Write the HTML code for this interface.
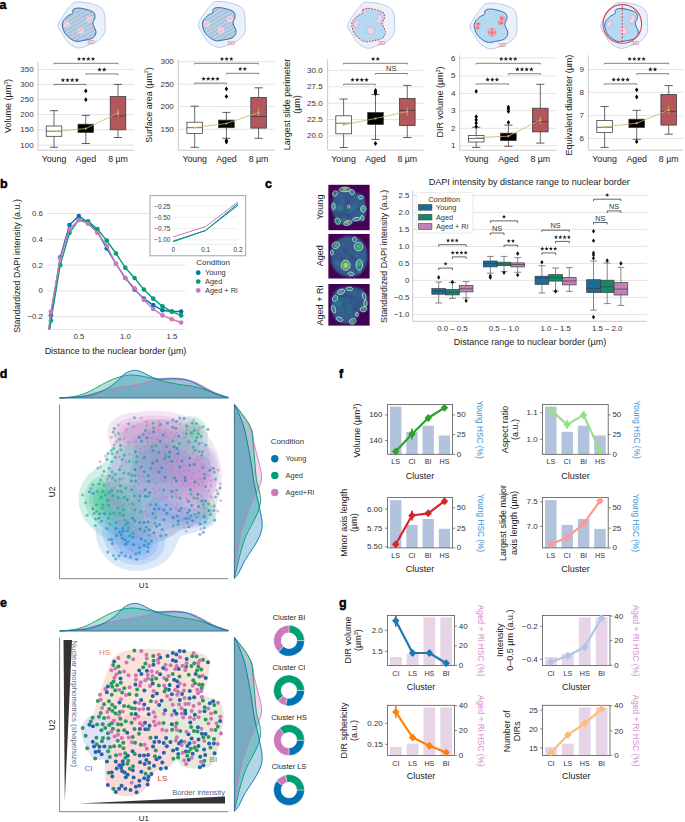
<!DOCTYPE html>
<html><head><meta charset="utf-8"><title>Figure</title>
<style>
html,body{margin:0;padding:0;background:#fff;}
body{width:685px;height:822px;overflow:hidden;}
svg{display:block;font-family:"Liberation Sans", sans-serif;}
</style></head>
<body>
<svg width="685" height="822" viewBox="0 0 685 822">
<rect width="685" height="822" fill="#fff"/>
<text x="-0.6" y="8.8" font-size="12.5" font-weight="bold" fill="#000" stroke="#000" stroke-width="0.45">a</text>
<line x1="38" y1="69.4" x2="134" y2="69.4" stroke="#dcdcdc" stroke-width="0.8" />
<text x="33.7" y="69.4" font-size="8" text-anchor="end" fill="#333" font-weight="normal" dominant-baseline="central" >350</text>
<line x1="38" y1="84.4" x2="134" y2="84.4" stroke="#dcdcdc" stroke-width="0.8" />
<text x="33.7" y="84.4" font-size="8" text-anchor="end" fill="#333" font-weight="normal" dominant-baseline="central" >300</text>
<line x1="38" y1="99.3" x2="134" y2="99.3" stroke="#dcdcdc" stroke-width="0.8" />
<text x="33.7" y="99.3" font-size="8" text-anchor="end" fill="#333" font-weight="normal" dominant-baseline="central" >250</text>
<line x1="38" y1="114.6" x2="134" y2="114.6" stroke="#dcdcdc" stroke-width="0.8" />
<text x="33.7" y="114.6" font-size="8" text-anchor="end" fill="#333" font-weight="normal" dominant-baseline="central" >200</text>
<line x1="38" y1="129.8" x2="134" y2="129.8" stroke="#dcdcdc" stroke-width="0.8" />
<text x="33.7" y="129.8" font-size="8" text-anchor="end" fill="#333" font-weight="normal" dominant-baseline="central" >150</text>
<line x1="38" y1="145.1" x2="134" y2="145.1" stroke="#dcdcdc" stroke-width="0.8" />
<text x="33.7" y="145.1" font-size="8" text-anchor="end" fill="#333" font-weight="normal" dominant-baseline="central" >100</text>
<line x1="38" y1="62" x2="38" y2="150.2" stroke="#bbb" stroke-width="0.8" />
<line x1="38" y1="150.2" x2="134" y2="150.2" stroke="#bbb" stroke-width="0.8" />
<line x1="54" y1="110.7" x2="54" y2="126" stroke="#383838" stroke-width="0.75" />
<line x1="54" y1="136.3" x2="54" y2="147.3" stroke="#383838" stroke-width="0.75" />
<line x1="49.9" y1="110.7" x2="58.1" y2="110.7" stroke="#383838" stroke-width="0.8" />
<line x1="49.9" y1="147.3" x2="58.1" y2="147.3" stroke="#383838" stroke-width="0.8" />
<rect x="46.2" y="126" width="15.6" height="10.3" fill="#fff" stroke="#383838" stroke-width="0.75" />
<line x1="46.2" y1="131.2" x2="61.8" y2="131.2" stroke="#383838" stroke-width="0.75" />
<line x1="85.8" y1="115.4" x2="85.8" y2="124.2" stroke="#383838" stroke-width="0.75" />
<line x1="85.8" y1="132.4" x2="85.8" y2="143.5" stroke="#383838" stroke-width="0.75" />
<line x1="81.7" y1="115.4" x2="89.9" y2="115.4" stroke="#383838" stroke-width="0.8" />
<line x1="81.7" y1="143.5" x2="89.9" y2="143.5" stroke="#383838" stroke-width="0.8" />
<rect x="78" y="124.2" width="15.6" height="8.2" fill="#000" stroke="#383838" stroke-width="0.75" />
<line x1="78" y1="128.7" x2="93.6" y2="128.7" stroke="#000" stroke-width="0.75" />
<path d="M85.8,88.5 L87.5,90.9 L85.8,93.3 L84.1,90.9 Z" fill="#000" stroke="none" stroke-width="0" />
<path d="M85.8,97.3 L87.5,99.7 L85.8,102.1 L84.1,99.7 Z" fill="#000" stroke="none" stroke-width="0" />
<line x1="118" y1="84.4" x2="118" y2="96.6" stroke="#383838" stroke-width="0.75" />
<line x1="118" y1="129.8" x2="118" y2="137.5" stroke="#383838" stroke-width="0.75" />
<line x1="113.9" y1="84.4" x2="122.1" y2="84.4" stroke="#383838" stroke-width="0.8" />
<line x1="113.9" y1="137.5" x2="122.1" y2="137.5" stroke="#383838" stroke-width="0.8" />
<rect x="110.2" y="96.6" width="15.6" height="33.2" fill="#b4575c" stroke="#383838" stroke-width="0.75" />
<line x1="110.2" y1="116" x2="125.8" y2="116" stroke="#383838" stroke-width="0.75" />
<path d="M54,131.5 L85.8,128.6 L118,113" fill="none" stroke="#cdb467" stroke-width="0.8" />
<circle cx="54" cy="131.5" r="1.1" fill="#cdb467" stroke="none" stroke-width="0" />
<circle cx="85.8" cy="128.6" r="1.1" fill="#cdb467" stroke="none" stroke-width="0" />
<circle cx="118" cy="113" r="1.1" fill="#cdb467" stroke="none" stroke-width="0" />
<line x1="118" y1="109" x2="118" y2="117" stroke="#cdb467" stroke-width="0.8" />
<line x1="54" y1="63.3" x2="118" y2="63.3" stroke="#555" stroke-width="0.75" />
<line x1="54" y1="63.3" x2="54" y2="64.5" stroke="#555" stroke-width="0.75" />
<line x1="118" y1="63.3" x2="118" y2="64.5" stroke="#555" stroke-width="0.75" />
<path d="M79.03,56.7 L79.63,58.16 L81.21,58.29 L80.01,59.32 L80.38,60.86 L79.03,60.03 L77.67,60.86 L78.04,59.32 L76.84,58.29 L78.42,58.16 Z" fill="#222" stroke="none" stroke-width="0" />
<path d="M83.68,56.7 L84.28,58.16 L85.86,58.29 L84.66,59.32 L85.03,60.86 L83.68,60.03 L82.32,60.86 L82.69,59.32 L81.49,58.29 L83.07,58.16 Z" fill="#222" stroke="none" stroke-width="0" />
<path d="M88.33,56.7 L88.93,58.16 L90.51,58.29 L89.31,59.32 L89.68,60.86 L88.33,60.03 L86.97,60.86 L87.34,59.32 L86.14,58.29 L87.72,58.16 Z" fill="#222" stroke="none" stroke-width="0" />
<path d="M92.98,56.7 L93.58,58.16 L95.16,58.29 L93.96,59.32 L94.33,60.86 L92.98,60.03 L91.62,60.86 L91.99,59.32 L90.79,58.29 L92.37,58.16 Z" fill="#222" stroke="none" stroke-width="0" />
<line x1="85.8" y1="73.9" x2="118" y2="73.9" stroke="#555" stroke-width="0.75" />
<line x1="85.8" y1="73.9" x2="85.8" y2="75.1" stroke="#555" stroke-width="0.75" />
<line x1="118" y1="73.9" x2="118" y2="75.1" stroke="#555" stroke-width="0.75" />
<path d="M99.58,67.3 L100.18,68.76 L101.76,68.89 L100.56,69.92 L100.93,71.46 L99.58,70.64 L98.22,71.46 L98.59,69.92 L97.39,68.89 L98.97,68.76 Z" fill="#222" stroke="none" stroke-width="0" />
<path d="M104.23,67.3 L104.83,68.76 L106.41,68.89 L105.21,69.92 L105.58,71.46 L104.23,70.64 L102.87,71.46 L103.24,69.92 L102.04,68.89 L103.62,68.76 Z" fill="#222" stroke="none" stroke-width="0" />
<line x1="54" y1="84.4" x2="85.8" y2="84.4" stroke="#555" stroke-width="0.75" />
<line x1="54" y1="84.4" x2="54" y2="85.6" stroke="#555" stroke-width="0.75" />
<line x1="85.8" y1="84.4" x2="85.8" y2="85.6" stroke="#555" stroke-width="0.75" />
<path d="M62.93,77.8 L63.53,79.26 L65.11,79.39 L63.91,80.42 L64.28,81.96 L62.93,81.14 L61.57,81.96 L61.94,80.42 L60.74,79.39 L62.32,79.26 Z" fill="#222" stroke="none" stroke-width="0" />
<path d="M67.58,77.8 L68.18,79.26 L69.76,79.39 L68.56,80.42 L68.93,81.96 L67.58,81.14 L66.22,81.96 L66.59,80.42 L65.39,79.39 L66.97,79.26 Z" fill="#222" stroke="none" stroke-width="0" />
<path d="M72.23,77.8 L72.83,79.26 L74.41,79.39 L73.21,80.42 L73.58,81.96 L72.23,81.14 L70.87,81.96 L71.24,80.42 L70.04,79.39 L71.62,79.26 Z" fill="#222" stroke="none" stroke-width="0" />
<path d="M76.88,77.8 L77.48,79.26 L79.06,79.39 L77.86,80.42 L78.23,81.96 L76.88,81.14 L75.52,81.96 L75.89,80.42 L74.69,79.39 L76.27,79.26 Z" fill="#222" stroke="none" stroke-width="0" />
<text x="54" y="158.6" font-size="8.8" text-anchor="middle" fill="#222" font-weight="normal" dominant-baseline="central" >Young</text>
<text x="85.8" y="158.6" font-size="8.8" text-anchor="middle" fill="#222" font-weight="normal" dominant-baseline="central" >Aged</text>
<text x="118" y="158.6" font-size="8.8" text-anchor="middle" fill="#222" font-weight="normal" dominant-baseline="central" >8 µm</text>
<text x="8.2" y="106" font-size="9" text-anchor="middle" fill="#222" font-weight="normal" dominant-baseline="central" transform="rotate(-90 8.2 106)" >Volume (µm<tspan dy="-2.5" font-size="5">3</tspan><tspan dy="2.5">)</tspan></text>
<line x1="178.3" y1="61.7" x2="274.5" y2="61.7" stroke="#dcdcdc" stroke-width="0.8" />
<text x="173.8" y="61.7" font-size="8" text-anchor="end" fill="#333" font-weight="normal" dominant-baseline="central" >300</text>
<line x1="178.3" y1="84.2" x2="274.5" y2="84.2" stroke="#dcdcdc" stroke-width="0.8" />
<text x="173.8" y="84.2" font-size="8" text-anchor="end" fill="#333" font-weight="normal" dominant-baseline="central" >250</text>
<line x1="178.3" y1="106.6" x2="274.5" y2="106.6" stroke="#dcdcdc" stroke-width="0.8" />
<text x="173.8" y="106.6" font-size="8" text-anchor="end" fill="#333" font-weight="normal" dominant-baseline="central" >200</text>
<line x1="178.3" y1="129.3" x2="274.5" y2="129.3" stroke="#dcdcdc" stroke-width="0.8" />
<text x="173.8" y="129.3" font-size="8" text-anchor="end" fill="#333" font-weight="normal" dominant-baseline="central" >150</text>
<line x1="178.3" y1="59.2" x2="178.3" y2="150.2" stroke="#bbb" stroke-width="0.8" />
<line x1="178.3" y1="150.2" x2="274.5" y2="150.2" stroke="#bbb" stroke-width="0.8" />
<line x1="194.7" y1="106.2" x2="194.7" y2="122.2" stroke="#383838" stroke-width="0.75" />
<line x1="194.7" y1="133.4" x2="194.7" y2="147.3" stroke="#383838" stroke-width="0.75" />
<line x1="190.6" y1="106.2" x2="198.8" y2="106.2" stroke="#383838" stroke-width="0.8" />
<line x1="190.6" y1="147.3" x2="198.8" y2="147.3" stroke="#383838" stroke-width="0.8" />
<rect x="186.9" y="122.2" width="15.6" height="11.2" fill="#fff" stroke="#383838" stroke-width="0.75" />
<line x1="186.9" y1="127.7" x2="202.5" y2="127.7" stroke="#383838" stroke-width="0.75" />
<line x1="226.4" y1="112.4" x2="226.4" y2="120.1" stroke="#383838" stroke-width="0.75" />
<line x1="226.4" y1="127.7" x2="226.4" y2="138.3" stroke="#383838" stroke-width="0.75" />
<line x1="222.3" y1="112.4" x2="230.5" y2="112.4" stroke="#383838" stroke-width="0.8" />
<line x1="222.3" y1="138.3" x2="230.5" y2="138.3" stroke="#383838" stroke-width="0.8" />
<rect x="218.6" y="120.1" width="15.6" height="7.6" fill="#000" stroke="#383838" stroke-width="0.75" />
<line x1="218.6" y1="124" x2="234.2" y2="124" stroke="#000" stroke-width="0.75" />
<path d="M226.4,86.5 L228.1,88.9 L226.4,91.3 L224.7,88.9 Z" fill="#000" stroke="none" stroke-width="0" />
<path d="M226.4,94 L228.1,96.4 L226.4,98.8 L224.7,96.4 Z" fill="#000" stroke="none" stroke-width="0" />
<path d="M226.4,138.1 L228.1,140.5 L226.4,142.9 L224.7,140.5 Z" fill="#000" stroke="none" stroke-width="0" />
<path d="M226.4,139.6 L228.1,142 L226.4,144.4 L224.7,142 Z" fill="#000" stroke="none" stroke-width="0" />
<line x1="258.6" y1="87.8" x2="258.6" y2="97.4" stroke="#383838" stroke-width="0.75" />
<line x1="258.6" y1="128.1" x2="258.6" y2="138.3" stroke="#383838" stroke-width="0.75" />
<line x1="254.5" y1="87.8" x2="262.7" y2="87.8" stroke="#383838" stroke-width="0.8" />
<line x1="254.5" y1="138.3" x2="262.7" y2="138.3" stroke="#383838" stroke-width="0.8" />
<rect x="250.8" y="97.4" width="15.6" height="30.7" fill="#b4575c" stroke="#383838" stroke-width="0.75" />
<line x1="250.8" y1="116.5" x2="266.4" y2="116.5" stroke="#383838" stroke-width="0.75" />
<path d="M194.7,127.5 L226.4,123.5 L258.6,112.5" fill="none" stroke="#cdb467" stroke-width="0.8" />
<circle cx="194.7" cy="127.5" r="1.1" fill="#cdb467" stroke="none" stroke-width="0" />
<circle cx="226.4" cy="123.5" r="1.1" fill="#cdb467" stroke="none" stroke-width="0" />
<circle cx="258.6" cy="112.5" r="1.1" fill="#cdb467" stroke="none" stroke-width="0" />
<line x1="258.6" y1="108.5" x2="258.6" y2="116.5" stroke="#cdb467" stroke-width="0.8" />
<line x1="194.7" y1="63.3" x2="258.6" y2="63.3" stroke="#555" stroke-width="0.75" />
<line x1="194.7" y1="63.3" x2="194.7" y2="64.5" stroke="#555" stroke-width="0.75" />
<line x1="258.6" y1="63.3" x2="258.6" y2="64.5" stroke="#555" stroke-width="0.75" />
<path d="M222,56.7 L222.61,58.16 L224.19,58.29 L222.98,59.32 L223.35,60.86 L222,60.03 L220.65,60.86 L221.02,59.32 L219.81,58.29 L221.39,58.16 Z" fill="#222" stroke="none" stroke-width="0" />
<path d="M226.65,56.7 L227.26,58.16 L228.84,58.29 L227.63,59.32 L228,60.86 L226.65,60.03 L225.3,60.86 L225.67,59.32 L224.46,58.29 L226.04,58.16 Z" fill="#222" stroke="none" stroke-width="0" />
<path d="M231.3,56.7 L231.91,58.16 L233.49,58.29 L232.28,59.32 L232.65,60.86 L231.3,60.03 L229.95,60.86 L230.32,59.32 L229.11,58.29 L230.69,58.16 Z" fill="#222" stroke="none" stroke-width="0" />
<line x1="226.4" y1="73.3" x2="258.6" y2="73.3" stroke="#555" stroke-width="0.75" />
<line x1="226.4" y1="73.3" x2="226.4" y2="74.5" stroke="#555" stroke-width="0.75" />
<line x1="258.6" y1="73.3" x2="258.6" y2="74.5" stroke="#555" stroke-width="0.75" />
<path d="M240.18,66.7 L240.78,68.16 L242.36,68.29 L241.16,69.32 L241.53,70.86 L240.18,70.03 L238.82,70.86 L239.19,69.32 L237.99,68.29 L239.57,68.16 Z" fill="#222" stroke="none" stroke-width="0" />
<path d="M244.83,66.7 L245.43,68.16 L247.01,68.29 L245.81,69.32 L246.18,70.86 L244.83,70.03 L243.47,70.86 L243.84,69.32 L242.64,68.29 L244.22,68.16 Z" fill="#222" stroke="none" stroke-width="0" />
<line x1="194.7" y1="83.1" x2="226.4" y2="83.1" stroke="#555" stroke-width="0.75" />
<line x1="194.7" y1="83.1" x2="194.7" y2="84.3" stroke="#555" stroke-width="0.75" />
<line x1="226.4" y1="83.1" x2="226.4" y2="84.3" stroke="#555" stroke-width="0.75" />
<path d="M203.58,76.5 L204.18,77.96 L205.76,78.09 L204.56,79.12 L204.93,80.66 L203.58,79.83 L202.22,80.66 L202.59,79.12 L201.39,78.09 L202.97,77.96 Z" fill="#222" stroke="none" stroke-width="0" />
<path d="M208.23,76.5 L208.83,77.96 L210.41,78.09 L209.21,79.12 L209.58,80.66 L208.23,79.83 L206.87,80.66 L207.24,79.12 L206.04,78.09 L207.62,77.96 Z" fill="#222" stroke="none" stroke-width="0" />
<path d="M212.88,76.5 L213.48,77.96 L215.06,78.09 L213.86,79.12 L214.23,80.66 L212.88,79.83 L211.52,80.66 L211.89,79.12 L210.69,78.09 L212.27,77.96 Z" fill="#222" stroke="none" stroke-width="0" />
<path d="M217.53,76.5 L218.13,77.96 L219.71,78.09 L218.51,79.12 L218.88,80.66 L217.53,79.83 L216.17,80.66 L216.54,79.12 L215.34,78.09 L216.92,77.96 Z" fill="#222" stroke="none" stroke-width="0" />
<text x="194.7" y="158.6" font-size="8.8" text-anchor="middle" fill="#222" font-weight="normal" dominant-baseline="central" >Young</text>
<text x="226.4" y="158.6" font-size="8.8" text-anchor="middle" fill="#222" font-weight="normal" dominant-baseline="central" >Aged</text>
<text x="258.6" y="158.6" font-size="8.8" text-anchor="middle" fill="#222" font-weight="normal" dominant-baseline="central" >8 µm</text>
<text x="148.9" y="105" font-size="9" text-anchor="middle" fill="#222" font-weight="normal" dominant-baseline="central" transform="rotate(-90 148.9 105)" >Surface area (µm<tspan dy="-2.5" font-size="5">2</tspan><tspan dy="2.5">)</tspan></text>
<line x1="327.6" y1="70.4" x2="423.7" y2="70.4" stroke="#dcdcdc" stroke-width="0.8" />
<text x="322.7" y="70.4" font-size="8" text-anchor="end" fill="#333" font-weight="normal" dominant-baseline="central" >30.0</text>
<line x1="327.6" y1="86.8" x2="423.7" y2="86.8" stroke="#dcdcdc" stroke-width="0.8" />
<text x="322.7" y="86.8" font-size="8" text-anchor="end" fill="#333" font-weight="normal" dominant-baseline="central" >27.5</text>
<line x1="327.6" y1="103.2" x2="423.7" y2="103.2" stroke="#dcdcdc" stroke-width="0.8" />
<text x="322.7" y="103.2" font-size="8" text-anchor="end" fill="#333" font-weight="normal" dominant-baseline="central" >25.0</text>
<line x1="327.6" y1="119.5" x2="423.7" y2="119.5" stroke="#dcdcdc" stroke-width="0.8" />
<text x="322.7" y="119.5" font-size="8" text-anchor="end" fill="#333" font-weight="normal" dominant-baseline="central" >22.5</text>
<line x1="327.6" y1="135.9" x2="423.7" y2="135.9" stroke="#dcdcdc" stroke-width="0.8" />
<text x="322.7" y="135.9" font-size="8" text-anchor="end" fill="#333" font-weight="normal" dominant-baseline="central" >20.0</text>
<line x1="327.6" y1="59.2" x2="327.6" y2="150.2" stroke="#bbb" stroke-width="0.8" />
<line x1="327.6" y1="150.2" x2="423.7" y2="150.2" stroke="#bbb" stroke-width="0.8" />
<line x1="343.6" y1="99" x2="343.6" y2="115.8" stroke="#383838" stroke-width="0.75" />
<line x1="343.6" y1="133.8" x2="343.6" y2="147.5" stroke="#383838" stroke-width="0.75" />
<line x1="339.5" y1="99" x2="347.7" y2="99" stroke="#383838" stroke-width="0.8" />
<line x1="339.5" y1="147.5" x2="347.7" y2="147.5" stroke="#383838" stroke-width="0.8" />
<rect x="335.8" y="115.8" width="15.6" height="18" fill="#fff" stroke="#383838" stroke-width="0.75" />
<line x1="335.8" y1="123.2" x2="351.4" y2="123.2" stroke="#383838" stroke-width="0.75" />
<line x1="375.5" y1="94.6" x2="375.5" y2="112.6" stroke="#383838" stroke-width="0.75" />
<line x1="375.5" y1="124.4" x2="375.5" y2="139.4" stroke="#383838" stroke-width="0.75" />
<line x1="371.4" y1="94.6" x2="379.6" y2="94.6" stroke="#383838" stroke-width="0.8" />
<line x1="371.4" y1="139.4" x2="379.6" y2="139.4" stroke="#383838" stroke-width="0.8" />
<rect x="367.7" y="112.6" width="15.6" height="11.8" fill="#000" stroke="#383838" stroke-width="0.75" />
<line x1="367.7" y1="118.7" x2="383.3" y2="118.7" stroke="#000" stroke-width="0.75" />
<path d="M375.5,88.1 L377.2,90.5 L375.5,92.9 L373.8,90.5 Z" fill="#000" stroke="none" stroke-width="0" />
<path d="M375.5,89.6 L377.2,92 L375.5,94.4 L373.8,92 Z" fill="#000" stroke="none" stroke-width="0" />
<path d="M375.5,91.1 L377.2,93.5 L375.5,95.9 L373.8,93.5 Z" fill="#000" stroke="none" stroke-width="0" />
<path d="M375.5,141.1 L377.2,143.5 L375.5,145.9 L373.8,143.5 Z" fill="#000" stroke="none" stroke-width="0" />
<line x1="407.3" y1="85.4" x2="407.3" y2="98.4" stroke="#383838" stroke-width="0.75" />
<line x1="407.3" y1="125.6" x2="407.3" y2="137.5" stroke="#383838" stroke-width="0.75" />
<line x1="403.2" y1="85.4" x2="411.4" y2="85.4" stroke="#383838" stroke-width="0.8" />
<line x1="403.2" y1="137.5" x2="411.4" y2="137.5" stroke="#383838" stroke-width="0.8" />
<rect x="399.5" y="98.4" width="15.6" height="27.2" fill="#b4575c" stroke="#383838" stroke-width="0.75" />
<line x1="399.5" y1="110.3" x2="415.1" y2="110.3" stroke="#383838" stroke-width="0.75" />
<path d="M343.6,124.8 L375.5,118.5 L407.3,111.5" fill="none" stroke="#cdb467" stroke-width="0.8" />
<circle cx="343.6" cy="124.8" r="1.1" fill="#cdb467" stroke="none" stroke-width="0" />
<circle cx="375.5" cy="118.5" r="1.1" fill="#cdb467" stroke="none" stroke-width="0" />
<circle cx="407.3" cy="111.5" r="1.1" fill="#cdb467" stroke="none" stroke-width="0" />
<line x1="407.3" y1="107.5" x2="407.3" y2="115.5" stroke="#cdb467" stroke-width="0.8" />
<line x1="343.6" y1="63.3" x2="407.3" y2="63.3" stroke="#555" stroke-width="0.75" />
<line x1="343.6" y1="63.3" x2="343.6" y2="64.5" stroke="#555" stroke-width="0.75" />
<line x1="407.3" y1="63.3" x2="407.3" y2="64.5" stroke="#555" stroke-width="0.75" />
<path d="M373.13,56.7 L373.73,58.16 L375.31,58.29 L374.11,59.32 L374.48,60.86 L373.13,60.03 L371.77,60.86 L372.14,59.32 L370.94,58.29 L372.52,58.16 Z" fill="#222" stroke="none" stroke-width="0" />
<path d="M377.78,56.7 L378.38,58.16 L379.96,58.29 L378.76,59.32 L379.13,60.86 L377.78,60.03 L376.42,60.86 L376.79,59.32 L375.59,58.29 L377.17,58.16 Z" fill="#222" stroke="none" stroke-width="0" />
<line x1="375.5" y1="73.5" x2="407.3" y2="73.5" stroke="#555" stroke-width="0.75" />
<line x1="375.5" y1="73.5" x2="375.5" y2="74.7" stroke="#555" stroke-width="0.75" />
<line x1="407.3" y1="73.5" x2="407.3" y2="74.7" stroke="#555" stroke-width="0.75" />
<text x="391.4" y="68.9" font-size="7.6" text-anchor="middle" fill="#333" font-weight="normal" dominant-baseline="central" >NS</text>
<line x1="343.6" y1="84.2" x2="375.5" y2="84.2" stroke="#555" stroke-width="0.75" />
<line x1="343.6" y1="84.2" x2="343.6" y2="85.4" stroke="#555" stroke-width="0.75" />
<line x1="375.5" y1="84.2" x2="375.5" y2="85.4" stroke="#555" stroke-width="0.75" />
<path d="M352.57,77.6 L353.18,79.06 L354.76,79.19 L353.56,80.22 L353.93,81.76 L352.57,80.94 L351.22,81.76 L351.59,80.22 L350.39,79.19 L351.97,79.06 Z" fill="#222" stroke="none" stroke-width="0" />
<path d="M357.22,77.6 L357.83,79.06 L359.41,79.19 L358.21,80.22 L358.58,81.76 L357.22,80.94 L355.87,81.76 L356.24,80.22 L355.04,79.19 L356.62,79.06 Z" fill="#222" stroke="none" stroke-width="0" />
<path d="M361.88,77.6 L362.48,79.06 L364.06,79.19 L362.86,80.22 L363.23,81.76 L361.88,80.94 L360.52,81.76 L360.89,80.22 L359.69,79.19 L361.27,79.06 Z" fill="#222" stroke="none" stroke-width="0" />
<path d="M366.52,77.6 L367.13,79.06 L368.71,79.19 L367.51,80.22 L367.88,81.76 L366.52,80.94 L365.17,81.76 L365.54,80.22 L364.34,79.19 L365.92,79.06 Z" fill="#222" stroke="none" stroke-width="0" />
<text x="343.6" y="158.6" font-size="8.8" text-anchor="middle" fill="#222" font-weight="normal" dominant-baseline="central" >Young</text>
<text x="375.5" y="158.6" font-size="8.8" text-anchor="middle" fill="#222" font-weight="normal" dominant-baseline="central" >Aged</text>
<text x="407.3" y="158.6" font-size="8.8" text-anchor="middle" fill="#222" font-weight="normal" dominant-baseline="central" >8 µm</text>
<text x="287.4" y="104.5" font-size="9" text-anchor="middle" fill="#222" font-weight="normal" dominant-baseline="central" transform="rotate(-90 287.4 104.5)" >Largest slide perimeter</text>
<text x="296.6" y="104.5" font-size="9" text-anchor="middle" fill="#222" font-weight="normal" dominant-baseline="central" transform="rotate(-90 296.6 104.5)" >(µm)</text>
<line x1="459.7" y1="58" x2="557" y2="58" stroke="#dcdcdc" stroke-width="0.8" />
<text x="455.5" y="58" font-size="8" text-anchor="end" fill="#333" font-weight="normal" dominant-baseline="central" >6</text>
<line x1="459.7" y1="75.8" x2="557" y2="75.8" stroke="#dcdcdc" stroke-width="0.8" />
<text x="455.5" y="75.8" font-size="8" text-anchor="end" fill="#333" font-weight="normal" dominant-baseline="central" >5</text>
<line x1="459.7" y1="93.4" x2="557" y2="93.4" stroke="#dcdcdc" stroke-width="0.8" />
<text x="455.5" y="93.4" font-size="8" text-anchor="end" fill="#333" font-weight="normal" dominant-baseline="central" >4</text>
<line x1="459.7" y1="110.7" x2="557" y2="110.7" stroke="#dcdcdc" stroke-width="0.8" />
<text x="455.5" y="110.7" font-size="8" text-anchor="end" fill="#333" font-weight="normal" dominant-baseline="central" >3</text>
<line x1="459.7" y1="128.3" x2="557" y2="128.3" stroke="#dcdcdc" stroke-width="0.8" />
<text x="455.5" y="128.3" font-size="8" text-anchor="end" fill="#333" font-weight="normal" dominant-baseline="central" >2</text>
<line x1="459.7" y1="145.7" x2="557" y2="145.7" stroke="#dcdcdc" stroke-width="0.8" />
<text x="455.5" y="145.7" font-size="8" text-anchor="end" fill="#333" font-weight="normal" dominant-baseline="central" >1</text>
<line x1="459.7" y1="55.3" x2="459.7" y2="150.2" stroke="#bbb" stroke-width="0.8" />
<line x1="459.7" y1="150.2" x2="557" y2="150.2" stroke="#bbb" stroke-width="0.8" />
<line x1="476.2" y1="127.2" x2="476.2" y2="135.5" stroke="#383838" stroke-width="0.75" />
<line x1="476.2" y1="142" x2="476.2" y2="147.4" stroke="#383838" stroke-width="0.75" />
<line x1="472.1" y1="127.2" x2="480.3" y2="127.2" stroke="#383838" stroke-width="0.8" />
<line x1="472.1" y1="147.4" x2="480.3" y2="147.4" stroke="#383838" stroke-width="0.8" />
<rect x="468.4" y="135.5" width="15.6" height="6.5" fill="#fff" stroke="#383838" stroke-width="0.75" />
<line x1="468.4" y1="138.5" x2="484" y2="138.5" stroke="#383838" stroke-width="0.75" />
<path d="M476.2,88.9 L477.9,91.3 L476.2,93.7 L474.5,91.3 Z" fill="#000" stroke="none" stroke-width="0" />
<path d="M476.2,114.3 L477.9,116.7 L476.2,119.1 L474.5,116.7 Z" fill="#000" stroke="none" stroke-width="0" />
<path d="M476.2,117.4 L477.9,119.8 L476.2,122.2 L474.5,119.8 Z" fill="#000" stroke="none" stroke-width="0" />
<path d="M476.2,120.6 L477.9,123 L476.2,125.4 L474.5,123 Z" fill="#000" stroke="none" stroke-width="0" />
<path d="M476.2,124.2 L477.9,126.6 L476.2,129 L474.5,126.6 Z" fill="#000" stroke="none" stroke-width="0" />
<line x1="508.4" y1="125.1" x2="508.4" y2="133.2" stroke="#383838" stroke-width="0.75" />
<line x1="508.4" y1="140.6" x2="508.4" y2="146.3" stroke="#383838" stroke-width="0.75" />
<line x1="504.3" y1="125.1" x2="512.5" y2="125.1" stroke="#383838" stroke-width="0.8" />
<line x1="504.3" y1="146.3" x2="512.5" y2="146.3" stroke="#383838" stroke-width="0.8" />
<rect x="500.6" y="133.2" width="15.6" height="7.4" fill="#000" stroke="#383838" stroke-width="0.75" />
<line x1="500.6" y1="136.3" x2="516.2" y2="136.3" stroke="#000" stroke-width="0.75" />
<path d="M508.4,104.7 L510.1,107.1 L508.4,109.5 L506.7,107.1 Z" fill="#000" stroke="none" stroke-width="0" />
<path d="M508.4,106.6 L510.1,109 L508.4,111.4 L506.7,109 Z" fill="#000" stroke="none" stroke-width="0" />
<path d="M508.4,109 L510.1,111.4 L508.4,113.8 L506.7,111.4 Z" fill="#000" stroke="none" stroke-width="0" />
<path d="M508.4,120 L510.1,122.4 L508.4,124.8 L506.7,122.4 Z" fill="#000" stroke="none" stroke-width="0" />
<line x1="540.3" y1="84.3" x2="540.3" y2="108.2" stroke="#383838" stroke-width="0.75" />
<line x1="540.3" y1="131.9" x2="540.3" y2="143.1" stroke="#383838" stroke-width="0.75" />
<line x1="536.2" y1="84.3" x2="544.4" y2="84.3" stroke="#383838" stroke-width="0.8" />
<line x1="536.2" y1="143.1" x2="544.4" y2="143.1" stroke="#383838" stroke-width="0.8" />
<rect x="532.5" y="108.2" width="15.6" height="23.7" fill="#b4575c" stroke="#383838" stroke-width="0.75" />
<line x1="532.5" y1="121.8" x2="548.1" y2="121.8" stroke="#383838" stroke-width="0.75" />
<path d="M476.2,137.7 L508.4,136.2 L540.3,120" fill="none" stroke="#cdb467" stroke-width="0.8" />
<circle cx="476.2" cy="137.7" r="1.1" fill="#cdb467" stroke="none" stroke-width="0" />
<circle cx="508.4" cy="136.2" r="1.1" fill="#cdb467" stroke="none" stroke-width="0" />
<circle cx="540.3" cy="120" r="1.1" fill="#cdb467" stroke="none" stroke-width="0" />
<line x1="540.3" y1="116" x2="540.3" y2="124" stroke="#cdb467" stroke-width="0.8" />
<line x1="476.2" y1="63.3" x2="540.3" y2="63.3" stroke="#555" stroke-width="0.75" />
<line x1="476.2" y1="63.3" x2="476.2" y2="64.5" stroke="#555" stroke-width="0.75" />
<line x1="540.3" y1="63.3" x2="540.3" y2="64.5" stroke="#555" stroke-width="0.75" />
<path d="M501.27,56.7 L501.88,58.16 L503.46,58.29 L502.26,59.32 L502.63,60.86 L501.27,60.03 L499.92,60.86 L500.29,59.32 L499.09,58.29 L500.67,58.16 Z" fill="#222" stroke="none" stroke-width="0" />
<path d="M505.92,56.7 L506.53,58.16 L508.11,58.29 L506.91,59.32 L507.28,60.86 L505.92,60.03 L504.57,60.86 L504.94,59.32 L503.74,58.29 L505.32,58.16 Z" fill="#222" stroke="none" stroke-width="0" />
<path d="M510.57,56.7 L511.18,58.16 L512.76,58.29 L511.56,59.32 L511.93,60.86 L510.57,60.03 L509.22,60.86 L509.59,59.32 L508.39,58.29 L509.97,58.16 Z" fill="#222" stroke="none" stroke-width="0" />
<path d="M515.23,56.7 L515.83,58.16 L517.41,58.29 L516.21,59.32 L516.58,60.86 L515.23,60.03 L513.87,60.86 L514.24,59.32 L513.04,58.29 L514.62,58.16 Z" fill="#222" stroke="none" stroke-width="0" />
<line x1="508.4" y1="73.7" x2="540.3" y2="73.7" stroke="#555" stroke-width="0.75" />
<line x1="508.4" y1="73.7" x2="508.4" y2="74.9" stroke="#555" stroke-width="0.75" />
<line x1="540.3" y1="73.7" x2="540.3" y2="74.9" stroke="#555" stroke-width="0.75" />
<path d="M517.37,67.1 L517.98,68.56 L519.56,68.69 L518.36,69.72 L518.73,71.26 L517.37,70.44 L516.02,71.26 L516.39,69.72 L515.19,68.69 L516.77,68.56 Z" fill="#222" stroke="none" stroke-width="0" />
<path d="M522.02,67.1 L522.63,68.56 L524.21,68.69 L523.01,69.72 L523.38,71.26 L522.02,70.44 L520.67,71.26 L521.04,69.72 L519.84,68.69 L521.42,68.56 Z" fill="#222" stroke="none" stroke-width="0" />
<path d="M526.67,67.1 L527.28,68.56 L528.86,68.69 L527.66,69.72 L528.03,71.26 L526.67,70.44 L525.32,71.26 L525.69,69.72 L524.49,68.69 L526.07,68.56 Z" fill="#222" stroke="none" stroke-width="0" />
<path d="M531.32,67.1 L531.93,68.56 L533.51,68.69 L532.31,69.72 L532.68,71.26 L531.32,70.44 L529.97,71.26 L530.34,69.72 L529.14,68.69 L530.72,68.56 Z" fill="#222" stroke="none" stroke-width="0" />
<line x1="476.2" y1="83.9" x2="508.4" y2="83.9" stroke="#555" stroke-width="0.75" />
<line x1="476.2" y1="83.9" x2="476.2" y2="85.1" stroke="#555" stroke-width="0.75" />
<line x1="508.4" y1="83.9" x2="508.4" y2="85.1" stroke="#555" stroke-width="0.75" />
<path d="M487.65,77.3 L488.26,78.76 L489.84,78.89 L488.63,79.92 L489,81.46 L487.65,80.64 L486.3,81.46 L486.67,79.92 L485.46,78.89 L487.04,78.76 Z" fill="#222" stroke="none" stroke-width="0" />
<path d="M492.3,77.3 L492.91,78.76 L494.49,78.89 L493.28,79.92 L493.65,81.46 L492.3,80.64 L490.95,81.46 L491.32,79.92 L490.11,78.89 L491.69,78.76 Z" fill="#222" stroke="none" stroke-width="0" />
<path d="M496.95,77.3 L497.56,78.76 L499.14,78.89 L497.93,79.92 L498.3,81.46 L496.95,80.64 L495.6,81.46 L495.97,79.92 L494.76,78.89 L496.34,78.76 Z" fill="#222" stroke="none" stroke-width="0" />
<text x="476.2" y="158.6" font-size="8.8" text-anchor="middle" fill="#222" font-weight="normal" dominant-baseline="central" >Young</text>
<text x="508.4" y="158.6" font-size="8.8" text-anchor="middle" fill="#222" font-weight="normal" dominant-baseline="central" >Aged</text>
<text x="540.3" y="158.6" font-size="8.8" text-anchor="middle" fill="#222" font-weight="normal" dominant-baseline="central" >8 µm</text>
<text x="440.2" y="102" font-size="9" text-anchor="middle" fill="#222" font-weight="normal" dominant-baseline="central" transform="rotate(-90 440.2 102)" >DIR volume (µm<tspan dy="-2.5" font-size="5">3</tspan><tspan dy="2.5">)</tspan></text>
<line x1="588.3" y1="69.5" x2="683" y2="69.5" stroke="#dcdcdc" stroke-width="0.8" />
<text x="584" y="69.5" font-size="8" text-anchor="end" fill="#333" font-weight="normal" dominant-baseline="central" >9</text>
<line x1="588.3" y1="92.3" x2="683" y2="92.3" stroke="#dcdcdc" stroke-width="0.8" />
<text x="584" y="92.3" font-size="8" text-anchor="end" fill="#333" font-weight="normal" dominant-baseline="central" >8</text>
<line x1="588.3" y1="115.6" x2="683" y2="115.6" stroke="#dcdcdc" stroke-width="0.8" />
<text x="584" y="115.6" font-size="8" text-anchor="end" fill="#333" font-weight="normal" dominant-baseline="central" >7</text>
<line x1="588.3" y1="138.5" x2="683" y2="138.5" stroke="#dcdcdc" stroke-width="0.8" />
<text x="584" y="138.5" font-size="8" text-anchor="end" fill="#333" font-weight="normal" dominant-baseline="central" >6</text>
<line x1="588.3" y1="55.3" x2="588.3" y2="150.2" stroke="#bbb" stroke-width="0.8" />
<line x1="588.3" y1="150.2" x2="683" y2="150.2" stroke="#bbb" stroke-width="0.8" />
<line x1="604.6" y1="106.5" x2="604.6" y2="120.5" stroke="#383838" stroke-width="0.75" />
<line x1="604.6" y1="132.5" x2="604.6" y2="147.4" stroke="#383838" stroke-width="0.75" />
<line x1="600.5" y1="106.5" x2="608.7" y2="106.5" stroke="#383838" stroke-width="0.8" />
<line x1="600.5" y1="147.4" x2="608.7" y2="147.4" stroke="#383838" stroke-width="0.8" />
<rect x="596.8" y="120.5" width="15.6" height="12" fill="#fff" stroke="#383838" stroke-width="0.75" />
<line x1="596.8" y1="127.3" x2="612.4" y2="127.3" stroke="#383838" stroke-width="0.75" />
<line x1="636.7" y1="110.3" x2="636.7" y2="119.2" stroke="#383838" stroke-width="0.75" />
<line x1="636.7" y1="127.5" x2="636.7" y2="139.3" stroke="#383838" stroke-width="0.75" />
<line x1="632.6" y1="110.3" x2="640.8" y2="110.3" stroke="#383838" stroke-width="0.8" />
<line x1="632.6" y1="139.3" x2="640.8" y2="139.3" stroke="#383838" stroke-width="0.8" />
<rect x="628.9" y="119.2" width="15.6" height="8.3" fill="#000" stroke="#383838" stroke-width="0.75" />
<line x1="628.9" y1="123.5" x2="644.5" y2="123.5" stroke="#000" stroke-width="0.75" />
<path d="M636.7,87.4 L638.4,89.8 L636.7,92.2 L635,89.8 Z" fill="#000" stroke="none" stroke-width="0" />
<path d="M636.7,94.6 L638.4,97 L636.7,99.4 L635,97 Z" fill="#000" stroke="none" stroke-width="0" />
<path d="M636.7,139.2 L638.4,141.6 L636.7,144 L635,141.6 Z" fill="#000" stroke="none" stroke-width="0" />
<line x1="668.7" y1="85.6" x2="668.7" y2="94.4" stroke="#383838" stroke-width="0.75" />
<line x1="668.7" y1="125.1" x2="668.7" y2="134.2" stroke="#383838" stroke-width="0.75" />
<line x1="664.6" y1="85.6" x2="672.8" y2="85.6" stroke="#383838" stroke-width="0.8" />
<line x1="664.6" y1="134.2" x2="672.8" y2="134.2" stroke="#383838" stroke-width="0.8" />
<rect x="660.9" y="94.4" width="15.6" height="30.7" fill="#b4575c" stroke="#383838" stroke-width="0.75" />
<line x1="660.9" y1="111.4" x2="676.5" y2="111.4" stroke="#383838" stroke-width="0.75" />
<path d="M604.6,126.8 L636.7,123.2 L668.7,110" fill="none" stroke="#cdb467" stroke-width="0.8" />
<circle cx="604.6" cy="126.8" r="1.1" fill="#cdb467" stroke="none" stroke-width="0" />
<circle cx="636.7" cy="123.2" r="1.1" fill="#cdb467" stroke="none" stroke-width="0" />
<circle cx="668.7" cy="110" r="1.1" fill="#cdb467" stroke="none" stroke-width="0" />
<line x1="668.7" y1="106" x2="668.7" y2="114" stroke="#cdb467" stroke-width="0.8" />
<line x1="604.6" y1="63.3" x2="668.7" y2="63.3" stroke="#555" stroke-width="0.75" />
<line x1="604.6" y1="63.3" x2="604.6" y2="64.5" stroke="#555" stroke-width="0.75" />
<line x1="668.7" y1="63.3" x2="668.7" y2="64.5" stroke="#555" stroke-width="0.75" />
<path d="M629.68,56.7 L630.28,58.16 L631.86,58.29 L630.66,59.32 L631.03,60.86 L629.68,60.03 L628.32,60.86 L628.69,59.32 L627.49,58.29 L629.07,58.16 Z" fill="#222" stroke="none" stroke-width="0" />
<path d="M634.33,56.7 L634.93,58.16 L636.51,58.29 L635.31,59.32 L635.68,60.86 L634.33,60.03 L632.97,60.86 L633.34,59.32 L632.14,58.29 L633.72,58.16 Z" fill="#222" stroke="none" stroke-width="0" />
<path d="M638.98,56.7 L639.58,58.16 L641.16,58.29 L639.96,59.32 L640.33,60.86 L638.98,60.03 L637.62,60.86 L637.99,59.32 L636.79,58.29 L638.37,58.16 Z" fill="#222" stroke="none" stroke-width="0" />
<path d="M643.63,56.7 L644.23,58.16 L645.81,58.29 L644.61,59.32 L644.98,60.86 L643.63,60.03 L642.27,60.86 L642.64,59.32 L641.44,58.29 L643.02,58.16 Z" fill="#222" stroke="none" stroke-width="0" />
<line x1="636.7" y1="73.7" x2="668.7" y2="73.7" stroke="#555" stroke-width="0.75" />
<line x1="636.7" y1="73.7" x2="636.7" y2="74.9" stroke="#555" stroke-width="0.75" />
<line x1="668.7" y1="73.7" x2="668.7" y2="74.9" stroke="#555" stroke-width="0.75" />
<path d="M650.38,67.1 L650.98,68.56 L652.56,68.69 L651.36,69.72 L651.73,71.26 L650.38,70.44 L649.02,71.26 L649.39,69.72 L648.19,68.69 L649.77,68.56 Z" fill="#222" stroke="none" stroke-width="0" />
<path d="M655.02,67.1 L655.63,68.56 L657.21,68.69 L656.01,69.72 L656.38,71.26 L655.02,70.44 L653.67,71.26 L654.04,69.72 L652.84,68.69 L654.42,68.56 Z" fill="#222" stroke="none" stroke-width="0" />
<line x1="604.6" y1="83.9" x2="636.7" y2="83.9" stroke="#555" stroke-width="0.75" />
<line x1="604.6" y1="83.9" x2="604.6" y2="85.1" stroke="#555" stroke-width="0.75" />
<line x1="636.7" y1="83.9" x2="636.7" y2="85.1" stroke="#555" stroke-width="0.75" />
<path d="M613.68,77.3 L614.28,78.76 L615.86,78.89 L614.66,79.92 L615.03,81.46 L613.68,80.64 L612.32,81.46 L612.69,79.92 L611.49,78.89 L613.07,78.76 Z" fill="#222" stroke="none" stroke-width="0" />
<path d="M618.33,77.3 L618.93,78.76 L620.51,78.89 L619.31,79.92 L619.68,81.46 L618.33,80.64 L616.97,81.46 L617.34,79.92 L616.14,78.89 L617.72,78.76 Z" fill="#222" stroke="none" stroke-width="0" />
<path d="M622.98,77.3 L623.58,78.76 L625.16,78.89 L623.96,79.92 L624.33,81.46 L622.98,80.64 L621.62,81.46 L621.99,79.92 L620.79,78.89 L622.37,78.76 Z" fill="#222" stroke="none" stroke-width="0" />
<path d="M627.63,77.3 L628.23,78.76 L629.81,78.89 L628.61,79.92 L628.98,81.46 L627.63,80.64 L626.27,81.46 L626.64,79.92 L625.44,78.89 L627.02,78.76 Z" fill="#222" stroke="none" stroke-width="0" />
<text x="604.6" y="158.6" font-size="8.8" text-anchor="middle" fill="#222" font-weight="normal" dominant-baseline="central" >Young</text>
<text x="636.7" y="158.6" font-size="8.8" text-anchor="middle" fill="#222" font-weight="normal" dominant-baseline="central" >Aged</text>
<text x="668.7" y="158.6" font-size="8.8" text-anchor="middle" fill="#222" font-weight="normal" dominant-baseline="central" >8 µm</text>
<text x="568.6" y="105" font-size="9" text-anchor="middle" fill="#222" font-weight="normal" dominant-baseline="central" transform="rotate(-90 568.6 105)" >Equivalent diameter (µm)</text>
<text x="0" y="187.6" font-size="12.5" font-weight="bold" fill="#000" stroke="#000" stroke-width="0.45">b</text>
<defs><clipPath id="clipb"><rect x="47.5" y="190" width="140" height="139.6"/></clipPath><clipPath id="clipi"><rect x="172" y="197" width="70" height="47.3"/></clipPath></defs>
<line x1="47.3" y1="213.5" x2="185.4" y2="213.5" stroke="#dcdcdc" stroke-width="0.8" />
<text x="42.8" y="213.5" font-size="7.8" text-anchor="end" fill="#333" font-weight="normal" dominant-baseline="central" >0.6</text>
<line x1="47.3" y1="239.3" x2="185.4" y2="239.3" stroke="#dcdcdc" stroke-width="0.8" />
<text x="42.8" y="239.3" font-size="7.8" text-anchor="end" fill="#333" font-weight="normal" dominant-baseline="central" >0.4</text>
<line x1="47.3" y1="265.1" x2="185.4" y2="265.1" stroke="#dcdcdc" stroke-width="0.8" />
<text x="42.8" y="265.1" font-size="7.8" text-anchor="end" fill="#333" font-weight="normal" dominant-baseline="central" >0.2</text>
<line x1="47.3" y1="290.9" x2="185.4" y2="290.9" stroke="#dcdcdc" stroke-width="0.8" />
<text x="42.8" y="290.9" font-size="7.8" text-anchor="end" fill="#333" font-weight="normal" dominant-baseline="central" >0</text>
<line x1="47.3" y1="316.7" x2="185.4" y2="316.7" stroke="#dcdcdc" stroke-width="0.8" />
<text x="42.8" y="316.7" font-size="7.8" text-anchor="end" fill="#333" font-weight="normal" dominant-baseline="central" >−0.2</text>
<line x1="47.3" y1="329.6" x2="185.4" y2="329.6" stroke="#dcdcdc" stroke-width="0.8" />
<text x="78.8" y="336.8" font-size="7.8" text-anchor="middle" fill="#333" font-weight="normal" dominant-baseline="central" >0.5</text>
<text x="125.3" y="336.8" font-size="7.8" text-anchor="middle" fill="#333" font-weight="normal" dominant-baseline="central" >1.0</text>
<text x="171.8" y="336.8" font-size="7.8" text-anchor="middle" fill="#333" font-weight="normal" dominant-baseline="central" >1.5</text>
<text x="115.5" y="350.6" font-size="9" text-anchor="middle" fill="#222" font-weight="normal" dominant-baseline="central" >Distance to the nuclear border (µm)</text>
<text x="17" y="266" font-size="8.9" text-anchor="middle" fill="#222" font-weight="normal" dominant-baseline="central" transform="rotate(-90 17 266)" >Standardized DAPI intensity (a.u.)</text>
<g clip-path="url(#clipb)">
<path d="M41.6,394.1 L50.9,315.41 L60.2,257.36 L69.5,225.11 L78.8,216.08 L88.1,222.53 L97.4,231.56 L106.7,248.33 L116,263.81 L125.3,278 L134.6,289.61 L143.9,298.64 L153.2,305.09 L162.5,310.25 L171.8,311.54 L181.1,311.54" fill="none" stroke="#0173B2" stroke-width="1.4" stroke-linejoin="round"/>
<circle cx="50.9" cy="315.41" r="2.3" fill="#0173B2" stroke="none" stroke-width="0" />
<circle cx="60.2" cy="257.36" r="2.3" fill="#0173B2" stroke="none" stroke-width="0" />
<circle cx="69.5" cy="225.11" r="2.3" fill="#0173B2" stroke="none" stroke-width="0" />
<circle cx="78.8" cy="216.08" r="2.3" fill="#0173B2" stroke="none" stroke-width="0" />
<circle cx="88.1" cy="222.53" r="2.3" fill="#0173B2" stroke="none" stroke-width="0" />
<circle cx="97.4" cy="231.56" r="2.3" fill="#0173B2" stroke="none" stroke-width="0" />
<circle cx="106.7" cy="248.33" r="2.3" fill="#0173B2" stroke="none" stroke-width="0" />
<circle cx="116" cy="263.81" r="2.3" fill="#0173B2" stroke="none" stroke-width="0" />
<circle cx="125.3" cy="278" r="2.3" fill="#0173B2" stroke="none" stroke-width="0" />
<circle cx="134.6" cy="289.61" r="2.3" fill="#0173B2" stroke="none" stroke-width="0" />
<circle cx="143.9" cy="298.64" r="2.3" fill="#0173B2" stroke="none" stroke-width="0" />
<circle cx="153.2" cy="305.09" r="2.3" fill="#0173B2" stroke="none" stroke-width="0" />
<circle cx="162.5" cy="310.25" r="2.3" fill="#0173B2" stroke="none" stroke-width="0" />
<circle cx="171.8" cy="311.54" r="2.3" fill="#0173B2" stroke="none" stroke-width="0" />
<circle cx="181.1" cy="311.54" r="2.3" fill="#0173B2" stroke="none" stroke-width="0" />
<path d="M41.6,394.1 L50.9,320.57 L60.2,265.1 L69.5,232.85 L78.8,219.95 L88.1,221.24 L97.4,228.98 L106.7,240.59 L116,253.49 L125.3,267.68 L134.6,278 L143.9,289.61 L153.2,298.64 L162.5,306.38 L171.8,311.54 L181.1,315.41" fill="none" stroke="#029E73" stroke-width="1.4" stroke-linejoin="round"/>
<circle cx="50.9" cy="320.57" r="2.3" fill="#029E73" stroke="none" stroke-width="0" />
<circle cx="60.2" cy="265.1" r="2.3" fill="#029E73" stroke="none" stroke-width="0" />
<circle cx="69.5" cy="232.85" r="2.3" fill="#029E73" stroke="none" stroke-width="0" />
<circle cx="78.8" cy="219.95" r="2.3" fill="#029E73" stroke="none" stroke-width="0" />
<circle cx="88.1" cy="221.24" r="2.3" fill="#029E73" stroke="none" stroke-width="0" />
<circle cx="97.4" cy="228.98" r="2.3" fill="#029E73" stroke="none" stroke-width="0" />
<circle cx="106.7" cy="240.59" r="2.3" fill="#029E73" stroke="none" stroke-width="0" />
<circle cx="116" cy="253.49" r="2.3" fill="#029E73" stroke="none" stroke-width="0" />
<circle cx="125.3" cy="267.68" r="2.3" fill="#029E73" stroke="none" stroke-width="0" />
<circle cx="134.6" cy="278" r="2.3" fill="#029E73" stroke="none" stroke-width="0" />
<circle cx="143.9" cy="289.61" r="2.3" fill="#029E73" stroke="none" stroke-width="0" />
<circle cx="153.2" cy="298.64" r="2.3" fill="#029E73" stroke="none" stroke-width="0" />
<circle cx="162.5" cy="306.38" r="2.3" fill="#029E73" stroke="none" stroke-width="0" />
<circle cx="171.8" cy="311.54" r="2.3" fill="#029E73" stroke="none" stroke-width="0" />
<circle cx="181.1" cy="315.41" r="2.3" fill="#029E73" stroke="none" stroke-width="0" />
<path d="M41.6,382.49 L50.9,311.54 L60.2,258.65 L69.5,228.98 L78.8,219.95 L88.1,223.82 L97.4,232.85 L106.7,245.75 L116,263.81 L125.3,278 L134.6,288.32 L143.9,299.93 L153.2,308.96 L162.5,315.41 L171.8,319.28 L181.1,322.5" fill="none" stroke="#CC78BC" stroke-width="1.4" stroke-linejoin="round"/>
<circle cx="50.9" cy="311.54" r="2.3" fill="#CC78BC" stroke="none" stroke-width="0" />
<circle cx="60.2" cy="258.65" r="2.3" fill="#CC78BC" stroke="none" stroke-width="0" />
<circle cx="69.5" cy="228.98" r="2.3" fill="#CC78BC" stroke="none" stroke-width="0" />
<circle cx="78.8" cy="219.95" r="2.3" fill="#CC78BC" stroke="none" stroke-width="0" />
<circle cx="88.1" cy="223.82" r="2.3" fill="#CC78BC" stroke="none" stroke-width="0" />
<circle cx="97.4" cy="232.85" r="2.3" fill="#CC78BC" stroke="none" stroke-width="0" />
<circle cx="106.7" cy="245.75" r="2.3" fill="#CC78BC" stroke="none" stroke-width="0" />
<circle cx="116" cy="263.81" r="2.3" fill="#CC78BC" stroke="none" stroke-width="0" />
<circle cx="125.3" cy="278" r="2.3" fill="#CC78BC" stroke="none" stroke-width="0" />
<circle cx="134.6" cy="288.32" r="2.3" fill="#CC78BC" stroke="none" stroke-width="0" />
<circle cx="143.9" cy="299.93" r="2.3" fill="#CC78BC" stroke="none" stroke-width="0" />
<circle cx="153.2" cy="308.96" r="2.3" fill="#CC78BC" stroke="none" stroke-width="0" />
<circle cx="162.5" cy="315.41" r="2.3" fill="#CC78BC" stroke="none" stroke-width="0" />
<circle cx="171.8" cy="319.28" r="2.3" fill="#CC78BC" stroke="none" stroke-width="0" />
<circle cx="181.1" cy="322.5" r="2.3" fill="#CC78BC" stroke="none" stroke-width="0" />
</g>
<rect x="150" y="195.6" width="95.7" height="60.2" fill="#fff" stroke="#9a9a9a" stroke-width="0.9" />
<line x1="172.9" y1="206" x2="237.5" y2="206" stroke="#e6e6e6" stroke-width="0.7" />
<text x="170.4" y="206" font-size="6.4" text-anchor="end" fill="#333" font-weight="normal" dominant-baseline="central" >−0.25</text>
<line x1="172.9" y1="217.28" x2="237.5" y2="217.28" stroke="#e6e6e6" stroke-width="0.7" />
<text x="170.4" y="217.28" font-size="6.4" text-anchor="end" fill="#333" font-weight="normal" dominant-baseline="central" >−0.50</text>
<line x1="172.9" y1="228.55" x2="237.5" y2="228.55" stroke="#e6e6e6" stroke-width="0.7" />
<text x="170.4" y="228.55" font-size="6.4" text-anchor="end" fill="#333" font-weight="normal" dominant-baseline="central" >−0.75</text>
<line x1="172.9" y1="239.82" x2="237.5" y2="239.82" stroke="#e6e6e6" stroke-width="0.7" />
<text x="170.4" y="239.82" font-size="6.4" text-anchor="end" fill="#333" font-weight="normal" dominant-baseline="central" >−1.00</text>
<line x1="172.9" y1="244.3" x2="237.5" y2="244.3" stroke="#e6e6e6" stroke-width="0.7" />
<text x="173.2" y="249.8" font-size="6.4" text-anchor="middle" fill="#333" font-weight="normal" dominant-baseline="central" >0</text>
<text x="205.6" y="249.8" font-size="6.4" text-anchor="middle" fill="#333" font-weight="normal" dominant-baseline="central" >0.1</text>
<text x="238" y="249.8" font-size="6.4" text-anchor="middle" fill="#333" font-weight="normal" dominant-baseline="central" >0.2</text>
<g clip-path="url(#clipi)">
<path d="M173.2,241.63 L205.6,230.49 L238,203.7" fill="none" stroke="#0173B2" stroke-width="1.0" />
<path d="M173.2,241.09 L205.6,230.49 L238,205.28" fill="none" stroke="#029E73" stroke-width="1.0" />
<path d="M173.2,236.89 L205.6,226.61 L238,201.99" fill="none" stroke="#CC78BC" stroke-width="1.0" />
</g>
<text x="196.2" y="262.6" font-size="8" text-anchor="start" fill="#333" font-weight="normal" dominant-baseline="central" >Condition</text>
<circle cx="198.2" cy="272.7" r="2.4" fill="#0173B2" stroke="none" stroke-width="0" />
<text x="205" y="272.7" font-size="7.4" text-anchor="start" fill="#333" font-weight="normal" dominant-baseline="central" >Young</text>
<circle cx="198.2" cy="281.55" r="2.4" fill="#029E73" stroke="none" stroke-width="0" />
<text x="205" y="281.55" font-size="7.4" text-anchor="start" fill="#333" font-weight="normal" dominant-baseline="central" >Aged</text>
<circle cx="198.2" cy="290.4" r="2.4" fill="#CC78BC" stroke="none" stroke-width="0" />
<text x="205" y="290.4" font-size="7.4" text-anchor="start" fill="#333" font-weight="normal" dominant-baseline="central" >Aged + Ri</text>
<text x="265" y="188.2" font-size="12.5" font-weight="bold" fill="#000" stroke="#000" stroke-width="0.45">c</text>
<defs>
<filter id="bl1" x="-20%" y="-20%" width="140%" height="140%"><feGaussianBlur stdDeviation="0.8"/></filter>
<filter id="bl2" x="-50%" y="-50%" width="200%" height="200%"><feGaussianBlur stdDeviation="1.5"/></filter>
<radialGradient id="gY"><stop offset="0" stop-color="#fde725"/><stop offset="0.45" stop-color="#b5de2b"/><stop offset="0.8" stop-color="#35b779"/><stop offset="1" stop-color="#21918c"/></radialGradient>
<radialGradient id="gG"><stop offset="0" stop-color="#6ece58"/><stop offset="0.6" stop-color="#35b779"/><stop offset="1" stop-color="#1f9e89"/></radialGradient>
<radialGradient id="gT"><stop offset="0" stop-color="#35b779"/><stop offset="1" stop-color="#21918c"/></radialGradient>
<clipPath id="imc1"><rect x="328.2" y="184.6" width="41.6" height="45.8"/></clipPath>
<clipPath id="imc2"><rect x="328.2" y="233.8" width="41.6" height="44.9"/></clipPath>
<clipPath id="imc3"><rect x="328.2" y="284.0" width="41.6" height="41.8"/></clipPath>
</defs>
<g clip-path="url(#imc1)">
<rect x="328.2" y="184.6" width="41.6" height="45.8" fill="#440154" stroke="none" stroke-width="0.8" />
<path d="M334.11,196.02 C334.93,194.38 335.98,191.75 337.61,190.41 C339.25,189.07 341.58,188.07 343.92,187.96 C346.26,187.84 349.53,188.72 351.63,189.71 C353.73,190.7 354.67,192.98 356.53,193.91 C358.4,194.85 361.44,194.26 362.84,195.31 C364.24,196.37 364.48,198.35 364.94,200.22 C365.41,202.09 365.53,204.31 365.64,206.53 C365.76,208.75 365.88,211.55 365.64,213.53 C365.41,215.52 365.18,217.16 364.24,218.44 C363.31,219.72 361.67,220.78 360.04,221.24 C358.4,221.71 356.18,220.78 354.43,221.24 C352.68,221.71 351.51,223.46 349.53,224.05 C347.54,224.63 344.62,225.21 342.52,224.75 C340.42,224.28 338.43,222.88 336.91,221.24 C335.39,219.61 334.29,217.39 333.41,214.94 C332.53,212.48 331.77,208.98 331.66,206.53 C331.54,204.07 332.3,201.97 332.71,200.22 C333.12,198.47 333.29,197.65 334.11,196.02 Z" fill="#365c8d" filter="url(#bl1)"/>
<circle cx="349.58" cy="214.6" r="2.05" fill="#433e85" stroke="none" stroke-width="0" filter="url(#bl2)" opacity="0.75"/>
<circle cx="340.98" cy="208.32" r="2.41" fill="#21918c" stroke="none" stroke-width="0" filter="url(#bl2)" opacity="0.75"/>
<circle cx="348.81" cy="210.27" r="2.99" fill="#21918c" stroke="none" stroke-width="0" filter="url(#bl2)" opacity="0.75"/>
<circle cx="341.56" cy="205.04" r="2.1" fill="#287c8e" stroke="none" stroke-width="0" filter="url(#bl2)" opacity="0.75"/>
<circle cx="349.24" cy="209.11" r="2.89" fill="#21918c" stroke="none" stroke-width="0" filter="url(#bl2)" opacity="0.75"/>
<circle cx="348.48" cy="197.61" r="1.6" fill="#433e85" stroke="none" stroke-width="0" filter="url(#bl2)" opacity="0.75"/>
<circle cx="359.53" cy="209.9" r="2.74" fill="#3e4a89" stroke="none" stroke-width="0" filter="url(#bl2)" opacity="0.75"/>
<circle cx="339.08" cy="208.71" r="2.82" fill="#21918c" stroke="none" stroke-width="0" filter="url(#bl2)" opacity="0.75"/>
<circle cx="340.14" cy="213.87" r="2.17" fill="#287c8e" stroke="none" stroke-width="0" filter="url(#bl2)" opacity="0.75"/>
<circle cx="349.99" cy="206.06" r="1.7" fill="#287c8e" stroke="none" stroke-width="0" filter="url(#bl2)" opacity="0.75"/>
<circle cx="348.53" cy="216.4" r="2.67" fill="#3e4a89" stroke="none" stroke-width="0" filter="url(#bl2)" opacity="0.75"/>
<circle cx="338.73" cy="212.55" r="2.36" fill="#433e85" stroke="none" stroke-width="0" filter="url(#bl2)" opacity="0.75"/>
<circle cx="341.96" cy="202.83" r="2.86" fill="#2c7a8e" stroke="none" stroke-width="0" filter="url(#bl2)" opacity="0.75"/>
<circle cx="357.6" cy="196.11" r="2.51" fill="#287c8e" stroke="none" stroke-width="0" filter="url(#bl2)" opacity="0.75"/>
<circle cx="347.55" cy="202.67" r="2.31" fill="#433e85" stroke="none" stroke-width="0" filter="url(#bl2)" opacity="0.75"/>
<circle cx="339.93" cy="202.8" r="1.82" fill="#433e85" stroke="none" stroke-width="0" filter="url(#bl2)" opacity="0.75"/>
<circle cx="348.81" cy="208.73" r="2.22" fill="#21918c" stroke="none" stroke-width="0" filter="url(#bl2)" opacity="0.75"/>
<circle cx="358.52" cy="212.92" r="2.12" fill="#287c8e" stroke="none" stroke-width="0" filter="url(#bl2)" opacity="0.75"/>
<circle cx="354.93" cy="207.75" r="2.12" fill="#2c7a8e" stroke="none" stroke-width="0" filter="url(#bl2)" opacity="0.75"/>
<circle cx="357.27" cy="209.36" r="1.57" fill="#433e85" stroke="none" stroke-width="0" filter="url(#bl2)" opacity="0.75"/>
<circle cx="342.99" cy="217.77" r="2.97" fill="#433e85" stroke="none" stroke-width="0" filter="url(#bl2)" opacity="0.75"/>
<circle cx="349.04" cy="207.5" r="1.51" fill="#2c7a8e" stroke="none" stroke-width="0" filter="url(#bl2)" opacity="0.75"/>
<circle cx="348.64" cy="206.74" r="1.8" fill="#21918c" stroke="none" stroke-width="0" filter="url(#bl2)" opacity="0.75"/>
<circle cx="348.05" cy="210.56" r="2.53" fill="#3e4a89" stroke="none" stroke-width="0" filter="url(#bl2)" opacity="0.75"/>
<circle cx="343.76" cy="219.36" r="2.84" fill="#21918c" stroke="none" stroke-width="0" filter="url(#bl2)" opacity="0.75"/>
<circle cx="340.29" cy="215.52" r="2.08" fill="#433e85" stroke="none" stroke-width="0" filter="url(#bl2)" opacity="0.75"/>
<circle cx="348.4" cy="205.7" r="2.96" fill="#433e85" stroke="none" stroke-width="0" filter="url(#bl2)" opacity="0.75"/>
<circle cx="347.82" cy="215.8" r="2.57" fill="#3e4a89" stroke="none" stroke-width="0" filter="url(#bl2)" opacity="0.75"/>
<circle cx="345.66" cy="208.38" r="1.95" fill="#3e4a89" stroke="none" stroke-width="0" filter="url(#bl2)" opacity="0.75"/>
<circle cx="354.8" cy="207.42" r="2.37" fill="#2c7a8e" stroke="none" stroke-width="0" filter="url(#bl2)" opacity="0.75"/>
<ellipse cx="345" cy="189.2" rx="3.85" ry="1.65" fill="url(#gY)" filter="url(#bl1)"/>
<ellipse cx="351.5" cy="191.8" rx="2.2" ry="1.98" fill="url(#gT)" filter="url(#bl1)"/>
<ellipse cx="361" cy="197.5" rx="2.2" ry="1.32" fill="url(#gT)" filter="url(#bl1)"/>
<ellipse cx="333.5" cy="206" rx="1.32" ry="3.3" fill="url(#gT)" filter="url(#bl1)"/>
<ellipse cx="363.2" cy="208.8" rx="2.2" ry="2.75" fill="url(#gG)" filter="url(#bl1)"/>
<ellipse cx="362" cy="218" rx="1.43" ry="2.42" fill="url(#gT)" filter="url(#bl1)"/>
<ellipse cx="337.5" cy="221.5" rx="2.2" ry="2.75" fill="url(#gT)" filter="url(#bl1)"/>
<ellipse cx="347.5" cy="222.8" rx="3.3" ry="1.65" fill="url(#gY)" filter="url(#bl1)"/>
<ellipse cx="356" cy="219" rx="3.3" ry="1.32" fill="url(#gT)" filter="url(#bl1)"/>
<ellipse cx="334.5" cy="194" rx="1.65" ry="2.2" fill="url(#gT)" filter="url(#bl1)"/>
<path d="M350.5,189.5 C350.5,189.93 350.08,190.44 349.45,190.79 C348.82,191.14 347.72,191.46 346.7,191.59 C345.67,191.73 344.33,191.73 343.3,191.59 C342.28,191.46 341.18,191.14 340.55,190.79 C339.92,190.44 339.5,189.93 339.5,189.5 C339.5,189.07 339.92,188.56 340.55,188.21 C341.18,187.86 342.28,187.54 343.3,187.41 C344.33,187.27 345.67,187.27 346.7,187.41 C347.72,187.54 348.82,187.86 349.45,188.21 C350.08,188.56 350.5,189.07 350.5,189.5 Z" fill="none" stroke="#f4fbf4" stroke-width="0.7"/>
<path d="M354.23,193.52 C353.99,193.88 353.53,194.19 353.07,194.3 C352.62,194.41 352,194.37 351.51,194.2 C351.02,194.02 350.47,193.65 350.13,193.26 C349.79,192.86 349.53,192.3 349.47,191.83 C349.41,191.37 349.53,190.83 349.77,190.48 C350.01,190.12 350.47,189.81 350.93,189.7 C351.38,189.59 352,189.63 352.49,189.8 C352.98,189.98 353.53,190.35 353.87,190.74 C354.21,191.14 354.47,191.7 354.53,192.17 C354.59,192.63 354.47,193.17 354.23,193.52 Z" fill="none" stroke="#f4fbf4" stroke-width="0.7"/>
<path d="M363.2,197.3 C363.2,197.63 363.02,198.03 362.74,198.3 C362.47,198.57 361.99,198.81 361.54,198.92 C361.09,199.02 360.51,199.02 360.06,198.92 C359.61,198.81 359.13,198.57 358.86,198.3 C358.58,198.03 358.4,197.63 358.4,197.3 C358.4,196.97 358.58,196.57 358.86,196.3 C359.13,196.03 359.61,195.79 360.06,195.68 C360.51,195.58 361.09,195.58 361.54,195.68 C361.99,195.79 362.47,196.03 362.74,196.3 C363.02,196.57 363.2,196.97 363.2,197.3 Z" fill="none" stroke="#f4fbf4" stroke-width="0.7"/>
<path d="M335.1,206.5 C335.1,207.19 334.98,208 334.79,208.56 C334.61,209.11 334.29,209.62 333.99,209.83 C333.7,210.04 333.3,210.04 333.01,209.83 C332.71,209.62 332.39,209.11 332.21,208.56 C332.02,208 331.9,207.19 331.9,206.5 C331.9,205.81 332.02,205 332.21,204.44 C332.39,203.89 332.71,203.38 333.01,203.17 C333.3,202.96 333.7,202.96 333.99,203.17 C334.29,203.38 334.61,203.89 334.79,204.44 C334.98,205 335.1,205.81 335.1,206.5 Z" fill="none" stroke="#f4fbf4" stroke-width="0.7"/>
<path d="M365.9,209 C365.9,209.63 365.7,210.37 365.4,210.88 C365.1,211.39 364.59,211.85 364.1,212.04 C363.62,212.24 362.98,212.24 362.5,212.04 C362.01,211.85 361.5,211.39 361.2,210.88 C360.9,210.37 360.7,209.63 360.7,209 C360.7,208.37 360.9,207.63 361.2,207.12 C361.5,206.61 362.01,206.15 362.5,205.96 C362.98,205.76 363.62,205.76 364.1,205.96 C364.59,206.15 365.1,206.61 365.4,207.12 C365.7,207.63 365.9,208.37 365.9,209 Z" fill="none" stroke="#f4fbf4" stroke-width="0.7"/>
<path d="M363.77,217.38 C363.97,217.85 364.1,218.45 364.09,218.9 C364.08,219.35 363.93,219.82 363.72,220.09 C363.51,220.35 363.14,220.5 362.81,220.47 C362.47,220.44 362.03,220.22 361.7,219.91 C361.37,219.6 361.02,219.09 360.83,218.62 C360.63,218.15 360.5,217.55 360.51,217.1 C360.52,216.65 360.67,216.18 360.88,215.91 C361.09,215.65 361.46,215.5 361.79,215.53 C362.13,215.56 362.57,215.78 362.9,216.09 C363.23,216.4 363.58,216.91 363.77,217.38 Z" fill="none" stroke="#f4fbf4" stroke-width="0.7"/>
<path d="M339.88,219.95 C340.18,220.5 340.37,221.25 340.35,221.84 C340.33,222.43 340.1,223.08 339.76,223.49 C339.43,223.89 338.87,224.19 338.35,224.26 C337.84,224.32 337.16,224.16 336.66,223.86 C336.15,223.56 335.62,223 335.32,222.45 C335.02,221.9 334.83,221.15 334.85,220.56 C334.87,219.97 335.1,219.32 335.44,218.91 C335.77,218.51 336.33,218.21 336.85,218.14 C337.36,218.08 338.04,218.24 338.54,218.54 C339.05,218.84 339.58,219.4 339.88,219.95 Z" fill="none" stroke="#f4fbf4" stroke-width="0.7"/>
<path d="M351.81,221.76 C351.94,222.17 351.79,222.76 351.43,223.23 C351.07,223.71 350.37,224.26 349.66,224.62 C348.95,224.97 347.97,225.28 347.18,225.38 C346.39,225.49 345.5,225.43 344.94,225.24 C344.37,225.05 343.91,224.65 343.79,224.24 C343.66,223.83 343.81,223.24 344.17,222.77 C344.53,222.29 345.23,221.74 345.94,221.38 C346.65,221.03 347.63,220.72 348.42,220.62 C349.21,220.51 350.1,220.57 350.66,220.76 C351.23,220.95 351.69,221.35 351.81,221.76 Z" fill="none" stroke="#f4fbf4" stroke-width="0.7"/>
<path d="M359.93,218.48 C359.99,218.79 359.8,219.21 359.44,219.54 C359.09,219.87 358.43,220.24 357.79,220.47 C357.15,220.7 356.29,220.87 355.61,220.91 C354.94,220.95 354.19,220.87 353.73,220.7 C353.28,220.53 352.93,220.22 352.87,219.92 C352.81,219.61 353,219.19 353.36,218.86 C353.71,218.53 354.37,218.16 355.01,217.93 C355.65,217.7 356.51,217.53 357.19,217.49 C357.86,217.45 358.61,217.53 359.07,217.7 C359.52,217.87 359.87,218.18 359.93,218.48 Z" fill="none" stroke="#f4fbf4" stroke-width="0.7"/>
<path d="M350,206.6 C350,206.89 349.91,207.24 349.77,207.48 C349.63,207.72 349.39,207.94 349.17,208.03 C348.95,208.12 348.65,208.12 348.43,208.03 C348.21,207.94 347.97,207.72 347.83,207.48 C347.69,207.24 347.6,206.89 347.6,206.6 C347.6,206.31 347.69,205.96 347.83,205.72 C347.97,205.48 348.21,205.26 348.43,205.17 C348.65,205.08 348.95,205.08 349.17,205.17 C349.39,205.26 349.63,205.48 349.77,205.72 C349.91,205.96 350,206.31 350,206.6 Z" fill="none" stroke="#f4fbf4" stroke-width="0.7"/>
<path d="M336.93,194.55 C336.67,195.04 336.21,195.53 335.77,195.8 C335.34,196.07 334.76,196.21 334.32,196.16 C333.88,196.12 333.41,195.86 333.13,195.51 C332.85,195.17 332.66,194.6 332.65,194.09 C332.64,193.58 332.81,192.93 333.07,192.45 C333.33,191.96 333.79,191.47 334.23,191.2 C334.66,190.93 335.24,190.79 335.68,190.84 C336.12,190.88 336.59,191.14 336.87,191.49 C337.15,191.83 337.34,192.4 337.35,192.91 C337.36,193.42 337.19,194.07 336.93,194.55 Z" fill="none" stroke="#f4fbf4" stroke-width="0.7"/>
</g>
<g clip-path="url(#imc2)">
<rect x="328.2" y="233.8" width="41.6" height="44.9" fill="#440154" stroke="none" stroke-width="0.8" />
<path d="M349,236 C351.33,236.08 354.67,236.5 357,237.5 C359.33,238.5 361.42,240.08 363,242 C364.58,243.92 365.75,246.5 366.5,249 C367.25,251.5 367.58,254.33 367.5,257 C367.42,259.67 366.92,262.5 366,265 C365.08,267.5 363.83,270.08 362,272 C360.17,273.92 357.5,275.7 355,276.5 C352.5,277.3 349.67,277.3 347,276.8 C344.33,276.3 341.33,275.13 339,273.5 C336.67,271.87 334.37,269.58 333,267 C331.63,264.42 330.97,261.17 330.8,258 C330.63,254.83 330.88,250.92 332,248 C333.12,245.08 335.67,242.33 337.5,240.5 C339.33,238.67 341.08,237.75 343,237 C344.92,236.25 346.67,235.92 349,236 Z" fill="#365c8d" filter="url(#bl1)"/>
<circle cx="343.11" cy="262.78" r="1.7" fill="#3e4a89" stroke="none" stroke-width="0" filter="url(#bl2)" opacity="0.75"/>
<circle cx="339.7" cy="259" r="2.03" fill="#3e4a89" stroke="none" stroke-width="0" filter="url(#bl2)" opacity="0.75"/>
<circle cx="348.98" cy="256.69" r="1.59" fill="#2c7a8e" stroke="none" stroke-width="0" filter="url(#bl2)" opacity="0.75"/>
<circle cx="352.42" cy="256.2" r="2.18" fill="#433e85" stroke="none" stroke-width="0" filter="url(#bl2)" opacity="0.75"/>
<circle cx="347" cy="255.52" r="1.78" fill="#3e4a89" stroke="none" stroke-width="0" filter="url(#bl2)" opacity="0.75"/>
<circle cx="351.06" cy="253.93" r="2.68" fill="#2c7a8e" stroke="none" stroke-width="0" filter="url(#bl2)" opacity="0.75"/>
<circle cx="349.05" cy="256.63" r="2.35" fill="#287c8e" stroke="none" stroke-width="0" filter="url(#bl2)" opacity="0.75"/>
<circle cx="347.85" cy="259.9" r="2.71" fill="#287c8e" stroke="none" stroke-width="0" filter="url(#bl2)" opacity="0.75"/>
<circle cx="344.54" cy="265.38" r="2.47" fill="#2c7a8e" stroke="none" stroke-width="0" filter="url(#bl2)" opacity="0.75"/>
<circle cx="352.62" cy="259.69" r="2" fill="#287c8e" stroke="none" stroke-width="0" filter="url(#bl2)" opacity="0.75"/>
<circle cx="337.91" cy="261.52" r="1.75" fill="#3e4a89" stroke="none" stroke-width="0" filter="url(#bl2)" opacity="0.75"/>
<circle cx="348.85" cy="253.95" r="2.35" fill="#3e4a89" stroke="none" stroke-width="0" filter="url(#bl2)" opacity="0.75"/>
<circle cx="349.26" cy="258.67" r="2.29" fill="#287c8e" stroke="none" stroke-width="0" filter="url(#bl2)" opacity="0.75"/>
<circle cx="344.34" cy="267.74" r="2.36" fill="#3e4a89" stroke="none" stroke-width="0" filter="url(#bl2)" opacity="0.75"/>
<circle cx="342.78" cy="266.78" r="1.63" fill="#433e85" stroke="none" stroke-width="0" filter="url(#bl2)" opacity="0.75"/>
<circle cx="347.98" cy="258.5" r="1.94" fill="#3e4a89" stroke="none" stroke-width="0" filter="url(#bl2)" opacity="0.75"/>
<circle cx="340.34" cy="258.95" r="1.94" fill="#433e85" stroke="none" stroke-width="0" filter="url(#bl2)" opacity="0.75"/>
<circle cx="338.14" cy="263.94" r="1.73" fill="#2c7a8e" stroke="none" stroke-width="0" filter="url(#bl2)" opacity="0.75"/>
<circle cx="337.46" cy="258.65" r="2.43" fill="#433e85" stroke="none" stroke-width="0" filter="url(#bl2)" opacity="0.75"/>
<circle cx="336.81" cy="262.33" r="2.89" fill="#287c8e" stroke="none" stroke-width="0" filter="url(#bl2)" opacity="0.75"/>
<circle cx="355.26" cy="258.29" r="2.63" fill="#433e85" stroke="none" stroke-width="0" filter="url(#bl2)" opacity="0.75"/>
<circle cx="356.41" cy="255.26" r="2.83" fill="#2c7a8e" stroke="none" stroke-width="0" filter="url(#bl2)" opacity="0.75"/>
<circle cx="357.53" cy="246.42" r="1.68" fill="#287c8e" stroke="none" stroke-width="0" filter="url(#bl2)" opacity="0.75"/>
<circle cx="361.15" cy="260.54" r="2.54" fill="#287c8e" stroke="none" stroke-width="0" filter="url(#bl2)" opacity="0.75"/>
<circle cx="359.03" cy="249.38" r="2.37" fill="#2c7a8e" stroke="none" stroke-width="0" filter="url(#bl2)" opacity="0.75"/>
<circle cx="347.32" cy="257.2" r="2.25" fill="#287c8e" stroke="none" stroke-width="0" filter="url(#bl2)" opacity="0.75"/>
<circle cx="345.18" cy="250.72" r="2.12" fill="#433e85" stroke="none" stroke-width="0" filter="url(#bl2)" opacity="0.75"/>
<circle cx="350.33" cy="258.15" r="2.96" fill="#433e85" stroke="none" stroke-width="0" filter="url(#bl2)" opacity="0.75"/>
<circle cx="338.16" cy="258.56" r="2.03" fill="#287c8e" stroke="none" stroke-width="0" filter="url(#bl2)" opacity="0.75"/>
<circle cx="357.94" cy="265.63" r="1.68" fill="#287c8e" stroke="none" stroke-width="0" filter="url(#bl2)" opacity="0.75"/>
<ellipse cx="335.8" cy="245.2" rx="2.86" ry="2.53" fill="url(#gG)" filter="url(#bl1)"/>
<ellipse cx="354.4" cy="239.2" rx="1.43" ry="1.76" fill="url(#gT)" filter="url(#bl1)"/>
<ellipse cx="358.5" cy="246.6" rx="3.52" ry="3.3" fill="url(#gG)" filter="url(#bl1)"/>
<ellipse cx="331.8" cy="252.5" rx="0.99" ry="1.98" fill="url(#gT)" filter="url(#bl1)"/>
<ellipse cx="345.7" cy="265.3" rx="3.85" ry="4.18" fill="url(#gY)" filter="url(#bl1)"/>
<ellipse cx="359.2" cy="263.8" rx="2.64" ry="3.3" fill="url(#gG)" filter="url(#bl1)"/>
<ellipse cx="359.6" cy="270.5" rx="1.32" ry="2.75" fill="url(#gT)" filter="url(#bl1)"/>
<ellipse cx="351" cy="273.7" rx="2.42" ry="1.32" fill="url(#gT)" filter="url(#bl1)"/>
<path d="M339.3,243.72 C339.54,244.3 339.57,245.1 339.36,245.74 C339.16,246.37 338.64,247.09 338.07,247.55 C337.49,248 336.63,248.36 335.9,248.46 C335.18,248.56 334.3,248.43 333.7,248.13 C333.1,247.83 332.54,247.26 332.3,246.68 C332.06,246.1 332.03,245.3 332.24,244.66 C332.44,244.03 332.96,243.31 333.53,242.85 C334.11,242.4 334.97,242.04 335.7,241.94 C336.42,241.84 337.3,241.97 337.9,242.27 C338.5,242.57 339.06,243.14 339.3,243.72 Z" fill="none" stroke="#f4fbf4" stroke-width="0.7"/>
<path d="M356.7,239.4 C356.7,239.87 356.54,240.43 356.3,240.81 C356.06,241.19 355.64,241.54 355.25,241.68 C354.86,241.83 354.34,241.83 353.95,241.68 C353.56,241.54 353.14,241.19 352.9,240.81 C352.66,240.43 352.5,239.87 352.5,239.4 C352.5,238.93 352.66,238.37 352.9,237.99 C353.14,237.61 353.56,237.26 353.95,237.12 C354.34,236.97 354.86,236.97 355.25,237.12 C355.64,237.26 356.06,237.61 356.3,237.99 C356.54,238.37 356.7,238.93 356.7,239.4 Z" fill="none" stroke="#f4fbf4" stroke-width="0.7"/>
<path d="M362.8,246.6 C362.8,247.42 362.47,248.4 361.98,249.07 C361.48,249.73 360.63,250.34 359.83,250.59 C359.03,250.85 357.97,250.85 357.17,250.59 C356.37,250.34 355.52,249.73 355.02,249.07 C354.53,248.4 354.2,247.42 354.2,246.6 C354.2,245.78 354.53,244.8 355.02,244.13 C355.52,243.47 356.37,242.86 357.17,242.61 C357.97,242.35 359.03,242.35 359.83,242.61 C360.63,242.86 361.48,243.47 361.98,244.13 C362.47,244.8 362.8,245.78 362.8,246.6 Z" fill="none" stroke="#f4fbf4" stroke-width="0.7"/>
<path d="M333.3,252.6 C333.3,253.11 333.19,253.72 333.03,254.13 C332.87,254.54 332.59,254.92 332.33,255.07 C332.07,255.23 331.73,255.23 331.47,255.07 C331.21,254.92 330.93,254.54 330.77,254.13 C330.61,253.72 330.5,253.11 330.5,252.6 C330.5,252.09 330.61,251.48 330.77,251.07 C330.93,250.66 331.21,250.28 331.47,250.13 C331.73,249.97 332.07,249.97 332.33,250.13 C332.59,250.28 332.87,250.66 333.03,251.07 C333.19,251.48 333.3,252.09 333.3,252.6 Z" fill="none" stroke="#f4fbf4" stroke-width="0.7"/>
<path d="M350.1,265.3 C350.1,266.28 349.76,267.45 349.24,268.24 C348.72,269.03 347.83,269.75 346.99,270.06 C346.15,270.36 345.05,270.36 344.21,270.06 C343.37,269.75 342.48,269.03 341.96,268.24 C341.44,267.45 341.1,266.28 341.1,265.3 C341.1,264.32 341.44,263.15 341.96,262.36 C342.48,261.57 343.37,260.85 344.21,260.54 C345.05,260.24 346.15,260.24 346.99,260.54 C347.83,260.85 348.72,261.57 349.24,262.36 C349.76,263.15 350.1,264.32 350.1,265.3 Z" fill="none" stroke="#f4fbf4" stroke-width="0.7"/>
<path d="M362.5,264.8 C362.5,265.82 362.26,267.03 361.89,267.86 C361.52,268.68 360.89,269.43 360.29,269.75 C359.69,270.06 358.91,270.06 358.31,269.75 C357.71,269.43 357.08,268.68 356.71,267.86 C356.34,267.03 356.1,265.82 356.1,264.8 C356.1,263.78 356.34,262.57 356.71,261.74 C357.08,260.92 357.71,260.17 358.31,259.85 C358.91,259.54 359.69,259.54 360.29,259.85 C360.89,260.17 361.52,260.92 361.89,261.74 C362.26,262.57 362.5,263.78 362.5,264.8 Z" fill="none" stroke="#f4fbf4" stroke-width="0.7"/>
<path d="M353.94,274.4 C353.87,274.72 353.57,275.07 353.18,275.26 C352.79,275.46 352.16,275.58 351.59,275.57 C351.02,275.56 350.3,275.41 349.77,275.2 C349.24,274.99 348.71,274.63 348.42,274.3 C348.14,273.96 347.99,273.53 348.06,273.2 C348.13,272.88 348.43,272.53 348.82,272.34 C349.21,272.14 349.84,272.02 350.41,272.03 C350.98,272.04 351.7,272.19 352.23,272.4 C352.76,272.61 353.29,272.97 353.58,273.3 C353.86,273.64 354.01,274.07 353.94,274.4 Z" fill="none" stroke="#f4fbf4" stroke-width="0.7"/>
</g>
<g clip-path="url(#imc3)">
<rect x="328.2" y="284" width="41.6" height="41.8" fill="#440154" stroke="none" stroke-width="0.8" />
<path d="M341,288 C343.42,287.33 346.83,286.92 350,287 C353.17,287.08 357.42,287.5 360,288.5 C362.58,289.5 364.25,291.08 365.5,293 C366.75,294.92 367.25,297.83 367.5,300 C367.75,302.17 367.92,304.42 367,306 C366.08,307.58 363.33,308.67 362,309.5 C360.67,310.33 359.58,310.08 359,311 C358.42,311.92 359.17,313.5 358.5,315 C357.83,316.5 356.42,318.62 355,320 C353.58,321.38 352.17,322.8 350,323.3 C347.83,323.8 344.33,323.63 342,323 C339.67,322.37 337.62,321.17 336,319.5 C334.38,317.83 333.08,315.42 332.3,313 C331.52,310.58 331.27,307.67 331.3,305 C331.33,302.33 331.8,299.33 332.5,297 C333.2,294.67 334.08,292.5 335.5,291 C336.92,289.5 338.58,288.67 341,288 Z" fill="#365c8d" filter="url(#bl1)"/>
<circle cx="352.1" cy="293.43" r="2.71" fill="#2c7a8e" stroke="none" stroke-width="0" filter="url(#bl2)" opacity="0.75"/>
<circle cx="341.6" cy="305.58" r="2.1" fill="#3e4a89" stroke="none" stroke-width="0" filter="url(#bl2)" opacity="0.75"/>
<circle cx="349.09" cy="313.03" r="2.28" fill="#2c7a8e" stroke="none" stroke-width="0" filter="url(#bl2)" opacity="0.75"/>
<circle cx="339.05" cy="306.71" r="1.5" fill="#2c7a8e" stroke="none" stroke-width="0" filter="url(#bl2)" opacity="0.75"/>
<circle cx="349.09" cy="304.41" r="1.57" fill="#21918c" stroke="none" stroke-width="0" filter="url(#bl2)" opacity="0.75"/>
<circle cx="359.97" cy="303.24" r="1.63" fill="#433e85" stroke="none" stroke-width="0" filter="url(#bl2)" opacity="0.75"/>
<circle cx="346.96" cy="305.13" r="1.61" fill="#21918c" stroke="none" stroke-width="0" filter="url(#bl2)" opacity="0.75"/>
<circle cx="344.4" cy="298.92" r="2.04" fill="#287c8e" stroke="none" stroke-width="0" filter="url(#bl2)" opacity="0.75"/>
<circle cx="354.56" cy="304.58" r="1.69" fill="#2c7a8e" stroke="none" stroke-width="0" filter="url(#bl2)" opacity="0.75"/>
<circle cx="347.95" cy="300.17" r="1.62" fill="#287c8e" stroke="none" stroke-width="0" filter="url(#bl2)" opacity="0.75"/>
<circle cx="354.77" cy="306.6" r="2.48" fill="#433e85" stroke="none" stroke-width="0" filter="url(#bl2)" opacity="0.75"/>
<circle cx="341.4" cy="312.12" r="2.43" fill="#21918c" stroke="none" stroke-width="0" filter="url(#bl2)" opacity="0.75"/>
<circle cx="356.71" cy="307.67" r="2.64" fill="#3e4a89" stroke="none" stroke-width="0" filter="url(#bl2)" opacity="0.75"/>
<circle cx="341.08" cy="309.32" r="2.19" fill="#287c8e" stroke="none" stroke-width="0" filter="url(#bl2)" opacity="0.75"/>
<circle cx="349.69" cy="308.44" r="2.38" fill="#21918c" stroke="none" stroke-width="0" filter="url(#bl2)" opacity="0.75"/>
<circle cx="349.27" cy="306.67" r="1.54" fill="#3e4a89" stroke="none" stroke-width="0" filter="url(#bl2)" opacity="0.75"/>
<circle cx="340.79" cy="313.29" r="2.69" fill="#3e4a89" stroke="none" stroke-width="0" filter="url(#bl2)" opacity="0.75"/>
<circle cx="355.49" cy="311.2" r="2.91" fill="#433e85" stroke="none" stroke-width="0" filter="url(#bl2)" opacity="0.75"/>
<circle cx="351.29" cy="296.63" r="2.6" fill="#433e85" stroke="none" stroke-width="0" filter="url(#bl2)" opacity="0.75"/>
<circle cx="338.66" cy="302.89" r="2.57" fill="#21918c" stroke="none" stroke-width="0" filter="url(#bl2)" opacity="0.75"/>
<circle cx="355.24" cy="312.9" r="1.57" fill="#2c7a8e" stroke="none" stroke-width="0" filter="url(#bl2)" opacity="0.75"/>
<circle cx="341.12" cy="301.63" r="2.06" fill="#2c7a8e" stroke="none" stroke-width="0" filter="url(#bl2)" opacity="0.75"/>
<circle cx="342.98" cy="314.3" r="1.54" fill="#2c7a8e" stroke="none" stroke-width="0" filter="url(#bl2)" opacity="0.75"/>
<circle cx="343.98" cy="295.36" r="2.93" fill="#433e85" stroke="none" stroke-width="0" filter="url(#bl2)" opacity="0.75"/>
<circle cx="348.65" cy="306.1" r="2.99" fill="#433e85" stroke="none" stroke-width="0" filter="url(#bl2)" opacity="0.75"/>
<circle cx="339.73" cy="304.34" r="1.66" fill="#2c7a8e" stroke="none" stroke-width="0" filter="url(#bl2)" opacity="0.75"/>
<circle cx="349.73" cy="304.68" r="1.99" fill="#433e85" stroke="none" stroke-width="0" filter="url(#bl2)" opacity="0.75"/>
<circle cx="349.43" cy="305.91" r="3" fill="#287c8e" stroke="none" stroke-width="0" filter="url(#bl2)" opacity="0.75"/>
<ellipse cx="341" cy="291.8" rx="3.08" ry="1.98" fill="url(#gG)" filter="url(#bl1)"/>
<ellipse cx="349.5" cy="288.8" rx="2.75" ry="1.32" fill="url(#gT)" filter="url(#bl1)"/>
<ellipse cx="335" cy="298.5" rx="1.65" ry="2.2" fill="url(#gT)" filter="url(#bl1)"/>
<ellipse cx="364" cy="296" rx="1.1" ry="2.75" fill="url(#gT)" filter="url(#bl1)"/>
<ellipse cx="365.3" cy="304" rx="1.1" ry="3.3" fill="url(#gT)" filter="url(#bl1)"/>
<ellipse cx="363.5" cy="309.3" rx="2.86" ry="1.98" fill="url(#gG)" filter="url(#bl1)"/>
<ellipse cx="333.5" cy="309" rx="1.43" ry="3.3" fill="url(#gT)" filter="url(#bl1)"/>
<ellipse cx="339" cy="319" rx="2.75" ry="1.43" fill="url(#gT)" filter="url(#bl1)"/>
<ellipse cx="352.5" cy="321.5" rx="2.75" ry="2.2" fill="url(#gG)" filter="url(#bl1)"/>
<ellipse cx="356.5" cy="314.5" rx="1.1" ry="1.65" fill="url(#gT)" filter="url(#bl1)"/>
<path d="M344.5,290.32 C344.68,290.75 344.64,291.38 344.38,291.9 C344.13,292.42 343.57,293.04 342.97,293.45 C342.37,293.85 341.52,294.22 340.81,294.36 C340.1,294.5 339.27,294.48 338.72,294.3 C338.17,294.12 337.68,293.71 337.5,293.28 C337.32,292.85 337.36,292.22 337.62,291.7 C337.87,291.18 338.43,290.56 339.03,290.15 C339.63,289.75 340.48,289.38 341.19,289.24 C341.9,289.1 342.73,289.12 343.28,289.3 C343.83,289.48 344.32,289.89 344.5,290.32 Z" fill="none" stroke="#f4fbf4" stroke-width="0.7"/>
<path d="M352.8,288.8 C352.8,289.13 352.55,289.53 352.17,289.8 C351.79,290.07 351.13,290.31 350.52,290.42 C349.9,290.52 349.1,290.52 348.48,290.42 C347.87,290.31 347.21,290.07 346.83,289.8 C346.45,289.53 346.2,289.13 346.2,288.8 C346.2,288.47 346.45,288.07 346.83,287.8 C347.21,287.53 347.87,287.29 348.48,287.18 C349.1,287.08 349.9,287.08 350.52,287.18 C351.13,287.29 351.79,287.53 352.17,287.8 C352.55,288.07 352.8,288.47 352.8,288.8 Z" fill="none" stroke="#f4fbf4" stroke-width="0.7"/>
<path d="M336.9,299.8 C336.57,300.28 336.03,300.76 335.54,301.01 C335.05,301.25 334.43,301.35 333.98,301.26 C333.52,301.16 333.05,300.85 332.8,300.45 C332.55,300.06 332.42,299.45 332.47,298.9 C332.52,298.36 332.77,297.69 333.1,297.2 C333.43,296.72 333.97,296.24 334.46,295.99 C334.95,295.75 335.57,295.65 336.02,295.74 C336.48,295.84 336.95,296.15 337.2,296.55 C337.45,296.94 337.58,297.55 337.53,298.1 C337.48,298.64 337.23,299.31 336.9,299.8 Z" fill="none" stroke="#f4fbf4" stroke-width="0.7"/>
<path d="M365.73,295.73 C365.94,296.4 366.07,297.24 366.06,297.84 C366.05,298.44 365.9,299.03 365.68,299.32 C365.46,299.62 365.09,299.74 364.74,299.62 C364.39,299.5 363.93,299.09 363.59,298.6 C363.24,298.11 362.88,297.35 362.67,296.67 C362.46,296 362.33,295.16 362.34,294.56 C362.35,293.96 362.5,293.37 362.72,293.08 C362.94,292.78 363.31,292.66 363.66,292.78 C364.01,292.9 364.47,293.31 364.81,293.8 C365.16,294.29 365.52,295.05 365.73,295.73 Z" fill="none" stroke="#f4fbf4" stroke-width="0.7"/>
<path d="M367,303.5 C367,304.19 366.89,305 366.71,305.56 C366.54,306.11 366.24,306.62 365.96,306.83 C365.68,307.04 365.32,307.04 365.04,306.83 C364.76,306.62 364.46,306.11 364.29,305.56 C364.11,305 364,304.19 364,303.5 C364,302.81 364.11,302 364.29,301.44 C364.46,300.89 364.76,300.38 365.04,300.17 C365.32,299.96 365.68,299.96 365.96,300.17 C366.24,300.38 366.54,300.89 366.71,301.44 C366.89,302 367,302.81 367,303.5 Z" fill="none" stroke="#f4fbf4" stroke-width="0.7"/>
<path d="M366.75,308.3 C366.89,308.74 366.81,309.36 366.54,309.83 C366.28,310.31 365.74,310.84 365.18,311.17 C364.62,311.5 363.82,311.74 363.17,311.79 C362.52,311.84 361.78,311.71 361.29,311.46 C360.8,311.21 360.39,310.75 360.25,310.3 C360.11,309.86 360.19,309.24 360.46,308.77 C360.72,308.29 361.26,307.76 361.82,307.43 C362.38,307.1 363.18,306.86 363.83,306.81 C364.48,306.76 365.22,306.89 365.71,307.14 C366.2,307.39 366.61,307.85 366.75,308.3 Z" fill="none" stroke="#f4fbf4" stroke-width="0.7"/>
<path d="M335.42,308.64 C335.65,309.39 335.78,310.32 335.76,310.99 C335.74,311.66 335.55,312.32 335.29,312.66 C335.02,313 334.57,313.13 334.16,313.01 C333.75,312.88 333.22,312.44 332.83,311.9 C332.43,311.36 332.02,310.51 331.78,309.76 C331.55,309.01 331.42,308.08 331.44,307.41 C331.46,306.74 331.65,306.08 331.91,305.74 C332.18,305.4 332.63,305.27 333.04,305.39 C333.45,305.52 333.98,305.96 334.37,306.5 C334.77,307.04 335.18,307.89 335.42,308.64 Z" fill="none" stroke="#f4fbf4" stroke-width="0.7"/>
<path d="M342.63,320.52 C342.49,320.87 342.08,321.17 341.6,321.3 C341.12,321.42 340.39,321.41 339.76,321.27 C339.14,321.13 338.37,320.81 337.83,320.46 C337.29,320.1 336.77,319.59 336.53,319.16 C336.29,318.73 336.22,318.22 336.37,317.88 C336.51,317.53 336.92,317.23 337.4,317.1 C337.88,316.98 338.61,316.99 339.24,317.13 C339.86,317.27 340.63,317.59 341.17,317.94 C341.71,318.3 342.23,318.81 342.47,319.24 C342.71,319.67 342.78,320.18 342.63,320.52 Z" fill="none" stroke="#f4fbf4" stroke-width="0.7"/>
<path d="M355.83,319.98 C356.03,320.45 356.03,321.1 355.83,321.64 C355.63,322.17 355.15,322.78 354.63,323.17 C354.11,323.56 353.34,323.88 352.7,323.99 C352.05,324.09 351.28,324.01 350.76,323.78 C350.24,323.55 349.77,323.09 349.57,322.62 C349.37,322.15 349.37,321.5 349.57,320.96 C349.77,320.43 350.25,319.82 350.77,319.43 C351.29,319.04 352.06,318.72 352.7,318.61 C353.35,318.51 354.12,318.59 354.64,318.82 C355.16,319.05 355.63,319.51 355.83,319.98 Z" fill="none" stroke="#f4fbf4" stroke-width="0.7"/>
<path d="M358.3,314.3 C358.3,314.73 358.2,315.24 358.05,315.59 C357.9,315.94 357.64,316.26 357.4,316.39 C357.16,316.53 356.84,316.53 356.6,316.39 C356.36,316.26 356.1,315.94 355.95,315.59 C355.8,315.24 355.7,314.73 355.7,314.3 C355.7,313.87 355.8,313.36 355.95,313.01 C356.1,312.66 356.36,312.34 356.6,312.21 C356.84,312.07 357.16,312.07 357.4,312.21 C357.64,312.34 357.9,312.66 358.05,313.01 C358.2,313.36 358.3,313.87 358.3,314.3 Z" fill="none" stroke="#f4fbf4" stroke-width="0.7"/>
</g>
<text x="320.3" y="207.2" font-size="9" text-anchor="middle" fill="#222" font-weight="normal" dominant-baseline="central" transform="rotate(-90 320.3 207.2)" >Young</text>
<text x="320.3" y="255.8" font-size="9" text-anchor="middle" fill="#222" font-weight="normal" dominant-baseline="central" transform="rotate(-90 320.3 255.8)" >Aged</text>
<text x="320.3" y="305.5" font-size="9" text-anchor="middle" fill="#222" font-weight="normal" dominant-baseline="central" transform="rotate(-90 320.3 305.5)" >Aged + Ri</text>
<text x="384.4" y="256.3" font-size="8.85" text-anchor="middle" fill="#222" font-weight="normal" dominant-baseline="central" transform="rotate(-90 384.4 256.3)" >Standardized DAPI intensity (a.u.)</text>
<text x="529.3" y="181.7" font-size="9.03" text-anchor="middle" fill="#222" font-weight="normal" dominant-baseline="central" >DAPI intensity by distance range to nuclear border</text>
<line x1="412.7" y1="195.4" x2="646.9" y2="195.4" stroke="#dcdcdc" stroke-width="0.8" />
<text x="409.3" y="195.4" font-size="7.8" text-anchor="end" fill="#333" font-weight="normal" dominant-baseline="central" >2.5</text>
<line x1="412.7" y1="212.4" x2="646.9" y2="212.4" stroke="#dcdcdc" stroke-width="0.8" />
<text x="409.3" y="212.4" font-size="7.8" text-anchor="end" fill="#333" font-weight="normal" dominant-baseline="central" >2.0</text>
<line x1="412.7" y1="229.4" x2="646.9" y2="229.4" stroke="#dcdcdc" stroke-width="0.8" />
<text x="409.3" y="229.4" font-size="7.8" text-anchor="end" fill="#333" font-weight="normal" dominant-baseline="central" >1.5</text>
<line x1="412.7" y1="246.4" x2="646.9" y2="246.4" stroke="#dcdcdc" stroke-width="0.8" />
<text x="409.3" y="246.4" font-size="7.8" text-anchor="end" fill="#333" font-weight="normal" dominant-baseline="central" >1.0</text>
<line x1="412.7" y1="263.4" x2="646.9" y2="263.4" stroke="#dcdcdc" stroke-width="0.8" />
<text x="409.3" y="263.4" font-size="7.8" text-anchor="end" fill="#333" font-weight="normal" dominant-baseline="central" >0.5</text>
<line x1="412.7" y1="280.4" x2="646.9" y2="280.4" stroke="#dcdcdc" stroke-width="0.8" />
<text x="409.3" y="280.4" font-size="7.8" text-anchor="end" fill="#333" font-weight="normal" dominant-baseline="central" >0</text>
<line x1="412.7" y1="297.4" x2="646.9" y2="297.4" stroke="#dcdcdc" stroke-width="0.8" />
<text x="409.3" y="297.4" font-size="7.8" text-anchor="end" fill="#333" font-weight="normal" dominant-baseline="central" >−0.5</text>
<line x1="412.7" y1="314.4" x2="646.9" y2="314.4" stroke="#dcdcdc" stroke-width="0.8" />
<text x="409.3" y="314.4" font-size="7.8" text-anchor="end" fill="#333" font-weight="normal" dominant-baseline="central" >−1.0</text>
<line x1="412.7" y1="190.5" x2="412.7" y2="321.3" stroke="#bbb" stroke-width="0.8" />
<line x1="412.7" y1="321.3" x2="646.9" y2="321.3" stroke="#bbb" stroke-width="0.8" />
<text x="452.4" y="328.8" font-size="7.8" text-anchor="middle" fill="#333" font-weight="normal" dominant-baseline="central" >0.0 – 0.5</text>
<text x="504" y="328.8" font-size="7.8" text-anchor="middle" fill="#333" font-weight="normal" dominant-baseline="central" >0.5 – 1.0</text>
<text x="555.6" y="328.8" font-size="7.8" text-anchor="middle" fill="#333" font-weight="normal" dominant-baseline="central" >1.0 – 1.5</text>
<text x="607.2" y="328.8" font-size="7.8" text-anchor="middle" fill="#333" font-weight="normal" dominant-baseline="central" >1.5 – 2.0</text>
<text x="530" y="341.6" font-size="9.03" text-anchor="middle" fill="#222" font-weight="normal" dominant-baseline="central" >Distance range to nuclear border (µm)</text>
<line x1="438.7" y1="282" x2="438.7" y2="288.6" stroke="#555" stroke-width="0.7" />
<line x1="438.7" y1="294.2" x2="438.7" y2="303" stroke="#555" stroke-width="0.7" />
<line x1="435.3" y1="282" x2="442.1" y2="282" stroke="#555" stroke-width="0.7" />
<line x1="435.3" y1="303" x2="442.1" y2="303" stroke="#555" stroke-width="0.7" />
<rect x="431.85" y="288.6" width="13.7" height="5.6" fill="#176D9C" stroke="#3d3d3d" stroke-width="0.7" />
<line x1="431.85" y1="291" x2="445.55" y2="291" stroke="#3d3d3d" stroke-width="0.7" />
<path d="M438.7,275.1 L440.3,277.4 L438.7,279.7 L437.1,277.4 Z" fill="#111" stroke="none" stroke-width="0" />
<line x1="452.4" y1="282.5" x2="452.4" y2="289.5" stroke="#555" stroke-width="0.7" />
<line x1="452.4" y1="294.9" x2="452.4" y2="298.4" stroke="#555" stroke-width="0.7" />
<line x1="449" y1="282.5" x2="455.8" y2="282.5" stroke="#555" stroke-width="0.7" />
<line x1="449" y1="298.4" x2="455.8" y2="298.4" stroke="#555" stroke-width="0.7" />
<rect x="445.55" y="289.5" width="13.7" height="5.4" fill="#158A6A" stroke="#3d3d3d" stroke-width="0.7" />
<line x1="445.55" y1="292.2" x2="459.25" y2="292.2" stroke="#3d3d3d" stroke-width="0.7" />
<path d="M452.4,279.7 L454,282 L452.4,284.3 L450.8,282 Z" fill="#111" stroke="none" stroke-width="0" />
<line x1="466.1" y1="281.6" x2="466.1" y2="285.6" stroke="#555" stroke-width="0.7" />
<line x1="466.1" y1="291.9" x2="466.1" y2="298" stroke="#555" stroke-width="0.7" />
<line x1="462.7" y1="281.6" x2="469.5" y2="281.6" stroke="#555" stroke-width="0.7" />
<line x1="462.7" y1="298" x2="469.5" y2="298" stroke="#555" stroke-width="0.7" />
<rect x="459.25" y="285.6" width="13.7" height="6.3" fill="#C282B6" stroke="#3d3d3d" stroke-width="0.7" />
<line x1="459.25" y1="288.8" x2="472.95" y2="288.8" stroke="#3d3d3d" stroke-width="0.7" />
<path d="M466.1,298.4 L467.7,300.7 L466.1,303 L464.5,300.7 Z" fill="#111" stroke="none" stroke-width="0" />
<line x1="490.3" y1="256.4" x2="490.3" y2="261" stroke="#555" stroke-width="0.7" />
<line x1="490.3" y1="266.9" x2="490.3" y2="273.2" stroke="#555" stroke-width="0.7" />
<line x1="486.9" y1="256.4" x2="493.7" y2="256.4" stroke="#555" stroke-width="0.7" />
<line x1="486.9" y1="273.2" x2="493.7" y2="273.2" stroke="#555" stroke-width="0.7" />
<rect x="483.45" y="261" width="13.7" height="5.9" fill="#176D9C" stroke="#3d3d3d" stroke-width="0.7" />
<line x1="483.45" y1="263.5" x2="497.15" y2="263.5" stroke="#3d3d3d" stroke-width="0.7" />
<path d="M490.3,275.1 L491.9,277.4 L490.3,279.7 L488.7,277.4 Z" fill="#111" stroke="none" stroke-width="0" />
<path d="M490.3,273.7 L491.9,276 L490.3,278.3 L488.7,276 Z" fill="#111" stroke="none" stroke-width="0" />
<line x1="504" y1="256.4" x2="504" y2="262.2" stroke="#555" stroke-width="0.7" />
<line x1="504" y1="265.7" x2="504" y2="271.6" stroke="#555" stroke-width="0.7" />
<line x1="500.6" y1="256.4" x2="507.4" y2="256.4" stroke="#555" stroke-width="0.7" />
<line x1="500.6" y1="271.6" x2="507.4" y2="271.6" stroke="#555" stroke-width="0.7" />
<rect x="497.15" y="262.2" width="13.7" height="3.5" fill="#158A6A" stroke="#3d3d3d" stroke-width="0.7" />
<line x1="497.15" y1="264" x2="510.85" y2="264" stroke="#3d3d3d" stroke-width="0.7" />
<path d="M504,270.4 L505.6,272.7 L504,275 L502.4,272.7 Z" fill="#111" stroke="none" stroke-width="0" />
<line x1="517.7" y1="257.6" x2="517.7" y2="262.9" stroke="#555" stroke-width="0.7" />
<line x1="517.7" y1="266.9" x2="517.7" y2="272.3" stroke="#555" stroke-width="0.7" />
<line x1="514.3" y1="257.6" x2="521.1" y2="257.6" stroke="#555" stroke-width="0.7" />
<line x1="514.3" y1="272.3" x2="521.1" y2="272.3" stroke="#555" stroke-width="0.7" />
<rect x="510.85" y="262.9" width="13.7" height="4" fill="#C282B6" stroke="#3d3d3d" stroke-width="0.7" />
<line x1="510.85" y1="264.5" x2="524.55" y2="264.5" stroke="#3d3d3d" stroke-width="0.7" />
<path d="M517.7,251.3 L519.3,253.6 L517.7,255.9 L516.1,253.6 Z" fill="#111" stroke="none" stroke-width="0" />
<path d="M517.7,272.7 L519.3,275 L517.7,277.3 L516.1,275 Z" fill="#111" stroke="none" stroke-width="0" />
<line x1="541.9" y1="265.7" x2="541.9" y2="276.2" stroke="#555" stroke-width="0.7" />
<line x1="541.9" y1="284.4" x2="541.9" y2="293" stroke="#555" stroke-width="0.7" />
<line x1="538.5" y1="265.7" x2="545.3" y2="265.7" stroke="#555" stroke-width="0.7" />
<line x1="538.5" y1="293" x2="545.3" y2="293" stroke="#555" stroke-width="0.7" />
<rect x="535.05" y="276.2" width="13.7" height="8.2" fill="#176D9C" stroke="#3d3d3d" stroke-width="0.7" />
<line x1="535.05" y1="277.9" x2="548.75" y2="277.9" stroke="#3d3d3d" stroke-width="0.7" />
<path d="M541.9,259.9 L543.5,262.2 L541.9,264.5 L540.3,262.2 Z" fill="#111" stroke="none" stroke-width="0" />
<line x1="555.6" y1="268" x2="555.6" y2="274.6" stroke="#555" stroke-width="0.7" />
<line x1="555.6" y1="281.1" x2="555.6" y2="291" stroke="#555" stroke-width="0.7" />
<line x1="552.2" y1="268" x2="559" y2="268" stroke="#555" stroke-width="0.7" />
<line x1="552.2" y1="291" x2="559" y2="291" stroke="#555" stroke-width="0.7" />
<rect x="548.75" y="274.6" width="13.7" height="6.5" fill="#158A6A" stroke="#3d3d3d" stroke-width="0.7" />
<line x1="548.75" y1="277.4" x2="562.45" y2="277.4" stroke="#3d3d3d" stroke-width="0.7" />
<path d="M555.6,289.1 L557.2,291.4 L555.6,293.7 L554,291.4 Z" fill="#111" stroke="none" stroke-width="0" />
<line x1="569.3" y1="267.6" x2="569.3" y2="277.4" stroke="#555" stroke-width="0.7" />
<line x1="569.3" y1="284.9" x2="569.3" y2="291.4" stroke="#555" stroke-width="0.7" />
<line x1="565.9" y1="267.6" x2="572.7" y2="267.6" stroke="#555" stroke-width="0.7" />
<line x1="565.9" y1="291.4" x2="572.7" y2="291.4" stroke="#555" stroke-width="0.7" />
<rect x="562.45" y="277.4" width="13.7" height="7.5" fill="#C282B6" stroke="#3d3d3d" stroke-width="0.7" />
<line x1="562.45" y1="280.9" x2="576.15" y2="280.9" stroke="#3d3d3d" stroke-width="0.7" />
<line x1="593.5" y1="261" x2="593.5" y2="279.7" stroke="#555" stroke-width="0.7" />
<line x1="593.5" y1="292.6" x2="593.5" y2="310.1" stroke="#555" stroke-width="0.7" />
<line x1="590.1" y1="261" x2="596.9" y2="261" stroke="#555" stroke-width="0.7" />
<line x1="590.1" y1="310.1" x2="596.9" y2="310.1" stroke="#555" stroke-width="0.7" />
<rect x="586.65" y="279.7" width="13.7" height="12.9" fill="#176D9C" stroke="#3d3d3d" stroke-width="0.7" />
<line x1="586.65" y1="288.4" x2="600.35" y2="288.4" stroke="#3d3d3d" stroke-width="0.7" />
<path d="M593.5,228.9 L595.1,231.2 L593.5,233.5 L591.9,231.2 Z" fill="#111" stroke="none" stroke-width="0" />
<path d="M593.5,238.5 L595.1,240.8 L593.5,243.1 L591.9,240.8 Z" fill="#111" stroke="none" stroke-width="0" />
<path d="M593.5,250.6 L595.1,252.9 L593.5,255.2 L591.9,252.9 Z" fill="#111" stroke="none" stroke-width="0" />
<path d="M593.5,252.7 L595.1,255 L593.5,257.3 L591.9,255 Z" fill="#111" stroke="none" stroke-width="0" />
<path d="M593.5,256 L595.1,258.3 L593.5,260.6 L591.9,258.3 Z" fill="#111" stroke="none" stroke-width="0" />
<path d="M593.5,314.8 L595.1,317.1 L593.5,319.4 L591.9,317.1 Z" fill="#111" stroke="none" stroke-width="0" />
<line x1="607.2" y1="263" x2="607.2" y2="280.2" stroke="#555" stroke-width="0.7" />
<line x1="607.2" y1="292.6" x2="607.2" y2="303.6" stroke="#555" stroke-width="0.7" />
<line x1="603.8" y1="263" x2="610.6" y2="263" stroke="#555" stroke-width="0.7" />
<line x1="603.8" y1="303.6" x2="610.6" y2="303.6" stroke="#555" stroke-width="0.7" />
<rect x="600.35" y="280.2" width="13.7" height="12.4" fill="#158A6A" stroke="#3d3d3d" stroke-width="0.7" />
<line x1="600.35" y1="286.8" x2="614.05" y2="286.8" stroke="#3d3d3d" stroke-width="0.7" />
<path d="M607.2,258.3 L608.8,260.6 L607.2,262.9 L605.6,260.6 Z" fill="#111" stroke="none" stroke-width="0" />
<line x1="620.9" y1="267.4" x2="620.9" y2="282.6" stroke="#555" stroke-width="0.7" />
<line x1="620.9" y1="295" x2="620.9" y2="305.4" stroke="#555" stroke-width="0.7" />
<line x1="617.5" y1="267.4" x2="624.3" y2="267.4" stroke="#555" stroke-width="0.7" />
<line x1="617.5" y1="305.4" x2="624.3" y2="305.4" stroke="#555" stroke-width="0.7" />
<rect x="614.05" y="282.6" width="13.7" height="12.4" fill="#C282B6" stroke="#3d3d3d" stroke-width="0.7" />
<line x1="614.05" y1="289.1" x2="627.75" y2="289.1" stroke="#3d3d3d" stroke-width="0.7" />
<path d="M620.9,261.1 L622.5,263.4 L620.9,265.7 L619.3,263.4 Z" fill="#111" stroke="none" stroke-width="0" />
<path d="M438.7,270.1 L438.7,268.1 L452.4,268.1 L452.4,270.1" fill="none" stroke="#333" stroke-width="0.75" />
<path d="M445.55,261.8 L446.11,263.14 L447.55,263.25 L446.45,264.19 L446.78,265.6 L445.55,264.85 L444.32,265.6 L444.65,264.19 L443.55,263.25 L444.99,263.14 Z" fill="#222" stroke="none" stroke-width="0" />
<path d="M452.4,258.9 L452.4,256.9 L466.1,256.9 L466.1,258.9" fill="none" stroke="#333" stroke-width="0.75" />
<path d="M452.8,250.6 L453.36,251.94 L454.8,252.05 L453.7,252.99 L454.03,254.4 L452.8,253.64 L451.57,254.4 L451.9,252.99 L450.8,252.05 L452.24,251.94 Z" fill="#222" stroke="none" stroke-width="0" />
<path d="M457.1,250.6 L457.66,251.94 L459.1,252.05 L458,252.99 L458.33,254.4 L457.1,253.64 L455.87,254.4 L456.2,252.99 L455.1,252.05 L456.54,251.94 Z" fill="#222" stroke="none" stroke-width="0" />
<path d="M461.4,250.6 L461.96,251.94 L463.4,252.05 L462.3,252.99 L462.63,254.4 L461.4,253.64 L460.17,254.4 L460.5,252.99 L459.4,252.05 L460.84,251.94 Z" fill="#222" stroke="none" stroke-width="0" />
<path d="M465.7,250.6 L466.26,251.94 L467.7,252.05 L466.6,252.99 L466.93,254.4 L465.7,253.64 L464.47,254.4 L464.8,252.99 L463.7,252.05 L465.14,251.94 Z" fill="#222" stroke="none" stroke-width="0" />
<path d="M438.7,246.7 L438.7,244.7 L466.1,244.7 L466.1,246.7" fill="none" stroke="#333" stroke-width="0.75" />
<path d="M448.1,238.4 L448.66,239.74 L450.1,239.85 L449,240.79 L449.33,242.2 L448.1,241.44 L446.87,242.2 L447.2,240.79 L446.1,239.85 L447.54,239.74 Z" fill="#222" stroke="none" stroke-width="0" />
<path d="M452.4,238.4 L452.96,239.74 L454.4,239.85 L453.3,240.79 L453.63,242.2 L452.4,241.44 L451.17,242.2 L451.5,240.79 L450.4,239.85 L451.84,239.74 Z" fill="#222" stroke="none" stroke-width="0" />
<path d="M456.7,238.4 L457.26,239.74 L458.7,239.85 L457.6,240.79 L457.93,242.2 L456.7,241.44 L455.47,242.2 L455.8,240.79 L454.7,239.85 L456.14,239.74 Z" fill="#222" stroke="none" stroke-width="0" />
<path d="M490.3,235 L490.3,233 L504,233 L504,235" fill="none" stroke="#333" stroke-width="0.75" />
<text x="497.15" y="228.7" font-size="7.3" text-anchor="middle" fill="#333" font-weight="normal" dominant-baseline="central" >NS</text>
<path d="M504,247.2 L504,245.2 L517.7,245.2 L517.7,247.2" fill="none" stroke="#333" stroke-width="0.75" />
<path d="M508.7,238.9 L509.26,240.24 L510.7,240.35 L509.6,241.29 L509.93,242.7 L508.7,241.94 L507.47,242.7 L507.8,241.29 L506.7,240.35 L508.14,240.24 Z" fill="#222" stroke="none" stroke-width="0" />
<path d="M513,238.9 L513.56,240.24 L515,240.35 L513.9,241.29 L514.23,242.7 L513,241.94 L511.77,242.7 L512.1,241.29 L511,240.35 L512.44,240.24 Z" fill="#222" stroke="none" stroke-width="0" />
<path d="M490.3,222.9 L490.3,220.9 L517.7,220.9 L517.7,222.9" fill="none" stroke="#333" stroke-width="0.75" />
<path d="M504,214.6 L504.56,215.94 L506,216.05 L504.9,216.99 L505.23,218.4 L504,217.64 L502.77,218.4 L503.1,216.99 L502,216.05 L503.44,215.94 Z" fill="#222" stroke="none" stroke-width="0" />
<path d="M541.9,254.9 L541.9,252.9 L555.6,252.9 L555.6,254.9" fill="none" stroke="#333" stroke-width="0.75" />
<path d="M542.3,246.6 L542.86,247.94 L544.3,248.05 L543.2,248.99 L543.53,250.4 L542.3,249.64 L541.07,250.4 L541.4,248.99 L540.3,248.05 L541.74,247.94 Z" fill="#222" stroke="none" stroke-width="0" />
<path d="M546.6,246.6 L547.16,247.94 L548.6,248.05 L547.5,248.99 L547.83,250.4 L546.6,249.64 L545.37,250.4 L545.7,248.99 L544.6,248.05 L546.04,247.94 Z" fill="#222" stroke="none" stroke-width="0" />
<path d="M550.9,246.6 L551.46,247.94 L552.9,248.05 L551.8,248.99 L552.13,250.4 L550.9,249.64 L549.67,250.4 L550,248.99 L548.9,248.05 L550.34,247.94 Z" fill="#222" stroke="none" stroke-width="0" />
<path d="M555.2,246.6 L555.76,247.94 L557.2,248.05 L556.1,248.99 L556.43,250.4 L555.2,249.64 L553.97,250.4 L554.3,248.99 L553.2,248.05 L554.64,247.94 Z" fill="#222" stroke="none" stroke-width="0" />
<path d="M555.6,243.4 L555.6,241.4 L569.3,241.4 L569.3,243.4" fill="none" stroke="#333" stroke-width="0.75" />
<path d="M556,235.1 L556.56,236.44 L558,236.55 L556.9,237.49 L557.23,238.9 L556,238.14 L554.77,238.9 L555.1,237.49 L554,236.55 L555.44,236.44 Z" fill="#222" stroke="none" stroke-width="0" />
<path d="M560.3,235.1 L560.86,236.44 L562.3,236.55 L561.2,237.49 L561.53,238.9 L560.3,238.14 L559.07,238.9 L559.4,237.49 L558.3,236.55 L559.74,236.44 Z" fill="#222" stroke="none" stroke-width="0" />
<path d="M564.6,235.1 L565.16,236.44 L566.6,236.55 L565.5,237.49 L565.83,238.9 L564.6,238.14 L563.37,238.9 L563.7,237.49 L562.6,236.55 L564.04,236.44 Z" fill="#222" stroke="none" stroke-width="0" />
<path d="M568.9,235.1 L569.46,236.44 L570.9,236.55 L569.8,237.49 L570.13,238.9 L568.9,238.14 L567.67,238.9 L568,237.49 L566.9,236.55 L568.34,236.44 Z" fill="#222" stroke="none" stroke-width="0" />
<path d="M541.9,232.2 L541.9,230.2 L569.3,230.2 L569.3,232.2" fill="none" stroke="#333" stroke-width="0.75" />
<text x="555.6" y="225.9" font-size="7.3" text-anchor="middle" fill="#333" font-weight="normal" dominant-baseline="central" >NS</text>
<path d="M593.5,224.5 L593.5,222.5 L607.2,222.5 L607.2,224.5" fill="none" stroke="#333" stroke-width="0.75" />
<text x="600.35" y="218.2" font-size="7.3" text-anchor="middle" fill="#333" font-weight="normal" dominant-baseline="central" >NS</text>
<path d="M607.2,212.9 L607.2,210.9 L620.9,210.9 L620.9,212.9" fill="none" stroke="#333" stroke-width="0.75" />
<text x="614.05" y="206.6" font-size="7.3" text-anchor="middle" fill="#333" font-weight="normal" dominant-baseline="central" >NS</text>
<path d="M593.5,201.2 L593.5,199.2 L620.9,199.2 L620.9,201.2" fill="none" stroke="#333" stroke-width="0.75" />
<path d="M607.2,192.9 L607.76,194.24 L609.2,194.35 L608.1,195.29 L608.43,196.7 L607.2,195.94 L605.97,196.7 L606.3,195.29 L605.2,194.35 L606.64,194.24 Z" fill="#222" stroke="none" stroke-width="0" />
<rect x="416.2" y="192.6" width="56.8" height="40.4" rx="1.5" fill="#fff" fill-opacity="0.85" stroke="#e0e0e0" stroke-width="0.7"/>
<text x="444.2" y="199.3" font-size="7.6" text-anchor="middle" fill="#333" font-weight="normal" dominant-baseline="central" >Condition</text>
<rect x="418.5" y="204.6" width="13.4" height="5.6" fill="#176D9C" stroke="#3d3d3d" stroke-width="0.6" />
<text x="436" y="207.4" font-size="7.3" text-anchor="start" fill="#333" font-weight="normal" dominant-baseline="central" >Young</text>
<rect x="418.5" y="214.4" width="13.4" height="5.6" fill="#158A6A" stroke="#3d3d3d" stroke-width="0.6" />
<text x="436" y="217.2" font-size="7.3" text-anchor="start" fill="#333" font-weight="normal" dominant-baseline="central" >Aged</text>
<rect x="418.5" y="223.7" width="13.4" height="5.6" fill="#C282B6" stroke="#3d3d3d" stroke-width="0.6" />
<text x="436" y="226.5" font-size="7.3" text-anchor="start" fill="#333" font-weight="normal" dominant-baseline="central" >Aged + Ri</text>
<defs>
<filter id="kdef" x="-10%" y="-10%" width="120%" height="120%" color-interpolation-filters="sRGB">
<feGaussianBlur stdDeviation="2.5"/>
<feComponentTransfer><feFuncA type="discrete" tableValues="0 0.45 0.6 0.72 0.82 0.9 0.95 1"/></feComponentTransfer>
</filter></defs>
<path d="M59.7,398 C63.3,397.7 75.08,397.15 81.3,396.2 C87.52,395.25 91.75,393.62 97,392.3 C102.25,390.98 107.53,389.4 112.8,388.3 C118.07,387.2 123.78,386.48 128.6,385.7 C133.42,384.92 137.33,384.57 141.7,383.6 C146.07,382.63 150.85,380.78 154.8,379.9 C158.75,379.02 161.45,378.57 165.4,378.3 C169.35,378.03 174.13,377.87 178.5,378.3 C182.87,378.73 187.67,379.67 191.6,380.9 C195.53,382.13 198.6,383.93 202.1,385.7 C205.6,387.47 209.08,389.83 212.6,391.5 C216.12,393.17 220.57,394.7 223.2,395.7 C225.83,396.7 227.53,397.2 228.4,397.5 L228.4,398 L59.7,398 Z" fill="#CC78BC" fill-opacity="0.3" stroke="none"/>
<path d="M59.7,398 C62.42,397.7 71.08,397.28 76,396.2 C80.92,395.12 84.82,393.47 89.2,391.5 C93.58,389.53 97.93,386.6 102.3,384.4 C106.67,382.2 111.02,379.83 115.4,378.3 C119.78,376.77 124.65,375.63 128.6,375.2 C132.55,374.77 135.17,375.18 139.1,375.7 C143.03,376.22 147.82,377.3 152.2,378.3 C156.58,379.3 161.02,380.68 165.4,381.7 C169.78,382.72 174.13,383.65 178.5,384.4 C182.87,385.15 187.22,385.33 191.6,386.2 C195.98,387.07 200.42,388.15 204.8,389.6 C209.18,391.05 213.97,393.58 217.9,394.9 C221.83,396.22 226.65,397.07 228.4,397.5 L228.4,398 L59.7,398 Z" fill="#029E73" fill-opacity="0.3" stroke="none"/>
<path d="M59.7,398 C63.3,397.78 75.52,397.35 81.3,396.7 C87.08,396.05 90.03,395.5 94.4,394.1 C98.77,392.7 103.55,390.58 107.5,388.3 C111.45,386.02 115.25,382.82 118.1,380.4 C120.95,377.98 121.98,375.47 124.6,373.8 C127.22,372.13 130.95,370.7 133.8,370.4 C136.65,370.1 138.63,370.85 141.7,372 C144.77,373.15 149.13,376.12 152.2,377.3 C155.27,378.48 156.6,378.85 160.1,379.1 C163.6,379.35 169.27,378.75 173.2,378.8 C177.13,378.85 180.63,378.92 183.7,379.4 C186.77,379.88 188.53,380.43 191.6,381.7 C194.67,382.97 198.6,385.23 202.1,387 C205.6,388.77 209.08,390.77 212.6,392.3 C216.12,393.83 220.57,395.33 223.2,396.2 C225.83,397.07 227.53,397.28 228.4,397.5 L228.4,398 L59.7,398 Z" fill="#0173B2" fill-opacity="0.3" stroke="none"/>
<path d="M59.7,398 C63.3,397.7 75.08,397.15 81.3,396.2 C87.52,395.25 91.75,393.62 97,392.3 C102.25,390.98 107.53,389.4 112.8,388.3 C118.07,387.2 123.78,386.48 128.6,385.7 C133.42,384.92 137.33,384.57 141.7,383.6 C146.07,382.63 150.85,380.78 154.8,379.9 C158.75,379.02 161.45,378.57 165.4,378.3 C169.35,378.03 174.13,377.87 178.5,378.3 C182.87,378.73 187.67,379.67 191.6,380.9 C195.53,382.13 198.6,383.93 202.1,385.7 C205.6,387.47 209.08,389.83 212.6,391.5 C216.12,393.17 220.57,394.7 223.2,395.7 C225.83,396.7 227.53,397.2 228.4,397.5" fill="none" stroke="#CC78BC" stroke-width="0.9"/>
<path d="M59.7,398 C62.42,397.7 71.08,397.28 76,396.2 C80.92,395.12 84.82,393.47 89.2,391.5 C93.58,389.53 97.93,386.6 102.3,384.4 C106.67,382.2 111.02,379.83 115.4,378.3 C119.78,376.77 124.65,375.63 128.6,375.2 C132.55,374.77 135.17,375.18 139.1,375.7 C143.03,376.22 147.82,377.3 152.2,378.3 C156.58,379.3 161.02,380.68 165.4,381.7 C169.78,382.72 174.13,383.65 178.5,384.4 C182.87,385.15 187.22,385.33 191.6,386.2 C195.98,387.07 200.42,388.15 204.8,389.6 C209.18,391.05 213.97,393.58 217.9,394.9 C221.83,396.22 226.65,397.07 228.4,397.5" fill="none" stroke="#029E73" stroke-width="0.9"/>
<path d="M59.7,398 C63.3,397.78 75.52,397.35 81.3,396.7 C87.08,396.05 90.03,395.5 94.4,394.1 C98.77,392.7 103.55,390.58 107.5,388.3 C111.45,386.02 115.25,382.82 118.1,380.4 C120.95,377.98 121.98,375.47 124.6,373.8 C127.22,372.13 130.95,370.7 133.8,370.4 C136.65,370.1 138.63,370.85 141.7,372 C144.77,373.15 149.13,376.12 152.2,377.3 C155.27,378.48 156.6,378.85 160.1,379.1 C163.6,379.35 169.27,378.75 173.2,378.8 C177.13,378.85 180.63,378.92 183.7,379.4 C186.77,379.88 188.53,380.43 191.6,381.7 C194.67,382.97 198.6,385.23 202.1,387 C205.6,388.77 209.08,390.77 212.6,392.3 C216.12,393.83 220.57,395.33 223.2,396.2 C225.83,397.07 227.53,397.28 228.4,397.5" fill="none" stroke="#0173B2" stroke-width="0.9"/>
<line x1="59.6" y1="398" x2="228.4" y2="398" stroke="#2a6a8a" stroke-width="0.9" />
<path d="M234.4,404.4 C235.5,405.88 238.78,410.35 241,413.3 C243.22,416.25 245.85,419.15 247.7,422.1 C249.55,425.05 251,427.3 252.1,431 C253.2,434.7 253.38,439.87 254.3,444.3 C255.22,448.73 256.5,453.17 257.6,457.6 C258.7,462.03 260.27,467.22 260.9,470.9 C261.53,474.58 261.77,476.75 261.4,479.7 C261.03,482.65 259.88,485.65 258.7,488.6 C257.52,491.55 255.77,494.45 254.3,497.4 C252.83,500.35 251.37,502.6 249.9,506.3 C248.43,510 246.98,515.17 245.5,519.6 C244.02,524.03 242.3,527.73 241,532.9 C239.7,538.07 238.62,544.7 237.7,550.6 C236.78,556.5 236.05,563.68 235.5,568.3 C234.95,572.92 234.58,576.63 234.4,578.3 L234.4,578.3 L234.4,404.4 Z" fill="#CC78BC" fill-opacity="0.3" stroke="none"/>
<path d="M234.4,404.4 C235.88,406.25 240.53,411.43 243.3,415.5 C246.07,419.57 249.35,424 251,428.8 C252.65,433.6 252.57,438.77 253.2,444.3 C253.83,449.83 254.25,456.1 254.8,462 C255.35,467.9 255.67,474.53 256.5,479.7 C257.33,484.87 259.13,489.3 259.8,493 C260.47,496.7 260.87,498.58 260.5,501.9 C260.13,505.22 259,509.22 257.6,512.9 C256.2,516.58 254.12,519.93 252.1,524 C250.08,528.07 247.53,532.13 245.5,537.3 C243.47,542.47 241.45,549.47 239.9,555 C238.35,560.53 237.12,566.62 236.2,570.5 C235.28,574.38 234.7,577 234.4,578.3 L234.4,578.3 L234.4,404.4 Z" fill="#029E73" fill-opacity="0.3" stroke="none"/>
<path d="M234.4,404.4 C235.13,405.88 237.13,409.23 238.8,413.3 C240.47,417.37 242.92,423.63 244.4,428.8 C245.88,433.97 246.6,438.77 247.7,444.3 C248.8,449.83 249.9,455.37 251,462 C252.1,468.63 253.02,477.08 254.3,484.1 C255.58,491.12 257.42,497.82 258.7,504.1 C259.98,510.38 261.63,517 262,521.8 C262.37,526.6 262.18,528.85 260.9,532.9 C259.62,536.95 256.87,541.68 254.3,546.1 C251.73,550.52 248.08,554.97 245.5,559.4 C242.92,563.83 240.65,569.55 238.8,572.7 C236.95,575.85 235.13,577.37 234.4,578.3 L234.4,578.3 L234.4,404.4 Z" fill="#0173B2" fill-opacity="0.3" stroke="none"/>
<path d="M234.4,404.4 C235.5,405.88 238.78,410.35 241,413.3 C243.22,416.25 245.85,419.15 247.7,422.1 C249.55,425.05 251,427.3 252.1,431 C253.2,434.7 253.38,439.87 254.3,444.3 C255.22,448.73 256.5,453.17 257.6,457.6 C258.7,462.03 260.27,467.22 260.9,470.9 C261.53,474.58 261.77,476.75 261.4,479.7 C261.03,482.65 259.88,485.65 258.7,488.6 C257.52,491.55 255.77,494.45 254.3,497.4 C252.83,500.35 251.37,502.6 249.9,506.3 C248.43,510 246.98,515.17 245.5,519.6 C244.02,524.03 242.3,527.73 241,532.9 C239.7,538.07 238.62,544.7 237.7,550.6 C236.78,556.5 236.05,563.68 235.5,568.3 C234.95,572.92 234.58,576.63 234.4,578.3" fill="none" stroke="#CC78BC" stroke-width="0.9"/>
<path d="M234.4,404.4 C235.88,406.25 240.53,411.43 243.3,415.5 C246.07,419.57 249.35,424 251,428.8 C252.65,433.6 252.57,438.77 253.2,444.3 C253.83,449.83 254.25,456.1 254.8,462 C255.35,467.9 255.67,474.53 256.5,479.7 C257.33,484.87 259.13,489.3 259.8,493 C260.47,496.7 260.87,498.58 260.5,501.9 C260.13,505.22 259,509.22 257.6,512.9 C256.2,516.58 254.12,519.93 252.1,524 C250.08,528.07 247.53,532.13 245.5,537.3 C243.47,542.47 241.45,549.47 239.9,555 C238.35,560.53 237.12,566.62 236.2,570.5 C235.28,574.38 234.7,577 234.4,578.3" fill="none" stroke="#029E73" stroke-width="0.9"/>
<path d="M234.4,404.4 C235.13,405.88 237.13,409.23 238.8,413.3 C240.47,417.37 242.92,423.63 244.4,428.8 C245.88,433.97 246.6,438.77 247.7,444.3 C248.8,449.83 249.9,455.37 251,462 C252.1,468.63 253.02,477.08 254.3,484.1 C255.58,491.12 257.42,497.82 258.7,504.1 C259.98,510.38 261.63,517 262,521.8 C262.37,526.6 262.18,528.85 260.9,532.9 C259.62,536.95 256.87,541.68 254.3,546.1 C251.73,550.52 248.08,554.97 245.5,559.4 C242.92,563.83 240.65,569.55 238.8,572.7 C236.95,575.85 235.13,577.37 234.4,578.3" fill="none" stroke="#0173B2" stroke-width="0.9"/>
<line x1="234.4" y1="404.4" x2="234.4" y2="578.3" stroke="#2a6a8a" stroke-width="0.9" />
<line x1="59.6" y1="404.6" x2="59.6" y2="578.7" stroke="#777" stroke-width="0.9" />
<line x1="59.6" y1="578.7" x2="228.3" y2="578.7" stroke="#777" stroke-width="0.9" />
<text x="143.8" y="585.5" font-size="8" text-anchor="middle" fill="#222" font-weight="normal" dominant-baseline="central" >U1</text>
<text x="52.8" y="492" font-size="8.2" text-anchor="middle" fill="#222" font-weight="normal" dominant-baseline="central" transform="rotate(-90 52.8 492)" >U2</text>
<path d="M59.7,631 C63.3,630.7 75.08,630.15 81.3,629.2 C87.52,628.25 91.75,626.62 97,625.3 C102.25,623.98 107.53,622.4 112.8,621.3 C118.07,620.2 123.78,619.48 128.6,618.7 C133.42,617.92 137.33,617.57 141.7,616.6 C146.07,615.63 150.85,613.78 154.8,612.9 C158.75,612.02 161.45,611.57 165.4,611.3 C169.35,611.03 174.13,610.87 178.5,611.3 C182.87,611.73 187.67,612.67 191.6,613.9 C195.53,615.13 198.6,616.93 202.1,618.7 C205.6,620.47 209.08,622.83 212.6,624.5 C216.12,626.17 220.57,627.7 223.2,628.7 C225.83,629.7 227.53,630.2 228.4,630.5 L228.4,631 L59.7,631 Z" fill="#CC78BC" fill-opacity="0.3" stroke="none"/>
<path d="M59.7,631 C62.42,630.7 71.08,630.28 76,629.2 C80.92,628.12 84.82,626.47 89.2,624.5 C93.58,622.53 97.93,619.6 102.3,617.4 C106.67,615.2 111.02,612.83 115.4,611.3 C119.78,609.77 124.65,608.63 128.6,608.2 C132.55,607.77 135.17,608.18 139.1,608.7 C143.03,609.22 147.82,610.3 152.2,611.3 C156.58,612.3 161.02,613.68 165.4,614.7 C169.78,615.72 174.13,616.65 178.5,617.4 C182.87,618.15 187.22,618.33 191.6,619.2 C195.98,620.07 200.42,621.15 204.8,622.6 C209.18,624.05 213.97,626.58 217.9,627.9 C221.83,629.22 226.65,630.07 228.4,630.5 L228.4,631 L59.7,631 Z" fill="#029E73" fill-opacity="0.3" stroke="none"/>
<path d="M59.7,631 C63.3,630.78 75.52,630.35 81.3,629.7 C87.08,629.05 90.03,628.5 94.4,627.1 C98.77,625.7 103.55,623.58 107.5,621.3 C111.45,619.02 115.25,615.82 118.1,613.4 C120.95,610.98 121.98,608.47 124.6,606.8 C127.22,605.13 130.95,603.7 133.8,603.4 C136.65,603.1 138.63,603.85 141.7,605 C144.77,606.15 149.13,609.12 152.2,610.3 C155.27,611.48 156.6,611.85 160.1,612.1 C163.6,612.35 169.27,611.75 173.2,611.8 C177.13,611.85 180.63,611.92 183.7,612.4 C186.77,612.88 188.53,613.43 191.6,614.7 C194.67,615.97 198.6,618.23 202.1,620 C205.6,621.77 209.08,623.77 212.6,625.3 C216.12,626.83 220.57,628.33 223.2,629.2 C225.83,630.07 227.53,630.28 228.4,630.5 L228.4,631 L59.7,631 Z" fill="#0173B2" fill-opacity="0.3" stroke="none"/>
<path d="M59.7,631 C63.3,630.7 75.08,630.15 81.3,629.2 C87.52,628.25 91.75,626.62 97,625.3 C102.25,623.98 107.53,622.4 112.8,621.3 C118.07,620.2 123.78,619.48 128.6,618.7 C133.42,617.92 137.33,617.57 141.7,616.6 C146.07,615.63 150.85,613.78 154.8,612.9 C158.75,612.02 161.45,611.57 165.4,611.3 C169.35,611.03 174.13,610.87 178.5,611.3 C182.87,611.73 187.67,612.67 191.6,613.9 C195.53,615.13 198.6,616.93 202.1,618.7 C205.6,620.47 209.08,622.83 212.6,624.5 C216.12,626.17 220.57,627.7 223.2,628.7 C225.83,629.7 227.53,630.2 228.4,630.5" fill="none" stroke="#CC78BC" stroke-width="0.9"/>
<path d="M59.7,631 C62.42,630.7 71.08,630.28 76,629.2 C80.92,628.12 84.82,626.47 89.2,624.5 C93.58,622.53 97.93,619.6 102.3,617.4 C106.67,615.2 111.02,612.83 115.4,611.3 C119.78,609.77 124.65,608.63 128.6,608.2 C132.55,607.77 135.17,608.18 139.1,608.7 C143.03,609.22 147.82,610.3 152.2,611.3 C156.58,612.3 161.02,613.68 165.4,614.7 C169.78,615.72 174.13,616.65 178.5,617.4 C182.87,618.15 187.22,618.33 191.6,619.2 C195.98,620.07 200.42,621.15 204.8,622.6 C209.18,624.05 213.97,626.58 217.9,627.9 C221.83,629.22 226.65,630.07 228.4,630.5" fill="none" stroke="#029E73" stroke-width="0.9"/>
<path d="M59.7,631 C63.3,630.78 75.52,630.35 81.3,629.7 C87.08,629.05 90.03,628.5 94.4,627.1 C98.77,625.7 103.55,623.58 107.5,621.3 C111.45,619.02 115.25,615.82 118.1,613.4 C120.95,610.98 121.98,608.47 124.6,606.8 C127.22,605.13 130.95,603.7 133.8,603.4 C136.65,603.1 138.63,603.85 141.7,605 C144.77,606.15 149.13,609.12 152.2,610.3 C155.27,611.48 156.6,611.85 160.1,612.1 C163.6,612.35 169.27,611.75 173.2,611.8 C177.13,611.85 180.63,611.92 183.7,612.4 C186.77,612.88 188.53,613.43 191.6,614.7 C194.67,615.97 198.6,618.23 202.1,620 C205.6,621.77 209.08,623.77 212.6,625.3 C216.12,626.83 220.57,628.33 223.2,629.2 C225.83,630.07 227.53,630.28 228.4,630.5" fill="none" stroke="#0173B2" stroke-width="0.9"/>
<line x1="59.6" y1="631" x2="228.4" y2="631" stroke="#2a6a8a" stroke-width="0.9" />
<path d="M234.4,637.4 C235.5,638.88 238.78,643.35 241,646.3 C243.22,649.25 245.85,652.15 247.7,655.1 C249.55,658.05 251,660.3 252.1,664 C253.2,667.7 253.38,672.87 254.3,677.3 C255.22,681.73 256.5,686.17 257.6,690.6 C258.7,695.03 260.27,700.22 260.9,703.9 C261.53,707.58 261.77,709.75 261.4,712.7 C261.03,715.65 259.88,718.65 258.7,721.6 C257.52,724.55 255.77,727.45 254.3,730.4 C252.83,733.35 251.37,735.6 249.9,739.3 C248.43,743 246.98,748.17 245.5,752.6 C244.02,757.03 242.3,760.73 241,765.9 C239.7,771.07 238.62,777.7 237.7,783.6 C236.78,789.5 236.05,796.68 235.5,801.3 C234.95,805.92 234.58,809.63 234.4,811.3 L234.4,811.3 L234.4,637.4 Z" fill="#CC78BC" fill-opacity="0.3" stroke="none"/>
<path d="M234.4,637.4 C235.88,639.25 240.53,644.43 243.3,648.5 C246.07,652.57 249.35,657 251,661.8 C252.65,666.6 252.57,671.77 253.2,677.3 C253.83,682.83 254.25,689.1 254.8,695 C255.35,700.9 255.67,707.53 256.5,712.7 C257.33,717.87 259.13,722.3 259.8,726 C260.47,729.7 260.87,731.58 260.5,734.9 C260.13,738.22 259,742.22 257.6,745.9 C256.2,749.58 254.12,752.93 252.1,757 C250.08,761.07 247.53,765.13 245.5,770.3 C243.47,775.47 241.45,782.47 239.9,788 C238.35,793.53 237.12,799.62 236.2,803.5 C235.28,807.38 234.7,810 234.4,811.3 L234.4,811.3 L234.4,637.4 Z" fill="#029E73" fill-opacity="0.3" stroke="none"/>
<path d="M234.4,637.4 C235.13,638.88 237.13,642.23 238.8,646.3 C240.47,650.37 242.92,656.63 244.4,661.8 C245.88,666.97 246.6,671.77 247.7,677.3 C248.8,682.83 249.9,688.37 251,695 C252.1,701.63 253.02,710.08 254.3,717.1 C255.58,724.12 257.42,730.82 258.7,737.1 C259.98,743.38 261.63,750 262,754.8 C262.37,759.6 262.18,761.85 260.9,765.9 C259.62,769.95 256.87,774.68 254.3,779.1 C251.73,783.52 248.08,787.97 245.5,792.4 C242.92,796.83 240.65,802.55 238.8,805.7 C236.95,808.85 235.13,810.37 234.4,811.3 L234.4,811.3 L234.4,637.4 Z" fill="#0173B2" fill-opacity="0.3" stroke="none"/>
<path d="M234.4,637.4 C235.5,638.88 238.78,643.35 241,646.3 C243.22,649.25 245.85,652.15 247.7,655.1 C249.55,658.05 251,660.3 252.1,664 C253.2,667.7 253.38,672.87 254.3,677.3 C255.22,681.73 256.5,686.17 257.6,690.6 C258.7,695.03 260.27,700.22 260.9,703.9 C261.53,707.58 261.77,709.75 261.4,712.7 C261.03,715.65 259.88,718.65 258.7,721.6 C257.52,724.55 255.77,727.45 254.3,730.4 C252.83,733.35 251.37,735.6 249.9,739.3 C248.43,743 246.98,748.17 245.5,752.6 C244.02,757.03 242.3,760.73 241,765.9 C239.7,771.07 238.62,777.7 237.7,783.6 C236.78,789.5 236.05,796.68 235.5,801.3 C234.95,805.92 234.58,809.63 234.4,811.3" fill="none" stroke="#CC78BC" stroke-width="0.9"/>
<path d="M234.4,637.4 C235.88,639.25 240.53,644.43 243.3,648.5 C246.07,652.57 249.35,657 251,661.8 C252.65,666.6 252.57,671.77 253.2,677.3 C253.83,682.83 254.25,689.1 254.8,695 C255.35,700.9 255.67,707.53 256.5,712.7 C257.33,717.87 259.13,722.3 259.8,726 C260.47,729.7 260.87,731.58 260.5,734.9 C260.13,738.22 259,742.22 257.6,745.9 C256.2,749.58 254.12,752.93 252.1,757 C250.08,761.07 247.53,765.13 245.5,770.3 C243.47,775.47 241.45,782.47 239.9,788 C238.35,793.53 237.12,799.62 236.2,803.5 C235.28,807.38 234.7,810 234.4,811.3" fill="none" stroke="#029E73" stroke-width="0.9"/>
<path d="M234.4,637.4 C235.13,638.88 237.13,642.23 238.8,646.3 C240.47,650.37 242.92,656.63 244.4,661.8 C245.88,666.97 246.6,671.77 247.7,677.3 C248.8,682.83 249.9,688.37 251,695 C252.1,701.63 253.02,710.08 254.3,717.1 C255.58,724.12 257.42,730.82 258.7,737.1 C259.98,743.38 261.63,750 262,754.8 C262.37,759.6 262.18,761.85 260.9,765.9 C259.62,769.95 256.87,774.68 254.3,779.1 C251.73,783.52 248.08,787.97 245.5,792.4 C242.92,796.83 240.65,802.55 238.8,805.7 C236.95,808.85 235.13,810.37 234.4,811.3" fill="none" stroke="#0173B2" stroke-width="0.9"/>
<line x1="234.4" y1="637.4" x2="234.4" y2="811.3" stroke="#2a6a8a" stroke-width="0.9" />
<line x1="59.6" y1="637.6" x2="59.6" y2="811.7" stroke="#777" stroke-width="0.9" />
<line x1="59.6" y1="811.7" x2="228.3" y2="811.7" stroke="#777" stroke-width="0.9" />
<text x="143.8" y="818.5" font-size="8" text-anchor="middle" fill="#222" font-weight="normal" dominant-baseline="central" >U1</text>
<text x="52.8" y="725" font-size="8.2" text-anchor="middle" fill="#222" font-weight="normal" dominant-baseline="central" transform="rotate(-90 52.8 725)" >U2</text>
<text x="-0.3" y="378" font-size="12.5" font-weight="bold" fill="#000" stroke="#000" stroke-width="0.45">d</text>
<text x="0" y="607" font-size="12.5" font-weight="bold" fill="#000" stroke="#000" stroke-width="0.45">e</text>
<path d="M145,546.08 L142,546.49 L139,546.74 L136,546.84 L133,546.79 L130,546.59 L127,546.23 L125,545.9 L122,545.27 L120,544.75 L117.58,544 L115,543.09 L113,542.28 L111,541.38 L109,540.39 L107,539.3 L105,538.12 L103.24,537 L101.75,536 L100,534.77 L98,533.27 L96.41,532 L95,530.83 L93,529.06 L91.86,528 L90,526.14 L88.94,525 L87.22,523 L86,521.42 L85,519.99 L83.73,518 L82.62,516 L81.66,514 L80.86,512 L80,509.36 L79.4,507 L79,504.71 L78.69,502 L78.59,499 L78.75,496 L79,493.97 L79.54,491 L80.08,489 L81,486.26 L81.95,484 L82.95,482 L84,480.21 L85,478.71 L86.29,477 L88,475.05 L89.04,474 L91,472.23 L92.55,471 L94,469.94 L96,468.57 L98,467.27 L99.89,466 L101.22,465 L103,463.37 L104.18,462 L105.48,460 L106.48,458 L107.32,456 L108.11,454 L109,451.78 L110,449.44 L111,447.32 L112,445.41 L113,443.68 L114.06,442 L115.46,440 L117,438.04 L118,436.87 L119.74,435 L121,433.77 L122.98,432 L124.2,431 L126,429.64 L128,428.27 L130,427.03 L131.83,426 L133.78,425 L135.96,424 L138,423.16 L140,422.42 L142,421.77 L144.8,421 L147,420.48 L149.61,420 L152,419.64 L155,419.34 L158,419.19 L161,419.18 L164,419.31 L167,419.58 L170,419.97 L172,420.23 L175,420.46 L178,420.18 L180,419.61 L182,418.85 L184.12,418 L187,417.02 L189,416.55 L192,416.32 L195,416.68 L197,417.3 L199,418.27 L201,419.68 L202.41,421 L204,422.97 L205,424.58 L206,426.67 L206.82,429 L207.31,431 L207.74,434 L207.89,437 L207.89,440 L207.87,443 L208,445.95 L208.23,448 L208.7,451 L209.03,453 L209.43,456 L209.65,459 L209.65,462 L209.44,465 L209.02,468 L208.65,470 L208,472.71 L207.37,475 L206.75,477 L206,479.25 L205.1,482 L204.55,484 L204.25,487 L205,489.13 L206.65,491 L208,492.14 L210,493.96 L211,495.01 L212.6,497 L213.85,499 L214.81,501 L215.54,503 L216.02,505 L216.45,508 L216.44,511 L216,513.96 L215.48,516 L214.7,518 L213.62,520 L212.13,522 L211,523.15 L209,524.64 L207,525.57 L205,526.05 L202,526.09 L200,525.68 L198,524.93 L196,523.9 L194,522.69 L192,521.55 L189,521.26 L187,522.61 L185.63,524 L184,525.75 L182.81,527 L181,528.8 L179.7,530 L178,531.46 L176.04,533 L174.67,534 L173,535.15 L171,536.42 L169,537.6 L167,538.69 L165,539.7 L163,540.63 L161,541.5 L159,542.3 L157,543.03 L154.04,544 L152,544.59 L150,545.09 L147,545.74 L145,546.08 Z" fill="#25b888" fill-opacity="0.21"/>
<path d="M136,538.04 L133,538.42 L130,538.52 L127,538.36 L124.42,538 L122,537.51 L120,536.96 L117.21,536 L115,535.08 L113,534.11 L111,533.02 L109.28,532 L107.71,531 L106,529.85 L104,528.43 L102.08,527 L100.79,526 L99,524.57 L97.15,523 L96,521.97 L94,520.04 L93,518.98 L91.29,517 L90,515.27 L89,513.76 L87.99,512 L87,509.96 L86,507.33 L85.34,505 L84.96,503 L84.64,500 L84.66,497 L85,494.12 L85.44,492 L86.05,490 L87,487.65 L88,485.73 L89.12,484 L90.74,482 L92,480.73 L94,479.12 L95.77,478 L97.8,477 L100,476.18 L102,475.64 L105,475.12 L107,474.89 L110,474.59 L113,474.19 L115,473.7 L117,472.83 L119,471.09 L120,469.33 L120.7,467 L121.05,465 L121.41,462 L121.81,459 L122.16,457 L122.88,454 L123.52,452 L124.3,450 L125.26,448 L126.4,446 L127.75,444 L129,442.41 L130.24,441 L132,439.25 L133.42,438 L135,436.77 L137,435.38 L139,434.18 L141,433.13 L143,432.21 L145,431.42 L147,430.74 L149.69,430 L152,429.49 L155,429.03 L157,428.83 L160,428.68 L163,428.74 L166,428.98 L168,429.22 L171,429.67 L173.81,430 L175.25,430 L178,429.34 L180,428.07 L181.22,427 L183,425.39 L184.67,424 L186.12,423 L188.05,422 L191,421.19 L194,421.26 L196.31,422 L198.03,423 L200,424.86 L201,426.26 L202,428.27 L202.78,431 L203.01,433 L202.99,435 L202.56,438 L201.99,440 L201,442.64 L200,444.9 L199.1,447 L198.45,449 L198,451.57 L197.88,454 L197.88,457 L197.77,460 L197.41,463 L197,465 L196.12,468 L195.34,470 L194.42,472 L193.34,474 L192.11,476 L191,477.62 L189.97,479 L188.34,481 L187,482.51 L185.58,484 L184,485.57 L182.45,487 L181,488.28 L179,489.95 L177.67,491 L176,492.29 L174,493.75 L172.22,495 L170.76,496 L169,497.21 L167,498.58 L165,500 L163.71,501 L162,502.52 L160.64,504 L159.25,506 L158.28,508 L157.61,510 L157,512.75 L156.66,515 L156.22,518 L155.84,520 L155.03,523 L154.26,525 L153.24,527 L152,528.86 L151,530.1 L149.13,532 L147.92,533 L146,534.33 L144,535.45 L142,536.35 L140,537.07 L137,537.85 Z" fill="#25b888" fill-opacity="0.21"/>
<path d="M205,520.13 L203,519.96 L200.87,519 L199,517.3 L198,515.85 L197,513.58 L196.41,511 L196.38,508 L197,505.15 L197.97,503 L199,501.57 L200.86,500 L203,499.16 L206,499.32 L208,500.3 L209.8,502 L211,503.86 L211.84,506 L212.26,508 L212.32,511 L211.98,513 L211,515.62 L210,517.2 L208.1,519 L206,519.96 Z" fill="#25b888" fill-opacity="0.21"/>
<path d="M157,484.04 L154,484.01 L152,483.88 L149,483.52 L146.47,483 L144,482.26 L142,481.35 L140.06,480 L139,478.98 L137.43,477 L136.19,475 L135.17,473 L134.29,471 L133.56,469 L132.96,467 L132.32,464 L132.02,461 L132.09,458 L132.57,455 L133.15,453 L134,450.87 L135,448.96 L136.3,447 L137.95,445 L139,443.92 L141,442.19 L142.63,441 L144.23,440 L146.09,439 L148.35,438 L151,437.08 L153,436.54 L155.87,436 L158,435.75 L161,435.62 L164,435.75 L166.17,436 L169,436.5 L171.11,437 L174,437.75 L176,438.22 L179,438.44 L181,437.52 L182.06,436 L183,433.92 L184,431.67 L185,429.83 L186.35,428 L188,426.49 L190,425.4 L192,424.97 L194,425.16 L196,426.06 L197.95,428 L198.97,430 L199.44,432 L199.38,435 L198.86,437 L197.93,439 L196.48,441 L195,442.5 L193.06,444 L191.64,445 L190,446.54 L189,448.68 L188.8,451 L188.94,454 L189.03,456 L189,458.16 L188.7,461 L188,463.86 L187.2,466 L186.22,468 L185,469.98 L184,471.35 L182.6,473 L181,474.63 L179.43,476 L178,477.11 L176,478.47 L174,479.64 L172,480.64 L170,481.49 L168,482.2 L165.12,483 L163,483.45 L160,483.86 L157.99,484 Z" fill="#25b888" fill-opacity="0.21"/>
<path d="M135,532.03 L132,532.68 L129,532.9 L126,532.72 L123,532.17 L121,531.61 L119,530.89 L116.98,530 L115,528.99 L113,527.84 L111,526.57 L109,525.23 L107.23,524 L105.82,523 L104,521.69 L102,520.19 L100.49,519 L99,517.76 L97.07,516 L96,514.91 L94.33,513 L93,511.19 L92,509.58 L91,507.62 L90,505.01 L89.46,503 L89.04,500 L88.99,498 L89.13,496 L89.73,493 L90.42,491 L91.39,489 L92.72,487 L94,485.55 L95.83,484 L97.43,483 L99.74,482 L102,481.41 L105,481.12 L108,481.24 L111,481.63 L113.08,482 L116,482.54 L118.45,483 L121,483.43 L124,483.92 L126,484.25 L129,484.86 L131,485.39 L133,486.14 L135,487.28 L136.86,489 L138,490.55 L139,492.4 L140,494.89 L140.65,497 L141.14,499 L141.74,502 L142.08,504 L142.6,507 L143,509.09 L143.63,512 L144.07,514 L144.62,517 L144.82,520 L144.45,523 L143.75,525 L142.56,527 L141,528.72 L139.36,530 L137.62,531 L135.09,532 Z" fill="#25b888" fill-opacity="0.21"/>
<path d="M205,515.16 L203,514.67 L201.45,513 L200.73,511 L200.83,508 L201.78,506 L203,504.88 L206,504.74 L207.49,506 L208.46,508 L208.61,511 L207.94,513 L206,514.89 Z" fill="#25b888" fill-opacity="0.21"/>
<path d="M193,437.15 L190.1,437 L189,435.61 L188.79,433 L189.71,431 L191,429.91 L193.82,430 L195,431.32 L195.33,434 L194.4,436 L193,437.15 Z" fill="#25b888" fill-opacity="0.21"/>
<path d="M165,474.09 L162,474.55 L159,474.63 L156,474.33 L154,473.9 L151.35,473 L149.29,472 L147.71,471 L146,469.63 L144.45,468 L143.03,466 L142.03,464 L141.37,462 L141,459.89 L141,457.23 L141.39,455 L142.09,453 L143.14,451 L144.62,449 L146,447.58 L147.96,446 L149.56,445 L151.56,444 L154,443.1 L156,442.58 L159,442.13 L162,442.05 L165,442.34 L167.98,443 L170,443.68 L172,444.57 L174,445.71 L175.76,447 L177,448.16 L178.48,450 L179.58,452 L180.28,454 L180.73,457 L180.52,460 L179.99,462 L179,464.26 L177.92,466 L176.25,468 L175,469.18 L173,470.71 L171,471.91 L169,472.84 L167,473.56 L165,474.09 Z" fill="#25b888" fill-opacity="0.21"/>
<path d="M128,527.01 L126,526.98 L123,526.44 L121,525.8 L119,524.97 L117,523.96 L115,522.83 L113,521.63 L111,520.39 L109,519.13 L107.23,518 L105.7,517 L104,515.85 L102,514.38 L100.32,513 L99,511.78 L97.36,510 L96,508.19 L95,506.51 L94,504.29 L93.32,502 L93,499.86 L93,497.27 L93.37,495 L94.02,493 L95.09,491 L96.76,489 L98,487.98 L100,486.87 L103,486.06 L105,485.94 L107,486.08 L110,486.64 L112,487.19 L114.51,488 L117,488.89 L119,489.66 L121,490.49 L123,491.43 L125,492.54 L127,493.93 L128.24,495 L130,496.95 L131,498.41 L132,500.29 L133,502.84 L133.64,505 L134.13,507 L134.8,510 L135.25,512 L135.89,515 L136.22,517 L136.3,520 L135.86,522 L134.72,524 L133,525.5 L131,526.45 L128.16,527 Z" fill="#25b888" fill-opacity="0.21"/>
<path d="M165,465.12 L162,465.8 L159,465.73 L156.31,465 L154.46,464 L153,462.76 L151.74,461 L151,458.5 L151,457 L152,454.23 L153,452.9 L155,451.29 L157,450.33 L159,449.79 L162,449.63 L164.3,450 L166.84,451 L168.31,452 L170,453.87 L170.92,456 L171.09,458 L170.62,460 L169.45,462 L168,463.43 L166,464.68 Z" fill="#25b888" fill-opacity="0.21"/>
<path d="M124,517.06 L121,517.47 L118.51,517 L116,516.2 L114,515.42 L112,514.57 L110,513.65 L108,512.65 L106,511.52 L104,510.22 L102.45,509 L101,507.64 L99.63,506 L98.41,504 L97.62,502 L97.15,499 L97.6,496 L98.57,494 L100,492.42 L102,491.26 L104,490.78 L107,490.86 L109,491.3 L111.11,492 L113.46,493 L115.48,494 L117.27,495 L119,496.1 L121,497.63 L122.45,499 L124,500.98 L125,502.8 L125.81,505 L126.26,507 L126.54,510 L126.38,513 L125.86,515 L124.12,517 Z" fill="#25b888" fill-opacity="0.21"/>
<path d="M145,570.17 L142,570.58 L139,570.79 L136,570.81 L133,570.66 L130,570.3 L128,569.95 L125,569.26 L123,568.67 L121,567.97 L118.64,567 L116.57,566 L114.76,565 L113,563.9 L111,562.48 L109.19,561 L108,559.91 L106.15,558 L105,556.65 L103.73,555 L102.37,553 L101.18,551 L100.13,549 L99.2,547 L98.38,545 L97.67,543 L97,540.75 L96.33,538 L95.99,536 L95.67,533 L95.64,530 L95.91,527 L96.24,525 L97,522.09 L97.71,520 L98.56,518 L99.54,516 L100.64,514 L101.82,512 L103,510.01 L104,508.16 L104.97,506 L105.55,504 L105.91,501 L105.84,498 L105.61,495 L105.39,492 L105.25,489 L105.23,486 L105.34,483 L105.59,480 L105.99,477 L106.32,475 L106.97,472 L107.48,470 L108.07,468 L109,465.27 L109.89,463 L110.77,461 L111.75,459 L112.83,457 L114,455.05 L115,453.52 L116.07,452 L117.6,450 L119,448.34 L120.22,447 L122,445.21 L123.3,444 L125,442.55 L126.99,441 L128.4,440 L130,438.94 L132,437.74 L134,436.66 L136,435.69 L138,434.82 L140.15,434 L143,433.07 L145,432.52 L147.29,432 L150,431.51 L153,431.14 L155,430.99 L158,430.89 L161,430.97 L163,431.1 L166,431.45 L169,431.97 L171,432.4 L173.26,433 L176,433.85 L178,434.58 L180,435.4 L182,436.3 L184,437.28 L186,438.32 L188,439.38 L190,440.39 L192,441.27 L194.12,442 L197,442.65 L199.08,443 L202,443.53 L204,444.08 L206.25,445 L208.01,446 L210,447.53 L211.45,449 L213,450.96 L214,452.51 L215,454.36 L216,456.63 L216.84,459 L217.4,461 L218,463.95 L218.31,466 L218.56,469 L218.61,472 L218.45,475 L218.09,478 L217.74,480 L217.01,483 L216.4,485 L215.66,487 L214.78,489 L213.75,491 L212.54,493 L211.11,495 L210,496.38 L208.53,498 L207,499.65 L205.84,501 L204.88,503 L205.32,505 L207,506.94 L208.2,508 L210,509.46 L211.77,511 L213,512.2 L214.51,514 L215.63,516 L216.12,518 L215.98,520 L215,522.28 L213.67,524 L212,525.49 L210,526.86 L208,527.97 L206,528.9 L204,529.72 L202,530.42 L200,531.02 L197,531.86 L195,532.36 L192.01,533 L190,533.47 L187.55,534 L185,534.73 L183,535.48 L181,536.65 L179.64,538 L178.47,540 L177.63,542 L176.86,544 L176,546.13 L175,548.37 L174,550.35 L173,552.1 L171.77,554 L170.28,556 L169,557.5 L167.58,559 L166,560.48 L164.16,562 L162.8,563 L161,564.2 L159,565.38 L157,566.41 L155,567.3 L153,568.07 L150.12,569 L148,569.57 L145.89,570 Z" fill="#5a98ee" fill-opacity="0.21"/>
<path d="M144,564.06 L141,564.57 L138,564.81 L135,564.8 L132,564.55 L129,564.03 L127,563.55 L125,562.92 L122.63,562 L120.54,561 L118.77,560 L117,558.83 L115,557.29 L113.57,556 L112,554.39 L110.8,553 L109.28,551 L108,549.06 L107,547.39 L106,545.52 L105,543.42 L104.02,541 L103.36,539 L102.85,537 L102.39,534 L102.34,531 L102.75,528 L103.32,526 L104.17,524 L105.36,522 L107,520 L108.04,519 L110,517.52 L112,516.4 L114,515.59 L116.24,515 L119,514.58 L122,514.47 L125,514.57 L128,514.58 L130.74,514 L132.06,513 L133.03,511 L133.5,508 L133.73,505 L133.87,502 L133.79,499 L133.3,496 L132.73,494 L132,491.89 L131,489.06 L130.34,487 L129.81,485 L129.22,482 L128.98,480 L128.84,477 L128.99,474 L129.24,472 L129.88,469 L130.49,467 L131.26,465 L132.21,463 L133.34,461 L134.7,459 L136,457.37 L137.25,456 L139,454.33 L140.61,453 L142,451.99 L144,450.73 L146,449.66 L148,448.75 L150.01,448 L153,447.14 L155,446.72 L158,446.32 L161,446.18 L164,446.3 L167,446.68 L169,447.09 L172,447.95 L174,448.69 L176,449.6 L178,450.67 L180,451.92 L181.54,453 L183,454.11 L185,455.71 L186.7,457 L188.27,458 L191,458.87 L194,458.29 L196,457.43 L198,456.56 L200,455.93 L203,455.72 L205,456.24 L207,457.46 L208.48,459 L209.78,461 L210.67,463 L211.28,465 L211.81,468 L211.95,471 L211.7,474 L211.06,477 L210.35,479 L209.35,481 L208,482.92 L206.93,484 L205,485.31 L202.9,486 L200,486.06 L198,485.66 L195.79,485 L193,484.36 L190,484.94 L188.43,486 L187,487.31 L185.5,489 L184,490.94 L183,492.46 L182,494.43 L181.33,497 L181.49,500 L182.12,502 L183.34,504 L185,505.48 L187,506.61 L189,507.4 L191,508.06 L194,508.94 L196,509.53 L198,510.21 L200.04,511 L202.19,512 L204,513.05 L206,514.63 L207.18,516 L208.01,518 L207.9,520 L206.79,522 L205,523.63 L203,524.88 L201,525.81 L199,526.54 L197,527.12 L194,527.79 L192,528.12 L189,528.49 L186,528.7 L183,528.79 L180,528.8 L177,528.77 L174,528.74 L171,528.82 L169,529.03 L166.02,530 L164.98,531 L164.48,534 L164.89,537 L165.17,539 L165.32,542 L165.04,545 L164.6,547 L163.92,549 L162.99,551 L161.78,553 L160.24,555 L159,556.32 L157.13,558 L155.82,559 L154,560.19 L152,561.3 L150,562.21 L147.88,563 L145,563.84 Z" fill="#5a98ee" fill-opacity="0.21"/>
<path d="M164,483.28 L161,483.78 L158,483.56 L156,482.98 L154,481.99 L152,480.46 L150.69,479 L149.48,477 L148.78,475 L148.48,472 L149,469.13 L149.94,467 L151,465.46 L152.36,464 L154,462.74 L156,461.65 L158,460.93 L161,460.44 L164,460.55 L166.09,461 L168.51,462 L170.1,463 L172,464.79 L173,466.21 L174,468.55 L174.37,471 L174,473.88 L173.18,476 L172,477.89 L171,479.07 L169,480.83 L167.15,482 L165,482.97 Z" fill="#5a98ee" fill-opacity="0.21"/>
<path d="M191,525.16 L188,525.48 L185,525.58 L182,525.48 L179,525.22 L177,524.96 L174,524.47 L171.48,524 L169,523.52 L166.19,523 L164,522.63 L161,522.16 L159,521.83 L156,521.23 L154,520.67 L152,519.86 L150,518.68 L148.08,517 L147,515.69 L145.98,514 L145,511.02 L144.87,509 L145.17,507 L146,504.86 L147.19,503 L149,501.09 L150.4,500 L152,499 L154.22,498 L157,497.25 L160,497.1 L163,497.6 L165,498.31 L167,499.33 L169,500.67 L170.55,502 L172,503.43 L173.42,505 L175,506.64 L176.61,508 L178.29,509 L180.89,510 L183,510.52 L185.36,511 L188,511.46 L190.71,512 L193,512.54 L195,513.15 L197.18,514 L199.02,515 L201,516.81 L201.72,519 L200.87,521 L199,522.56 L197,523.58 L195,524.29 L192,524.99 Z" fill="#5a98ee" fill-opacity="0.21"/>
<path d="M141,560.09 L138,560.43 L135,560.44 L132,560.14 L130,559.75 L127.36,559 L125,558.08 L123,557.07 L121.24,556 L119.85,555 L118,553.44 L116.56,552 L115,550.19 L114,548.88 L112.71,547 L111.5,545 L110.43,543 L109.49,541 L108.71,539 L108,536.52 L107.61,534 L107.68,531 L108.13,529 L109,526.99 L110.46,525 L112,523.65 L114,522.55 L116,521.94 L119,521.69 L121.82,522 L124,522.47 L126,523.02 L129,523.86 L131,524.34 L134,524.92 L136,525.21 L139,525.59 L141.72,526 L144,526.44 L146,527.04 L148.25,528 L150,529.03 L152,530.57 L153.45,532 L155,533.86 L156,535.34 L157,537.21 L157.99,540 L158.35,542 L158.32,545 L157.92,547 L157,549.42 L156,551.18 L154.62,553 L153,554.62 L151.27,556 L149.72,557 L147.81,558 L145.33,559 L143,559.69 L141,560.09 Z" fill="#5a98ee" fill-opacity="0.21"/>
<path d="M190,522.11 L187,522.48 L184,522.46 L181,522.11 L179,521.67 L176.69,521 L174.16,520 L172.04,519 L170,518.05 L168,517.3 L166,516.81 L163,516.21 L161,515.76 L158.62,515 L156.61,514 L155,512.66 L153.96,511 L154,508.59 L155.04,507 L157,505.82 L160,505.32 L163,505.91 L165,506.95 L166.32,508 L168,509.72 L169.2,511 L171,512.55 L173,513.49 L175.89,514 L178,514.16 L181,514.28 L184,514.44 L187,514.75 L189,515.09 L192,515.98 L193.8,517 L194.88,519 L193.18,521 L191,521.86 Z" fill="#5a98ee" fill-opacity="0.21"/>
<path d="M141,556.07 L138,556.53 L135,556.56 L132,556.19 L130,555.69 L128,554.98 L125.95,554 L124,552.78 L122,551.18 L120.79,550 L119.08,548 L118,546.48 L117,544.9 L115.94,543 L114.98,541 L114,538.42 L113.42,536 L113.4,533 L114.05,531 L115.87,529 L118,528.12 L120,527.93 L122,528.09 L125,528.65 L127,529.08 L130,529.65 L132.13,530 L135,530.42 L138,530.91 L140,531.34 L142.31,532 L144.81,533 L146.62,534 L148.05,535 L150,536.87 L151,538.19 L152,540.07 L152.75,543 L152.58,546 L151.93,548 L150.78,550 L149.02,552 L147.82,553 L146,554.17 L144,555.13 L141.27,556 Z" fill="#5a98ee" fill-opacity="0.21"/>
<path d="M140,552.14 L137,552.63 L134,552.52 L131.65,552 L129.17,551 L127.52,550 L126,548.78 L124.35,547 L123.03,545 L122.11,543 L121.54,541 L121.58,538 L123,536.04 L125,535.23 L127,534.91 L130,534.78 L133,534.86 L135,535.03 L138,535.54 L140,536.1 L142.13,537 L144,538.19 L145.8,540 L146.89,542 L147.28,544 L147,546.09 L146,548.15 L144.26,550 L142.78,551 L140.45,552 Z" fill="#5a98ee" fill-opacity="0.21"/>
<path d="M153,540.03 L150.21,540 L148,539.84 L145,539.43 L142.88,539 L140,538.23 L138,537.56 L136,536.77 L134,535.87 L132,534.83 L130,533.66 L128,532.34 L126.19,531 L124.94,530 L123,528.28 L121.68,527 L120,525.21 L118.96,524 L117.38,522 L116,520.06 L115,518.52 L114,516.85 L112.99,515 L112,512.99 L111,510.7 L110,508.06 L109.33,506 L108.76,504 L108.06,501 L107.69,499 L107.28,496 L107.03,493 L106.95,491 L106.96,488 L107.06,486 L107.32,483 L107.74,480 L108.11,478 L108.78,475 L109.32,473 L110,470.76 L110.95,468 L111.71,466 L112.51,464 L113.32,462 L114.04,460 L114.7,457 L114.52,454 L113.91,452 L113,449.91 L112,447.87 L111,445.86 L110,443.73 L109,441.31 L108.2,439 L107.69,437 L107.27,434 L107.35,431 L108,428.08 L108.81,426 L109.95,424 L111,422.54 L112.34,421 L114,419.44 L115.88,418 L117.45,417 L119.33,416 L121.69,415 L124,414.23 L126,413.73 L129,413.16 L131,412.87 L134,412.48 L137,412.14 L139,411.91 L142,411.55 L145,411.25 L148,411.01 L150,410.88 L153,410.76 L156,410.73 L159,410.79 L162,410.96 L164,411.1 L167,411.4 L170,411.81 L172,412.14 L175,412.72 L177,413.18 L180,413.98 L182,414.58 L184,415.26 L186,416.03 L188.28,417 L190.35,418 L192.19,419 L194,420.09 L196,421.46 L197.96,423 L199.09,424 L201,425.93 L202,427.09 L203.46,429 L204.82,431 L206,432.86 L207,434.43 L208.02,436 L209.35,438 L210.69,440 L211.98,442 L213,443.67 L214,445.43 L215,447.35 L216,449.46 L217,451.83 L217.82,454 L218.49,456 L219.08,458 L219.85,461 L220.3,463 L220.84,466 L221.14,468 L221.5,471 L221.73,474 L221.84,477 L221.84,480 L221.72,483 L221.47,486 L221.06,489 L220.72,491 L220.07,494 L219.56,496 L218.94,498 L218,500.65 L217.03,503 L216.08,505 L215.01,507 L214,508.69 L213,510.2 L211.67,512 L210,513.99 L209,515.06 L207,516.98 L205.81,518 L204,519.42 L202,520.8 L200.07,522 L198.33,523 L196.45,524 L194.45,525 L192.33,526 L190.11,527 L188,527.93 L186,528.81 L184,529.7 L182,530.61 L180,531.55 L178,532.5 L176,533.46 L174,534.41 L172,535.33 L170,536.19 L167.94,537 L165.04,538 L163,538.59 L161,539.07 L158,539.61 L155,539.94 L153,540.03 Z" fill="#d28ad2" fill-opacity="0.21"/>
<path d="M188,513.02 L186,512.96 L183,512.6 L180.38,512 L178,511.25 L176,510.46 L174,509.53 L172,508.48 L170,507.3 L168,506.04 L166.42,505 L164.94,504 L163,502.7 L161,501.43 L159,500.26 L157,499.21 L155,498.24 L153,497.3 L151,496.28 L149,495.09 L147.48,494 L146,492.76 L144.28,491 L143,489.46 L141.94,488 L140.67,486 L139.57,484 L138.61,482 L137.79,480 L137,477.69 L136.3,475 L135.95,473 L135.67,470 L135.73,467 L136,464.8 L136.57,462 L137.12,460 L138,457.16 L138.54,455 L138.26,452 L137,450.76 L135,449.98 L132,449.54 L129,449.13 L127,448.73 L124.71,448 L122.53,447 L120.91,446 L119,444.46 L117.63,443 L116.18,441 L115.11,439 L114.35,437 L113.9,435 L113.75,432 L114.04,430 L115,427.26 L116,425.52 L117.19,424 L119,422.3 L120.9,421 L122.84,420 L125,419.18 L127,418.63 L130,418.07 L132,417.8 L135,417.44 L138,417.09 L140,416.82 L143,416.41 L146,416.05 L148,415.85 L151,415.61 L154,415.49 L157,415.48 L160,415.59 L163,415.82 L165,416.04 L168,416.46 L170.77,417 L173,417.51 L175,418.06 L177.85,419 L180,419.85 L182,420.79 L184,421.9 L185.66,423 L187,424.07 L188.91,426 L190,427.56 L191,429.69 L191.52,432 L191.44,435 L191,437.5 L190.65,440 L191,442.04 L192.99,444 L195,444.73 L197,445.16 L200,445.66 L202,446.15 L204.17,447 L206,448.07 L208,449.74 L209.14,451 L210.6,453 L211.76,455 L212.72,457 L213.53,459 L214.2,461 L215,463.94 L215.45,466 L215.94,469 L216.19,471 L216.42,474 L216.5,477 L216.42,480 L216.17,483 L215.92,485 L215.39,488 L214.91,490 L214.02,493 L213.29,495 L212.42,497 L211.4,499 L210.19,501 L209,502.68 L207.93,504 L206,506 L204.85,507 L203,508.39 L201,509.62 L199,510.62 L197,511.42 L195,512.04 L192,512.69 L189,512.99 Z" fill="#d28ad2" fill-opacity="0.21"/>
<path d="M191,505.03 L189,504.95 L186,504.4 L184,503.71 L182,502.75 L180,501.46 L178.22,500 L177,498.81 L175.41,497 L174,495.1 L173,493.6 L172,491.99 L170.81,490 L169.62,488 L168.34,486 L167,484.12 L166,482.9 L164.15,481 L163,479.99 L161,478.43 L159.01,477 L157.63,476 L156,474.73 L154.1,473 L153,471.76 L151.78,470 L150.86,468 L150.28,465 L150.57,462 L151.24,460 L152.28,458 L153.68,456 L155,454.4 L156.27,453 L157.96,451 L158.66,449 L157,447.39 L155,446.45 L153,445.71 L150.94,445 L148,444.13 L146,443.6 L143.35,443 L141,442.68 L138,442.61 L135,442.88 L133,443.14 L130,443.39 L127,443.17 L125,442.62 L123,441.62 L121.02,440 L120,438.74 L119,436.97 L118.18,434 L118.3,431 L119,428.86 L120.12,427 L122,425.09 L123.63,424 L125.8,423 L128,422.34 L130,421.95 L133,421.55 L136,421.21 L138,420.95 L141,420.48 L143.91,420 L146,419.67 L149,419.29 L152,419.04 L154,418.95 L157,418.94 L159,419.01 L162,419.24 L165,419.64 L167,420 L170,420.71 L172,421.32 L174,422.06 L176.08,423 L178,424.1 L180,425.62 L181.33,427 L182.52,429 L183,431 L182.86,433 L182,435.26 L180.91,437 L179.22,439 L178,440.24 L176.07,442 L174.95,443 L173,444.97 L172.31,447 L174,448.44 L176,449.3 L178.03,450 L181,450.84 L183,451.35 L185.74,452 L188,452.44 L191,452.89 L193,453.06 L196,453.19 L199,453.35 L202,453.93 L204,454.78 L205.73,456 L207,457.26 L208.3,459 L209.43,461 L210.3,463 L211,465.04 L211.75,468 L212.11,470 L212.46,473 L212.61,476 L212.54,479 L212.27,482 L211.96,484 L211.31,487 L210.72,489 L209.98,491 L209,493.16 L207.98,495 L206.61,497 L205,498.89 L203.84,500 L202,501.46 L200,502.69 L198,503.62 L196,504.3 L193,504.9 L191,505.03 Z" fill="#d28ad2" fill-opacity="0.21"/>
<path d="M163,440.03 L160,440.35 L157,440.38 L154,440.16 L152,439.9 L149,439.38 L147,438.96 L144,438.34 L142,438 L139,437.77 L136.04,438 L134,438.34 L131,438.81 L128,438.75 L125.73,438 L124,436.65 L122.94,435 L122.56,432 L123.23,430 L124.9,428 L126.45,427 L129,426.07 L131,425.7 L134,425.37 L137,425.01 L139,424.68 L142,424.01 L144,423.55 L146.55,423 L149,422.58 L152,422.22 L155,422.06 L158,422.11 L161,422.36 L164,422.83 L166,423.3 L168.27,424 L170.62,425 L172.34,426 L174,427.4 L175.18,429 L175.59,432 L174.71,434 L173,435.86 L171.45,437 L169.65,438 L167.2,439 L165,439.64 L163,440.03 Z" fill="#d28ad2" fill-opacity="0.21"/>
<path d="M196,498.06 L193,498.6 L190,498.5 L187.85,498 L185.52,497 L183.92,496 L182,494.36 L180.75,493 L179.26,491 L178.04,489 L177,487.05 L176.02,485 L175.11,483 L174.2,481 L173.26,479 L172.24,477 L171.13,475 L170,473.13 L169,471.56 L168,470 L166.91,468 L166.18,465 L167,462.63 L168.73,461 L170.75,460 L173,459.34 L175,458.96 L178,458.68 L181,458.62 L184,458.73 L187,458.93 L189,459.07 L192,459.24 L195,459.34 L198,459.53 L200.44,460 L202.73,461 L204.08,462 L205.79,464 L206.92,466 L207.71,468 L208.27,470 L208.8,473 L209,475.67 L209,477.62 L208.84,480 L208.36,483 L207.87,485 L207,487.5 L206,489.64 L205,491.31 L203.73,493 L202,494.77 L200.39,496 L198.69,497 L196.2,498 Z" fill="#d28ad2" fill-opacity="0.21"/>
<path d="M158,436.04 L155,436.01 L153,435.79 L150,435.19 L148,434.56 L146,433.74 L144,432.57 L142.68,431 L143.7,429 L145.15,428 L147.27,427 L150,426.17 L152,425.78 L155,425.51 L158,425.58 L161,425.98 L163,426.54 L165,427.4 L167,428.92 L167.77,431 L166.77,433 L165,434.28 L163,435.14 L160,435.83 L158,436.04 Z" fill="#d28ad2" fill-opacity="0.21"/>
<path d="M195,492.14 L192,492.35 L190,491.98 L187.8,491 L186,489.67 L184.46,488 L183.12,486 L182.1,484 L181.31,482 L180.69,480 L180.02,477 L179.77,475 L179.84,472 L180.43,470 L181.95,468 L183.52,467 L186,466.16 L188,465.81 L191,465.58 L194,465.53 L197,465.74 L199,466.21 L201,467.21 L202.79,469 L203.91,471 L204.56,473 L205,475.75 L205.04,478 L204.84,480 L204.14,483 L203.35,485 L202.23,487 L201,488.58 L199.46,490 L197.97,491 L195.51,492 Z" fill="#d28ad2" fill-opacity="0.21"/>
<g opacity="0.5">
<circle cx="129.75" cy="535.74" r="1.5" fill="#029E73" stroke="none" stroke-width="0" />
<circle cx="117.72" cy="507.72" r="1.5" fill="#029E73" stroke="none" stroke-width="0" />
<circle cx="184.69" cy="508.7" r="1.5" fill="#CC78BC" stroke="none" stroke-width="0" />
<circle cx="201.03" cy="528.68" r="1.5" fill="#CC78BC" stroke="none" stroke-width="0" />
<circle cx="146.89" cy="437.76" r="1.5" fill="#0173B2" stroke="none" stroke-width="0" />
<circle cx="121.16" cy="534.87" r="1.5" fill="#0173B2" stroke="none" stroke-width="0" />
<circle cx="114.11" cy="513.27" r="1.5" fill="#029E73" stroke="none" stroke-width="0" />
<circle cx="99.52" cy="513.69" r="1.5" fill="#0173B2" stroke="none" stroke-width="0" />
<circle cx="194.75" cy="514.45" r="1.5" fill="#029E73" stroke="none" stroke-width="0" />
<circle cx="166.14" cy="504.97" r="1.5" fill="#0173B2" stroke="none" stroke-width="0" />
<circle cx="217.77" cy="511.06" r="1.5" fill="#CC78BC" stroke="none" stroke-width="0" />
<circle cx="112.89" cy="495.66" r="1.5" fill="#029E73" stroke="none" stroke-width="0" />
<circle cx="198.49" cy="513.02" r="1.5" fill="#0173B2" stroke="none" stroke-width="0" />
<circle cx="205.61" cy="501.09" r="1.5" fill="#0173B2" stroke="none" stroke-width="0" />
<circle cx="146.75" cy="515.75" r="1.5" fill="#CC78BC" stroke="none" stroke-width="0" />
<circle cx="124.24" cy="455.32" r="1.5" fill="#029E73" stroke="none" stroke-width="0" />
<circle cx="120.38" cy="485.81" r="1.5" fill="#029E73" stroke="none" stroke-width="0" />
<circle cx="179" cy="510.56" r="1.5" fill="#0173B2" stroke="none" stroke-width="0" />
<circle cx="179.5" cy="443.57" r="1.5" fill="#029E73" stroke="none" stroke-width="0" />
<circle cx="199.19" cy="470.68" r="1.5" fill="#CC78BC" stroke="none" stroke-width="0" />
<circle cx="199.9" cy="534.15" r="1.5" fill="#0173B2" stroke="none" stroke-width="0" />
<circle cx="203" cy="426.75" r="1.5" fill="#029E73" stroke="none" stroke-width="0" />
<circle cx="147.79" cy="441.67" r="1.5" fill="#CC78BC" stroke="none" stroke-width="0" />
<circle cx="169.63" cy="451.95" r="1.5" fill="#0173B2" stroke="none" stroke-width="0" />
<circle cx="167.6" cy="423.09" r="1.5" fill="#0173B2" stroke="none" stroke-width="0" />
<circle cx="97.88" cy="468" r="1.5" fill="#029E73" stroke="none" stroke-width="0" />
<circle cx="150.47" cy="504.63" r="1.5" fill="#029E73" stroke="none" stroke-width="0" />
<circle cx="158.83" cy="452.53" r="1.5" fill="#029E73" stroke="none" stroke-width="0" />
<circle cx="163.55" cy="490.02" r="1.5" fill="#029E73" stroke="none" stroke-width="0" />
<circle cx="202.6" cy="442.86" r="1.5" fill="#CC78BC" stroke="none" stroke-width="0" />
<circle cx="105.36" cy="456.07" r="1.5" fill="#CC78BC" stroke="none" stroke-width="0" />
<circle cx="125.34" cy="524.87" r="1.5" fill="#029E73" stroke="none" stroke-width="0" />
<circle cx="139.32" cy="476.47" r="1.5" fill="#CC78BC" stroke="none" stroke-width="0" />
<circle cx="166.48" cy="497.44" r="1.5" fill="#CC78BC" stroke="none" stroke-width="0" />
<circle cx="176.62" cy="490.2" r="1.5" fill="#029E73" stroke="none" stroke-width="0" />
<circle cx="127.25" cy="499.81" r="1.5" fill="#0173B2" stroke="none" stroke-width="0" />
<circle cx="171.82" cy="482.12" r="1.5" fill="#CC78BC" stroke="none" stroke-width="0" />
<circle cx="152.76" cy="462.93" r="1.5" fill="#0173B2" stroke="none" stroke-width="0" />
<circle cx="186.58" cy="430.21" r="1.5" fill="#CC78BC" stroke="none" stroke-width="0" />
<circle cx="183.94" cy="457.56" r="1.5" fill="#CC78BC" stroke="none" stroke-width="0" />
<circle cx="144.69" cy="530.95" r="1.5" fill="#0173B2" stroke="none" stroke-width="0" />
<circle cx="96.41" cy="504.77" r="1.5" fill="#029E73" stroke="none" stroke-width="0" />
<circle cx="135.02" cy="469.5" r="1.5" fill="#0173B2" stroke="none" stroke-width="0" />
<circle cx="126.47" cy="429.51" r="1.5" fill="#CC78BC" stroke="none" stroke-width="0" />
<circle cx="193.25" cy="447.23" r="1.5" fill="#029E73" stroke="none" stroke-width="0" />
<circle cx="175.65" cy="493.76" r="1.5" fill="#CC78BC" stroke="none" stroke-width="0" />
<circle cx="154.9" cy="523.33" r="1.5" fill="#029E73" stroke="none" stroke-width="0" />
<circle cx="186.21" cy="433.81" r="1.5" fill="#029E73" stroke="none" stroke-width="0" />
<circle cx="153.95" cy="488.6" r="1.5" fill="#CC78BC" stroke="none" stroke-width="0" />
<circle cx="199.14" cy="451.55" r="1.5" fill="#029E73" stroke="none" stroke-width="0" />
<circle cx="139.94" cy="452.87" r="1.5" fill="#CC78BC" stroke="none" stroke-width="0" />
<circle cx="198" cy="460.26" r="1.5" fill="#CC78BC" stroke="none" stroke-width="0" />
<circle cx="112.31" cy="453.65" r="1.5" fill="#029E73" stroke="none" stroke-width="0" />
<circle cx="92.61" cy="484.74" r="1.5" fill="#029E73" stroke="none" stroke-width="0" />
<circle cx="134.8" cy="521.05" r="1.5" fill="#029E73" stroke="none" stroke-width="0" />
<circle cx="145.26" cy="447.22" r="1.5" fill="#CC78BC" stroke="none" stroke-width="0" />
<circle cx="215.47" cy="496.95" r="1.5" fill="#029E73" stroke="none" stroke-width="0" />
<circle cx="144.25" cy="471.46" r="1.5" fill="#0173B2" stroke="none" stroke-width="0" />
<circle cx="153.6" cy="479.18" r="1.5" fill="#CC78BC" stroke="none" stroke-width="0" />
<circle cx="192.69" cy="520.85" r="1.5" fill="#0173B2" stroke="none" stroke-width="0" />
<circle cx="196.73" cy="517.32" r="1.5" fill="#029E73" stroke="none" stroke-width="0" />
<circle cx="166.04" cy="535.02" r="1.5" fill="#0173B2" stroke="none" stroke-width="0" />
<circle cx="181.51" cy="475.22" r="1.5" fill="#CC78BC" stroke="none" stroke-width="0" />
<circle cx="140.04" cy="490.26" r="1.5" fill="#CC78BC" stroke="none" stroke-width="0" />
<circle cx="151.87" cy="446.83" r="1.5" fill="#029E73" stroke="none" stroke-width="0" />
<circle cx="114.4" cy="444.67" r="1.5" fill="#CC78BC" stroke="none" stroke-width="0" />
<circle cx="122.77" cy="528.18" r="1.5" fill="#0173B2" stroke="none" stroke-width="0" />
<circle cx="123.49" cy="515.21" r="1.5" fill="#029E73" stroke="none" stroke-width="0" />
<circle cx="151.68" cy="438.22" r="1.5" fill="#CC78BC" stroke="none" stroke-width="0" />
<circle cx="135.81" cy="553.78" r="1.5" fill="#0173B2" stroke="none" stroke-width="0" />
<circle cx="149.16" cy="529.72" r="1.5" fill="#0173B2" stroke="none" stroke-width="0" />
<circle cx="175.83" cy="507.38" r="1.5" fill="#CC78BC" stroke="none" stroke-width="0" />
<circle cx="172.74" cy="440.95" r="1.5" fill="#029E73" stroke="none" stroke-width="0" />
<circle cx="200.16" cy="523.67" r="1.5" fill="#0173B2" stroke="none" stroke-width="0" />
<circle cx="146.33" cy="527.04" r="1.5" fill="#0173B2" stroke="none" stroke-width="0" />
<circle cx="165.5" cy="431.83" r="1.5" fill="#CC78BC" stroke="none" stroke-width="0" />
<circle cx="115.16" cy="457.37" r="1.5" fill="#029E73" stroke="none" stroke-width="0" />
<circle cx="129.65" cy="454.27" r="1.5" fill="#CC78BC" stroke="none" stroke-width="0" />
<circle cx="117.97" cy="491.36" r="1.5" fill="#029E73" stroke="none" stroke-width="0" />
<circle cx="191.14" cy="494.02" r="1.5" fill="#029E73" stroke="none" stroke-width="0" />
<circle cx="147.9" cy="546.89" r="1.5" fill="#0173B2" stroke="none" stroke-width="0" />
<circle cx="172.85" cy="427.17" r="1.5" fill="#0173B2" stroke="none" stroke-width="0" />
<circle cx="185.72" cy="518.48" r="1.5" fill="#0173B2" stroke="none" stroke-width="0" />
<circle cx="127.77" cy="522.75" r="1.5" fill="#0173B2" stroke="none" stroke-width="0" />
<circle cx="155.27" cy="492.22" r="1.5" fill="#CC78BC" stroke="none" stroke-width="0" />
<circle cx="185.11" cy="477.41" r="1.5" fill="#0173B2" stroke="none" stroke-width="0" />
<circle cx="139.2" cy="552.78" r="1.5" fill="#0173B2" stroke="none" stroke-width="0" />
<circle cx="101.61" cy="521.33" r="1.5" fill="#0173B2" stroke="none" stroke-width="0" />
<circle cx="108.43" cy="505.26" r="1.5" fill="#029E73" stroke="none" stroke-width="0" />
<circle cx="213.15" cy="468.31" r="1.5" fill="#0173B2" stroke="none" stroke-width="0" />
<circle cx="119.76" cy="478.99" r="1.5" fill="#029E73" stroke="none" stroke-width="0" />
<circle cx="159.19" cy="471.9" r="1.5" fill="#0173B2" stroke="none" stroke-width="0" />
<circle cx="146.78" cy="425.39" r="1.5" fill="#CC78BC" stroke="none" stroke-width="0" />
<circle cx="87.17" cy="515.22" r="1.5" fill="#029E73" stroke="none" stroke-width="0" />
<circle cx="107.82" cy="551.99" r="1.5" fill="#0173B2" stroke="none" stroke-width="0" />
<circle cx="188.44" cy="501.26" r="1.5" fill="#0173B2" stroke="none" stroke-width="0" />
<circle cx="195.7" cy="440.98" r="1.5" fill="#0173B2" stroke="none" stroke-width="0" />
<circle cx="95.54" cy="518.96" r="1.5" fill="#0173B2" stroke="none" stroke-width="0" />
<circle cx="124.07" cy="473.07" r="1.5" fill="#029E73" stroke="none" stroke-width="0" />
<circle cx="163.86" cy="519.87" r="1.5" fill="#0173B2" stroke="none" stroke-width="0" />
<circle cx="208.22" cy="475.57" r="1.5" fill="#CC78BC" stroke="none" stroke-width="0" />
<circle cx="85.69" cy="502.74" r="1.5" fill="#029E73" stroke="none" stroke-width="0" />
<circle cx="170.5" cy="466.47" r="1.5" fill="#CC78BC" stroke="none" stroke-width="0" />
<circle cx="114.21" cy="428.56" r="1.5" fill="#0173B2" stroke="none" stroke-width="0" />
<circle cx="112.35" cy="543.47" r="1.5" fill="#0173B2" stroke="none" stroke-width="0" />
<circle cx="191.42" cy="432.92" r="1.5" fill="#029E73" stroke="none" stroke-width="0" />
<circle cx="114.98" cy="474.18" r="1.5" fill="#029E73" stroke="none" stroke-width="0" />
<circle cx="101.91" cy="508.25" r="1.5" fill="#029E73" stroke="none" stroke-width="0" />
<circle cx="198.34" cy="433.79" r="1.5" fill="#029E73" stroke="none" stroke-width="0" />
<circle cx="138.28" cy="483.44" r="1.5" fill="#CC78BC" stroke="none" stroke-width="0" />
<circle cx="139.24" cy="437.46" r="1.5" fill="#0173B2" stroke="none" stroke-width="0" />
<circle cx="191.65" cy="505.43" r="1.5" fill="#0173B2" stroke="none" stroke-width="0" />
<circle cx="100.69" cy="480.08" r="1.5" fill="#029E73" stroke="none" stroke-width="0" />
<circle cx="124.74" cy="539.58" r="1.5" fill="#0173B2" stroke="none" stroke-width="0" />
<circle cx="162.22" cy="496.65" r="1.5" fill="#CC78BC" stroke="none" stroke-width="0" />
<circle cx="110.02" cy="514.02" r="1.5" fill="#029E73" stroke="none" stroke-width="0" />
<circle cx="211.04" cy="485.84" r="1.5" fill="#CC78BC" stroke="none" stroke-width="0" />
<circle cx="149.42" cy="433.02" r="1.5" fill="#CC78BC" stroke="none" stroke-width="0" />
<circle cx="120.85" cy="449.83" r="1.5" fill="#029E73" stroke="none" stroke-width="0" />
<circle cx="197.25" cy="456.67" r="1.5" fill="#CC78BC" stroke="none" stroke-width="0" />
<circle cx="134.74" cy="485.73" r="1.5" fill="#CC78BC" stroke="none" stroke-width="0" />
<circle cx="205.63" cy="486.6" r="1.5" fill="#029E73" stroke="none" stroke-width="0" />
<circle cx="92.98" cy="493.19" r="1.5" fill="#0173B2" stroke="none" stroke-width="0" />
<circle cx="140.8" cy="511.73" r="1.5" fill="#029E73" stroke="none" stroke-width="0" />
<circle cx="193.93" cy="498.12" r="1.5" fill="#029E73" stroke="none" stroke-width="0" />
<circle cx="210.45" cy="514.58" r="1.5" fill="#029E73" stroke="none" stroke-width="0" />
<circle cx="204.06" cy="516.58" r="1.5" fill="#0173B2" stroke="none" stroke-width="0" />
<circle cx="196.49" cy="423.5" r="1.5" fill="#029E73" stroke="none" stroke-width="0" />
<circle cx="134.94" cy="475.47" r="1.5" fill="#029E73" stroke="none" stroke-width="0" />
<circle cx="184.47" cy="465.09" r="1.5" fill="#CC78BC" stroke="none" stroke-width="0" />
<circle cx="104.01" cy="471.32" r="1.5" fill="#029E73" stroke="none" stroke-width="0" />
<circle cx="122.91" cy="531.28" r="1.5" fill="#0173B2" stroke="none" stroke-width="0" />
<circle cx="177.8" cy="453.41" r="1.5" fill="#0173B2" stroke="none" stroke-width="0" />
<circle cx="131.72" cy="549.68" r="1.5" fill="#CC78BC" stroke="none" stroke-width="0" />
<circle cx="203.33" cy="532.36" r="1.5" fill="#0173B2" stroke="none" stroke-width="0" />
<circle cx="148.01" cy="445.59" r="1.5" fill="#CC78BC" stroke="none" stroke-width="0" />
<circle cx="182.03" cy="460.98" r="1.5" fill="#0173B2" stroke="none" stroke-width="0" />
<circle cx="131.59" cy="489.87" r="1.5" fill="#029E73" stroke="none" stroke-width="0" />
<circle cx="139.03" cy="500.85" r="1.5" fill="#029E73" stroke="none" stroke-width="0" />
<circle cx="94.05" cy="513.5" r="1.5" fill="#0173B2" stroke="none" stroke-width="0" />
<circle cx="201.61" cy="454.96" r="1.5" fill="#029E73" stroke="none" stroke-width="0" />
<circle cx="184.08" cy="418.23" r="1.5" fill="#0173B2" stroke="none" stroke-width="0" />
<circle cx="204.27" cy="507.94" r="1.5" fill="#CC78BC" stroke="none" stroke-width="0" />
<circle cx="125.69" cy="488.17" r="1.5" fill="#029E73" stroke="none" stroke-width="0" />
<circle cx="120.19" cy="521.42" r="1.5" fill="#CC78BC" stroke="none" stroke-width="0" />
<circle cx="160.14" cy="441.19" r="1.5" fill="#0173B2" stroke="none" stroke-width="0" />
<circle cx="128.57" cy="473.54" r="1.5" fill="#029E73" stroke="none" stroke-width="0" />
<circle cx="217.86" cy="493.79" r="1.5" fill="#029E73" stroke="none" stroke-width="0" />
<circle cx="168.99" cy="456.67" r="1.5" fill="#0173B2" stroke="none" stroke-width="0" />
<circle cx="194.29" cy="430.33" r="1.5" fill="#029E73" stroke="none" stroke-width="0" />
<circle cx="171.87" cy="491.15" r="1.5" fill="#0173B2" stroke="none" stroke-width="0" />
<circle cx="114.61" cy="503.61" r="1.5" fill="#CC78BC" stroke="none" stroke-width="0" />
<circle cx="133.59" cy="544.52" r="1.5" fill="#0173B2" stroke="none" stroke-width="0" />
<circle cx="179.71" cy="450.42" r="1.5" fill="#CC78BC" stroke="none" stroke-width="0" />
<circle cx="113.41" cy="555.84" r="1.5" fill="#029E73" stroke="none" stroke-width="0" />
<circle cx="186.7" cy="425.88" r="1.5" fill="#0173B2" stroke="none" stroke-width="0" />
<circle cx="175.96" cy="428.37" r="1.5" fill="#0173B2" stroke="none" stroke-width="0" />
<circle cx="181.72" cy="480.42" r="1.5" fill="#CC78BC" stroke="none" stroke-width="0" />
<circle cx="144.98" cy="489.69" r="1.5" fill="#0173B2" stroke="none" stroke-width="0" />
<circle cx="111.76" cy="461.87" r="1.5" fill="#029E73" stroke="none" stroke-width="0" />
<circle cx="204.49" cy="478.36" r="1.5" fill="#0173B2" stroke="none" stroke-width="0" />
<circle cx="105.14" cy="494.91" r="1.5" fill="#029E73" stroke="none" stroke-width="0" />
<circle cx="128.53" cy="442.26" r="1.5" fill="#CC78BC" stroke="none" stroke-width="0" />
<circle cx="174.47" cy="478.03" r="1.5" fill="#0173B2" stroke="none" stroke-width="0" />
<circle cx="145.43" cy="430.4" r="1.5" fill="#029E73" stroke="none" stroke-width="0" />
<circle cx="196.94" cy="437.47" r="1.5" fill="#029E73" stroke="none" stroke-width="0" />
<circle cx="188.76" cy="526.72" r="1.5" fill="#0173B2" stroke="none" stroke-width="0" />
<circle cx="182.55" cy="432.69" r="1.5" fill="#CC78BC" stroke="none" stroke-width="0" />
<circle cx="126.08" cy="462.12" r="1.5" fill="#CC78BC" stroke="none" stroke-width="0" />
<circle cx="172.88" cy="419.97" r="1.5" fill="#0173B2" stroke="none" stroke-width="0" />
<circle cx="191.63" cy="524.64" r="1.5" fill="#CC78BC" stroke="none" stroke-width="0" />
<circle cx="150.05" cy="452.9" r="1.5" fill="#CC78BC" stroke="none" stroke-width="0" />
<circle cx="168.56" cy="443.06" r="1.5" fill="#CC78BC" stroke="none" stroke-width="0" />
<circle cx="89.37" cy="491.85" r="1.5" fill="#0173B2" stroke="none" stroke-width="0" />
<circle cx="164.1" cy="444.93" r="1.5" fill="#CC78BC" stroke="none" stroke-width="0" />
<circle cx="121.56" cy="552.74" r="1.5" fill="#0173B2" stroke="none" stroke-width="0" />
<circle cx="128.34" cy="527.79" r="1.5" fill="#029E73" stroke="none" stroke-width="0" />
<circle cx="153.99" cy="532.67" r="1.5" fill="#0173B2" stroke="none" stroke-width="0" />
<circle cx="176.68" cy="433.01" r="1.5" fill="#CC78BC" stroke="none" stroke-width="0" />
<circle cx="122.21" cy="459.52" r="1.5" fill="#029E73" stroke="none" stroke-width="0" />
<circle cx="173.4" cy="525.75" r="1.5" fill="#029E73" stroke="none" stroke-width="0" />
<circle cx="208.5" cy="503.92" r="1.5" fill="#029E73" stroke="none" stroke-width="0" />
<circle cx="109.23" cy="476.06" r="1.5" fill="#029E73" stroke="none" stroke-width="0" />
<circle cx="193.66" cy="420" r="1.5" fill="#CC78BC" stroke="none" stroke-width="0" />
<circle cx="205.16" cy="521.96" r="1.5" fill="#0173B2" stroke="none" stroke-width="0" />
<circle cx="142.52" cy="492.61" r="1.5" fill="#CC78BC" stroke="none" stroke-width="0" />
<circle cx="193.46" cy="473.04" r="1.5" fill="#CC78BC" stroke="none" stroke-width="0" />
<circle cx="118.43" cy="424.95" r="1.5" fill="#CC78BC" stroke="none" stroke-width="0" />
<circle cx="117.15" cy="452.19" r="1.5" fill="#029E73" stroke="none" stroke-width="0" />
<circle cx="188.67" cy="470.83" r="1.5" fill="#CC78BC" stroke="none" stroke-width="0" />
<circle cx="160.81" cy="535.67" r="1.5" fill="#0173B2" stroke="none" stroke-width="0" />
<circle cx="170.56" cy="432.31" r="1.5" fill="#CC78BC" stroke="none" stroke-width="0" />
<circle cx="140.08" cy="529.13" r="1.5" fill="#0173B2" stroke="none" stroke-width="0" />
<circle cx="111.8" cy="490.2" r="1.5" fill="#029E73" stroke="none" stroke-width="0" />
<circle cx="115.97" cy="522.24" r="1.5" fill="#029E73" stroke="none" stroke-width="0" />
<circle cx="170.44" cy="508.88" r="1.5" fill="#0173B2" stroke="none" stroke-width="0" />
<circle cx="148.29" cy="496.24" r="1.5" fill="#029E73" stroke="none" stroke-width="0" />
<circle cx="155.78" cy="517.46" r="1.5" fill="#029E73" stroke="none" stroke-width="0" />
<circle cx="156.09" cy="504.4" r="1.5" fill="#0173B2" stroke="none" stroke-width="0" />
<circle cx="108.58" cy="539.73" r="1.5" fill="#029E73" stroke="none" stroke-width="0" />
<circle cx="176.45" cy="480.67" r="1.5" fill="#0173B2" stroke="none" stroke-width="0" />
<circle cx="127.66" cy="541.78" r="1.5" fill="#0173B2" stroke="none" stroke-width="0" />
<circle cx="122.77" cy="478.47" r="1.5" fill="#CC78BC" stroke="none" stroke-width="0" />
<circle cx="154.34" cy="509.04" r="1.5" fill="#0173B2" stroke="none" stroke-width="0" />
<circle cx="119.43" cy="469.59" r="1.5" fill="#0173B2" stroke="none" stroke-width="0" />
<circle cx="108.37" cy="484.61" r="1.5" fill="#CC78BC" stroke="none" stroke-width="0" />
<circle cx="179.82" cy="467.02" r="1.5" fill="#0173B2" stroke="none" stroke-width="0" />
<circle cx="213.86" cy="510.5" r="1.5" fill="#0173B2" stroke="none" stroke-width="0" />
<circle cx="208.53" cy="490.49" r="1.5" fill="#CC78BC" stroke="none" stroke-width="0" />
<circle cx="140.69" cy="449.32" r="1.5" fill="#CC78BC" stroke="none" stroke-width="0" />
<circle cx="179.03" cy="471.38" r="1.5" fill="#CC78BC" stroke="none" stroke-width="0" />
<circle cx="125.34" cy="555.63" r="1.5" fill="#0173B2" stroke="none" stroke-width="0" />
<circle cx="124.26" cy="497.18" r="1.5" fill="#029E73" stroke="none" stroke-width="0" />
<circle cx="158.38" cy="429.83" r="1.5" fill="#CC78BC" stroke="none" stroke-width="0" />
<circle cx="190.92" cy="515.64" r="1.5" fill="#029E73" stroke="none" stroke-width="0" />
<circle cx="164.54" cy="458.55" r="1.5" fill="#029E73" stroke="none" stroke-width="0" />
<circle cx="121.31" cy="491.46" r="1.5" fill="#029E73" stroke="none" stroke-width="0" />
<circle cx="147.66" cy="551.39" r="1.5" fill="#0173B2" stroke="none" stroke-width="0" />
<circle cx="135.88" cy="442.13" r="1.5" fill="#CC78BC" stroke="none" stroke-width="0" />
<circle cx="178.76" cy="435.92" r="1.5" fill="#0173B2" stroke="none" stroke-width="0" />
<circle cx="109.89" cy="524.08" r="1.5" fill="#029E73" stroke="none" stroke-width="0" />
<circle cx="145.59" cy="540.79" r="1.5" fill="#029E73" stroke="none" stroke-width="0" />
<circle cx="92.83" cy="508.68" r="1.5" fill="#0173B2" stroke="none" stroke-width="0" />
<circle cx="111.34" cy="498.68" r="1.5" fill="#CC78BC" stroke="none" stroke-width="0" />
<circle cx="96.79" cy="511.15" r="1.5" fill="#029E73" stroke="none" stroke-width="0" />
<circle cx="176.84" cy="504.25" r="1.5" fill="#CC78BC" stroke="none" stroke-width="0" />
<circle cx="143.19" cy="434.25" r="1.5" fill="#029E73" stroke="none" stroke-width="0" />
<circle cx="134.34" cy="417.61" r="1.5" fill="#029E73" stroke="none" stroke-width="0" />
<circle cx="214.06" cy="505.96" r="1.5" fill="#029E73" stroke="none" stroke-width="0" />
<circle cx="111.7" cy="539.57" r="1.5" fill="#0173B2" stroke="none" stroke-width="0" />
<circle cx="144.08" cy="522.39" r="1.5" fill="#0173B2" stroke="none" stroke-width="0" />
<circle cx="104.41" cy="513.57" r="1.5" fill="#0173B2" stroke="none" stroke-width="0" />
<circle cx="100.61" cy="466.75" r="1.5" fill="#CC78BC" stroke="none" stroke-width="0" />
<circle cx="139.38" cy="547.84" r="1.5" fill="#0173B2" stroke="none" stroke-width="0" />
<circle cx="202.45" cy="451.75" r="1.5" fill="#029E73" stroke="none" stroke-width="0" />
<circle cx="131.85" cy="509.28" r="1.5" fill="#CC78BC" stroke="none" stroke-width="0" />
<circle cx="127.41" cy="530.66" r="1.5" fill="#029E73" stroke="none" stroke-width="0" />
<circle cx="220.95" cy="500.46" r="1.5" fill="#CC78BC" stroke="none" stroke-width="0" />
<circle cx="139.72" cy="522.51" r="1.5" fill="#0173B2" stroke="none" stroke-width="0" />
<circle cx="187.26" cy="522.74" r="1.5" fill="#029E73" stroke="none" stroke-width="0" />
<circle cx="152.61" cy="443.03" r="1.5" fill="#CC78BC" stroke="none" stroke-width="0" />
<circle cx="132.85" cy="537.34" r="1.5" fill="#0173B2" stroke="none" stroke-width="0" />
<circle cx="97.17" cy="491.44" r="1.5" fill="#029E73" stroke="none" stroke-width="0" />
<circle cx="174.13" cy="446.63" r="1.5" fill="#0173B2" stroke="none" stroke-width="0" />
<circle cx="180.25" cy="497.99" r="1.5" fill="#029E73" stroke="none" stroke-width="0" />
<circle cx="153.58" cy="427.67" r="1.5" fill="#029E73" stroke="none" stroke-width="0" />
<circle cx="204.32" cy="527.84" r="1.5" fill="#029E73" stroke="none" stroke-width="0" />
<circle cx="194.08" cy="485.94" r="1.5" fill="#CC78BC" stroke="none" stroke-width="0" />
<circle cx="155.17" cy="483.86" r="1.5" fill="#CC78BC" stroke="none" stroke-width="0" />
<circle cx="148.14" cy="475.79" r="1.5" fill="#0173B2" stroke="none" stroke-width="0" />
<circle cx="177.19" cy="461.86" r="1.5" fill="#CC78BC" stroke="none" stroke-width="0" />
<circle cx="194.84" cy="481.77" r="1.5" fill="#0173B2" stroke="none" stroke-width="0" />
<circle cx="194.9" cy="450.31" r="1.5" fill="#029E73" stroke="none" stroke-width="0" />
<circle cx="131.84" cy="475.35" r="1.5" fill="#029E73" stroke="none" stroke-width="0" />
<circle cx="108.09" cy="518.19" r="1.5" fill="#029E73" stroke="none" stroke-width="0" />
<circle cx="106.93" cy="528.44" r="1.5" fill="#0173B2" stroke="none" stroke-width="0" />
<circle cx="188.78" cy="441.76" r="1.5" fill="#029E73" stroke="none" stroke-width="0" />
<circle cx="141.18" cy="467.05" r="1.5" fill="#0173B2" stroke="none" stroke-width="0" />
<circle cx="197.45" cy="498.44" r="1.5" fill="#029E73" stroke="none" stroke-width="0" />
<circle cx="161.64" cy="467.72" r="1.5" fill="#0173B2" stroke="none" stroke-width="0" />
<circle cx="145.29" cy="496.35" r="1.5" fill="#0173B2" stroke="none" stroke-width="0" />
<circle cx="172.14" cy="496.71" r="1.5" fill="#029E73" stroke="none" stroke-width="0" />
<circle cx="125.8" cy="544.15" r="1.5" fill="#0173B2" stroke="none" stroke-width="0" />
<circle cx="134.99" cy="509.85" r="1.5" fill="#029E73" stroke="none" stroke-width="0" />
<circle cx="189.99" cy="484.41" r="1.5" fill="#CC78BC" stroke="none" stroke-width="0" />
<circle cx="184.15" cy="527.32" r="1.5" fill="#CC78BC" stroke="none" stroke-width="0" />
<circle cx="175.15" cy="436" r="1.5" fill="#CC78BC" stroke="none" stroke-width="0" />
<circle cx="178.23" cy="520.99" r="1.5" fill="#0173B2" stroke="none" stroke-width="0" />
<circle cx="112.12" cy="471.64" r="1.5" fill="#029E73" stroke="none" stroke-width="0" />
<circle cx="163.75" cy="510.09" r="1.5" fill="#0173B2" stroke="none" stroke-width="0" />
<circle cx="177.06" cy="448.26" r="1.5" fill="#0173B2" stroke="none" stroke-width="0" />
<circle cx="214.58" cy="520.36" r="1.5" fill="#0173B2" stroke="none" stroke-width="0" />
<circle cx="178.08" cy="458.66" r="1.5" fill="#CC78BC" stroke="none" stroke-width="0" />
<circle cx="136.59" cy="559.31" r="1.5" fill="#0173B2" stroke="none" stroke-width="0" />
<circle cx="148.52" cy="543.7" r="1.5" fill="#0173B2" stroke="none" stroke-width="0" />
<circle cx="119.07" cy="555.76" r="1.5" fill="#0173B2" stroke="none" stroke-width="0" />
<circle cx="201.19" cy="436.48" r="1.5" fill="#029E73" stroke="none" stroke-width="0" />
<circle cx="214.24" cy="471.89" r="1.5" fill="#029E73" stroke="none" stroke-width="0" />
<circle cx="139.86" cy="496.11" r="1.5" fill="#0173B2" stroke="none" stroke-width="0" />
<circle cx="178.09" cy="524.44" r="1.5" fill="#029E73" stroke="none" stroke-width="0" />
<circle cx="128.66" cy="423.71" r="1.5" fill="#029E73" stroke="none" stroke-width="0" />
<circle cx="215.33" cy="479.15" r="1.5" fill="#029E73" stroke="none" stroke-width="0" />
<circle cx="107.92" cy="500.31" r="1.5" fill="#029E73" stroke="none" stroke-width="0" />
<circle cx="148.8" cy="481.13" r="1.5" fill="#0173B2" stroke="none" stroke-width="0" />
<circle cx="141.36" cy="538.86" r="1.5" fill="#0173B2" stroke="none" stroke-width="0" />
<circle cx="132.97" cy="533.19" r="1.5" fill="#029E73" stroke="none" stroke-width="0" />
<circle cx="189.49" cy="510.24" r="1.5" fill="#0173B2" stroke="none" stroke-width="0" />
<circle cx="104.1" cy="485.1" r="1.5" fill="#029E73" stroke="none" stroke-width="0" />
<circle cx="192.69" cy="452.73" r="1.5" fill="#CC78BC" stroke="none" stroke-width="0" />
<circle cx="186.41" cy="498.72" r="1.5" fill="#CC78BC" stroke="none" stroke-width="0" />
<circle cx="108.98" cy="468.2" r="1.5" fill="#029E73" stroke="none" stroke-width="0" />
<circle cx="164.09" cy="452.48" r="1.5" fill="#CC78BC" stroke="none" stroke-width="0" />
<circle cx="199.89" cy="427.55" r="1.5" fill="#CC78BC" stroke="none" stroke-width="0" />
<circle cx="167.11" cy="463.07" r="1.5" fill="#CC78BC" stroke="none" stroke-width="0" />
<circle cx="123.27" cy="509.68" r="1.5" fill="#029E73" stroke="none" stroke-width="0" />
<circle cx="209.07" cy="510.52" r="1.5" fill="#0173B2" stroke="none" stroke-width="0" />
<circle cx="137.12" cy="456.5" r="1.5" fill="#029E73" stroke="none" stroke-width="0" />
<circle cx="159.56" cy="524.52" r="1.5" fill="#0173B2" stroke="none" stroke-width="0" />
<circle cx="113.17" cy="431.99" r="1.5" fill="#029E73" stroke="none" stroke-width="0" />
<circle cx="186.19" cy="531.02" r="1.5" fill="#CC78BC" stroke="none" stroke-width="0" />
<circle cx="119.44" cy="532.35" r="1.5" fill="#0173B2" stroke="none" stroke-width="0" />
<circle cx="132.74" cy="503.92" r="1.5" fill="#029E73" stroke="none" stroke-width="0" />
<circle cx="197.94" cy="494.16" r="1.5" fill="#0173B2" stroke="none" stroke-width="0" />
<circle cx="201.24" cy="458.19" r="1.5" fill="#CC78BC" stroke="none" stroke-width="0" />
<circle cx="185.28" cy="436.88" r="1.5" fill="#CC78BC" stroke="none" stroke-width="0" />
<circle cx="107.32" cy="479.09" r="1.5" fill="#CC78BC" stroke="none" stroke-width="0" />
<circle cx="198.11" cy="430.34" r="1.5" fill="#CC78BC" stroke="none" stroke-width="0" />
<circle cx="185.36" cy="470.98" r="1.5" fill="#CC78BC" stroke="none" stroke-width="0" />
<circle cx="118.49" cy="433.43" r="1.5" fill="#029E73" stroke="none" stroke-width="0" />
<circle cx="176.4" cy="421.62" r="1.5" fill="#0173B2" stroke="none" stroke-width="0" />
<circle cx="199.26" cy="443.52" r="1.5" fill="#029E73" stroke="none" stroke-width="0" />
<circle cx="156.51" cy="526.32" r="1.5" fill="#0173B2" stroke="none" stroke-width="0" />
<circle cx="185.31" cy="480.61" r="1.5" fill="#0173B2" stroke="none" stroke-width="0" />
<circle cx="204.61" cy="474.29" r="1.5" fill="#029E73" stroke="none" stroke-width="0" />
<circle cx="188.73" cy="518.51" r="1.5" fill="#029E73" stroke="none" stroke-width="0" />
<circle cx="116.65" cy="535.52" r="1.5" fill="#0173B2" stroke="none" stroke-width="0" />
<circle cx="115.35" cy="435.57" r="1.5" fill="#CC78BC" stroke="none" stroke-width="0" />
<circle cx="119.73" cy="512.94" r="1.5" fill="#029E73" stroke="none" stroke-width="0" />
<circle cx="135.38" cy="451.42" r="1.5" fill="#0173B2" stroke="none" stroke-width="0" />
<circle cx="159.01" cy="490.18" r="1.5" fill="#CC78BC" stroke="none" stroke-width="0" />
<circle cx="159.12" cy="508.69" r="1.5" fill="#0173B2" stroke="none" stroke-width="0" />
<circle cx="124.04" cy="438.48" r="1.5" fill="#CC78BC" stroke="none" stroke-width="0" />
<circle cx="98.85" cy="518.35" r="1.5" fill="#0173B2" stroke="none" stroke-width="0" />
<circle cx="157.88" cy="426.74" r="1.5" fill="#CC78BC" stroke="none" stroke-width="0" />
<circle cx="202.89" cy="467.47" r="1.5" fill="#029E73" stroke="none" stroke-width="0" />
<circle cx="95.19" cy="525.43" r="1.5" fill="#029E73" stroke="none" stroke-width="0" />
<circle cx="132.56" cy="518.37" r="1.5" fill="#0173B2" stroke="none" stroke-width="0" />
<circle cx="192.29" cy="423.28" r="1.5" fill="#029E73" stroke="none" stroke-width="0" />
<circle cx="109.26" cy="491.96" r="1.5" fill="#029E73" stroke="none" stroke-width="0" />
<circle cx="156.15" cy="445.54" r="1.5" fill="#029E73" stroke="none" stroke-width="0" />
<circle cx="198.52" cy="506.4" r="1.5" fill="#0173B2" stroke="none" stroke-width="0" />
<circle cx="121.84" cy="505" r="1.5" fill="#CC78BC" stroke="none" stroke-width="0" />
<circle cx="139.26" cy="469.96" r="1.5" fill="#CC78BC" stroke="none" stroke-width="0" />
<circle cx="135.68" cy="481.08" r="1.5" fill="#0173B2" stroke="none" stroke-width="0" />
<circle cx="175.06" cy="456.91" r="1.5" fill="#CC78BC" stroke="none" stroke-width="0" />
<circle cx="208.03" cy="429.27" r="1.5" fill="#0173B2" stroke="none" stroke-width="0" />
<circle cx="209.8" cy="470.33" r="1.5" fill="#0173B2" stroke="none" stroke-width="0" />
<circle cx="166.61" cy="446.77" r="1.5" fill="#029E73" stroke="none" stroke-width="0" />
<circle cx="118" cy="501.71" r="1.5" fill="#CC78BC" stroke="none" stroke-width="0" />
<circle cx="163.94" cy="480.83" r="1.5" fill="#CC78BC" stroke="none" stroke-width="0" />
<circle cx="103.01" cy="504.88" r="1.5" fill="#029E73" stroke="none" stroke-width="0" />
<circle cx="180.09" cy="424.14" r="1.5" fill="#CC78BC" stroke="none" stroke-width="0" />
<circle cx="99.99" cy="461.86" r="1.5" fill="#CC78BC" stroke="none" stroke-width="0" />
<circle cx="216.54" cy="490.14" r="1.5" fill="#CC78BC" stroke="none" stroke-width="0" />
<circle cx="156.17" cy="469.09" r="1.5" fill="#CC78BC" stroke="none" stroke-width="0" />
<circle cx="125.21" cy="520.17" r="1.5" fill="#029E73" stroke="none" stroke-width="0" />
<circle cx="194.15" cy="464.34" r="1.5" fill="#0173B2" stroke="none" stroke-width="0" />
<circle cx="141.41" cy="440.89" r="1.5" fill="#0173B2" stroke="none" stroke-width="0" />
<circle cx="118.21" cy="497.5" r="1.5" fill="#029E73" stroke="none" stroke-width="0" />
<circle cx="82.68" cy="495.09" r="1.5" fill="#029E73" stroke="none" stroke-width="0" />
<circle cx="173.09" cy="517.54" r="1.5" fill="#0173B2" stroke="none" stroke-width="0" />
<circle cx="130.52" cy="557.11" r="1.5" fill="#0173B2" stroke="none" stroke-width="0" />
<circle cx="183.1" cy="484.57" r="1.5" fill="#CC78BC" stroke="none" stroke-width="0" />
<circle cx="194.28" cy="509.44" r="1.5" fill="#CC78BC" stroke="none" stroke-width="0" />
<circle cx="107.86" cy="453.47" r="1.5" fill="#0173B2" stroke="none" stroke-width="0" />
<circle cx="150.89" cy="468.13" r="1.5" fill="#029E73" stroke="none" stroke-width="0" />
<circle cx="134.51" cy="495.98" r="1.5" fill="#029E73" stroke="none" stroke-width="0" />
<circle cx="205.75" cy="444.94" r="1.5" fill="#0173B2" stroke="none" stroke-width="0" />
<circle cx="115.77" cy="559.03" r="1.5" fill="#0173B2" stroke="none" stroke-width="0" />
<circle cx="171.88" cy="461.35" r="1.5" fill="#0173B2" stroke="none" stroke-width="0" />
<circle cx="179.73" cy="418.02" r="1.5" fill="#0173B2" stroke="none" stroke-width="0" />
<circle cx="176.79" cy="496.99" r="1.5" fill="#CC78BC" stroke="none" stroke-width="0" />
<circle cx="135.96" cy="446.47" r="1.5" fill="#CC78BC" stroke="none" stroke-width="0" />
<circle cx="106.9" cy="459.2" r="1.5" fill="#0173B2" stroke="none" stroke-width="0" />
<circle cx="181.64" cy="512.01" r="1.5" fill="#CC78BC" stroke="none" stroke-width="0" />
<circle cx="201.39" cy="495.69" r="1.5" fill="#CC78BC" stroke="none" stroke-width="0" />
<circle cx="199.8" cy="478.81" r="1.5" fill="#CC78BC" stroke="none" stroke-width="0" />
<circle cx="177.05" cy="516.01" r="1.5" fill="#0173B2" stroke="none" stroke-width="0" />
<circle cx="203.35" cy="504.13" r="1.5" fill="#029E73" stroke="none" stroke-width="0" />
<circle cx="102.65" cy="491.2" r="1.5" fill="#029E73" stroke="none" stroke-width="0" />
<circle cx="149.57" cy="492.75" r="1.5" fill="#0173B2" stroke="none" stroke-width="0" />
<circle cx="115.53" cy="480.51" r="1.5" fill="#029E73" stroke="none" stroke-width="0" />
<circle cx="128.77" cy="504.6" r="1.5" fill="#CC78BC" stroke="none" stroke-width="0" />
<circle cx="198.65" cy="484.37" r="1.5" fill="#CC78BC" stroke="none" stroke-width="0" />
<circle cx="211.39" cy="496.66" r="1.5" fill="#CC78BC" stroke="none" stroke-width="0" />
<circle cx="120.48" cy="445.45" r="1.5" fill="#0173B2" stroke="none" stroke-width="0" />
<circle cx="152.78" cy="450.52" r="1.5" fill="#0173B2" stroke="none" stroke-width="0" />
<circle cx="111.44" cy="437.35" r="1.5" fill="#CC78BC" stroke="none" stroke-width="0" />
<circle cx="201.92" cy="463.93" r="1.5" fill="#CC78BC" stroke="none" stroke-width="0" />
<circle cx="162.28" cy="529.5" r="1.5" fill="#0173B2" stroke="none" stroke-width="0" />
<circle cx="119.58" cy="439.29" r="1.5" fill="#029E73" stroke="none" stroke-width="0" />
<circle cx="160.31" cy="424.53" r="1.5" fill="#0173B2" stroke="none" stroke-width="0" />
<circle cx="166.13" cy="436.44" r="1.5" fill="#CC78BC" stroke="none" stroke-width="0" />
<circle cx="165.68" cy="455.69" r="1.5" fill="#029E73" stroke="none" stroke-width="0" />
<circle cx="165.17" cy="477.19" r="1.5" fill="#0173B2" stroke="none" stroke-width="0" />
<circle cx="181.24" cy="508.22" r="1.5" fill="#0173B2" stroke="none" stroke-width="0" />
<circle cx="184.42" cy="452.02" r="1.5" fill="#CC78BC" stroke="none" stroke-width="0" />
<circle cx="133.17" cy="426.34" r="1.5" fill="#CC78BC" stroke="none" stroke-width="0" />
<circle cx="146.43" cy="421.63" r="1.5" fill="#CC78BC" stroke="none" stroke-width="0" />
<circle cx="190.3" cy="489.56" r="1.5" fill="#0173B2" stroke="none" stroke-width="0" />
<circle cx="115.82" cy="528.59" r="1.5" fill="#0173B2" stroke="none" stroke-width="0" />
<circle cx="191.77" cy="477.9" r="1.5" fill="#CC78BC" stroke="none" stroke-width="0" />
<circle cx="131.47" cy="481" r="1.5" fill="#029E73" stroke="none" stroke-width="0" />
<circle cx="163.18" cy="435.11" r="1.5" fill="#0173B2" stroke="none" stroke-width="0" />
<circle cx="187.51" cy="512.93" r="1.5" fill="#0173B2" stroke="none" stroke-width="0" />
<circle cx="166.82" cy="513.21" r="1.5" fill="#0173B2" stroke="none" stroke-width="0" />
<circle cx="220.17" cy="487.94" r="1.5" fill="#0173B2" stroke="none" stroke-width="0" />
<circle cx="112.48" cy="478.01" r="1.5" fill="#029E73" stroke="none" stroke-width="0" />
<circle cx="119.21" cy="457.07" r="1.5" fill="#CC78BC" stroke="none" stroke-width="0" />
<circle cx="151.41" cy="541.03" r="1.5" fill="#0173B2" stroke="none" stroke-width="0" />
<circle cx="189.54" cy="465.26" r="1.5" fill="#0173B2" stroke="none" stroke-width="0" />
<circle cx="153.49" cy="431.72" r="1.5" fill="#0173B2" stroke="none" stroke-width="0" />
<circle cx="136.59" cy="462.1" r="1.5" fill="#029E73" stroke="none" stroke-width="0" />
<circle cx="118.84" cy="481.85" r="1.5" fill="#CC78BC" stroke="none" stroke-width="0" />
<circle cx="113.81" cy="487.87" r="1.5" fill="#CC78BC" stroke="none" stroke-width="0" />
<circle cx="144.23" cy="545.13" r="1.5" fill="#0173B2" stroke="none" stroke-width="0" />
<circle cx="99" cy="483.65" r="1.5" fill="#029E73" stroke="none" stroke-width="0" />
<circle cx="101.36" cy="497.14" r="1.5" fill="#029E73" stroke="none" stroke-width="0" />
<circle cx="141.29" cy="418.07" r="1.5" fill="#CC78BC" stroke="none" stroke-width="0" />
<circle cx="111.4" cy="450.61" r="1.5" fill="#029E73" stroke="none" stroke-width="0" />
<circle cx="90.78" cy="488.55" r="1.5" fill="#029E73" stroke="none" stroke-width="0" />
<circle cx="156.86" cy="460.51" r="1.5" fill="#0173B2" stroke="none" stroke-width="0" />
<circle cx="113.6" cy="448.53" r="1.5" fill="#029E73" stroke="none" stroke-width="0" />
<circle cx="218.08" cy="469.68" r="1.5" fill="#CC78BC" stroke="none" stroke-width="0" />
<circle cx="158.7" cy="421.66" r="1.5" fill="#CC78BC" stroke="none" stroke-width="0" />
<circle cx="182.74" cy="519.77" r="1.5" fill="#CC78BC" stroke="none" stroke-width="0" />
<circle cx="220.36" cy="483.81" r="1.5" fill="#CC78BC" stroke="none" stroke-width="0" />
<circle cx="144.76" cy="511.84" r="1.5" fill="#CC78BC" stroke="none" stroke-width="0" />
<circle cx="129.44" cy="461.34" r="1.5" fill="#029E73" stroke="none" stroke-width="0" />
<circle cx="201.92" cy="500.87" r="1.5" fill="#0173B2" stroke="none" stroke-width="0" />
<circle cx="172.71" cy="471.69" r="1.5" fill="#CC78BC" stroke="none" stroke-width="0" />
<circle cx="143.29" cy="476.09" r="1.5" fill="#CC78BC" stroke="none" stroke-width="0" />
<circle cx="144.34" cy="457.6" r="1.5" fill="#0173B2" stroke="none" stroke-width="0" />
<circle cx="153.29" cy="423.03" r="1.5" fill="#029E73" stroke="none" stroke-width="0" />
<circle cx="120.99" cy="466.14" r="1.5" fill="#CC78BC" stroke="none" stroke-width="0" />
<circle cx="153.54" cy="457.97" r="1.5" fill="#CC78BC" stroke="none" stroke-width="0" />
<circle cx="157.12" cy="439.31" r="1.5" fill="#CC78BC" stroke="none" stroke-width="0" />
<circle cx="153.03" cy="513.6" r="1.5" fill="#0173B2" stroke="none" stroke-width="0" />
<circle cx="116.29" cy="441.5" r="1.5" fill="#CC78BC" stroke="none" stroke-width="0" />
<circle cx="102.15" cy="474.94" r="1.5" fill="#CC78BC" stroke="none" stroke-width="0" />
<circle cx="149.23" cy="535.3" r="1.5" fill="#029E73" stroke="none" stroke-width="0" />
<circle cx="148.11" cy="522.04" r="1.5" fill="#0173B2" stroke="none" stroke-width="0" />
<circle cx="122.07" cy="537.9" r="1.5" fill="#0173B2" stroke="none" stroke-width="0" />
<circle cx="211.05" cy="480.56" r="1.5" fill="#CC78BC" stroke="none" stroke-width="0" />
<circle cx="189.76" cy="458.02" r="1.5" fill="#0173B2" stroke="none" stroke-width="0" />
</g>
<text x="270.7" y="441.2" font-size="7.9" text-anchor="start" fill="#333" font-weight="normal" dominant-baseline="central" >Condition</text>
<circle cx="274.8" cy="458.8" r="3.7" fill="#0173B2" stroke="none" stroke-width="0" />
<text x="285.6" y="458.8" font-size="7.4" text-anchor="start" fill="#333" font-weight="normal" dominant-baseline="central" >Young</text>
<circle cx="274.8" cy="475.5" r="3.7" fill="#029E73" stroke="none" stroke-width="0" />
<text x="285.6" y="475.5" font-size="7.4" text-anchor="start" fill="#333" font-weight="normal" dominant-baseline="central" >Aged</text>
<circle cx="274.8" cy="492.5" r="3.7" fill="#CC78BC" stroke="none" stroke-width="0" />
<text x="285.6" y="492.5" font-size="7.4" text-anchor="start" fill="#333" font-weight="normal" dominant-baseline="central" >Aged+Ri</text>
<path d="M113.4,657.4 C115.88,655.13 118.92,652.65 124.5,651.2 C130.08,649.75 139.03,648.92 146.9,648.7 C154.77,648.48 163.02,649.28 171.7,649.9 C180.38,650.52 192.8,650.75 199,652.4 C205.2,654.05 207.25,656.5 208.9,659.8 C210.55,663.1 209.72,667.23 208.9,672.2 C208.08,677.17 207.15,685.13 204,689.6 C200.85,694.07 195.33,695.93 190,699 C184.67,702.07 176.67,705.17 172,708 C167.33,710.83 166.33,713 162,716 C157.67,719 152.17,725 146,726 C139.83,727 131.67,722 125,722 C118.33,722 111.5,725.67 106,726 C100.5,726.33 93.83,726.77 92,724 C90.17,721.23 93.5,715.13 95,709.4 C96.5,703.67 98.57,697.03 101,689.6 C103.43,682.17 107.53,670.17 109.6,664.8 C111.67,659.43 110.92,659.67 113.4,657.4 Z" fill="#f7dccf" fill-opacity="0.8" stroke="none"/>
<path d="M153,710 C154.45,705.58 161.52,701.87 166.7,699.5 C171.88,697.13 177.88,696.42 184.1,695.8 C190.32,695.18 198.22,694.77 204,695.8 C209.78,696.83 215.5,698.9 218.8,702 C222.1,705.1 223.27,709.73 223.8,714.4 C224.33,719.07 222.83,724.95 222,730 C221.17,735.05 220.15,739.35 218.8,744.7 C217.45,750.05 216.37,758.17 213.9,762.1 C211.43,766.03 208.97,767.48 204,768.3 C199.03,769.12 188.65,768.45 184.1,767 C179.55,765.55 179.55,763.32 176.7,759.6 C173.85,755.88 170.12,750.3 167,744.7 C163.88,739.1 160.33,731.78 158,726 C155.67,720.22 151.55,714.42 153,710 Z" fill="#e0e4cf" fill-opacity="0.8" stroke="none"/>
<path d="M107.2,722.3 C110.3,716.68 117.88,716.88 124.5,716 C131.12,715.12 140.82,716.17 146.9,717 C152.98,717.83 157.28,716.38 161,721 C164.72,725.62 167,738.27 169.2,744.7 C171.4,751.13 174.2,755.88 174.2,759.6 C174.2,763.32 172.52,764.93 169.2,767 C165.88,769.07 158.02,768.68 154.3,772 C150.58,775.32 150.2,782.97 146.9,786.9 C143.6,790.83 139.47,794.35 134.5,795.6 C129.53,796.85 121.65,796.27 117.1,794.4 C112.55,792.53 109.27,788.55 107.2,784.4 C105.13,780.25 104.92,775.28 104.7,769.5 C104.48,763.72 105.48,757.57 105.9,749.7 C106.32,741.83 104.1,727.92 107.2,722.3 Z" fill="#fbd0d0" fill-opacity="0.8" stroke="none"/>
<path d="M82.3,724.8 C83.97,721.08 88.57,716.13 92.3,714.9 C96.03,713.67 101.4,715.33 104.7,717.4 C108,719.47 110.87,721.92 112.1,727.3 C113.33,732.68 112.92,744.52 112.1,749.7 C111.28,754.88 110.1,756.75 107.2,758.4 C104.3,760.05 98.02,761.05 94.7,759.6 C91.38,758.15 89.37,753.43 87.3,749.7 C85.23,745.97 83.13,741.35 82.3,737.2 C81.47,733.05 80.63,728.52 82.3,724.8 Z" fill="#d9d9fb" fill-opacity="0.8" stroke="none"/>
<circle cx="129.75" cy="768.74" r="2" fill="#2a9960" stroke="none" stroke-width="0" />
<circle cx="117.72" cy="740.72" r="2" fill="#2a9960" stroke="none" stroke-width="0" />
<circle cx="184.69" cy="741.7" r="2" fill="#d272b8" stroke="none" stroke-width="0" />
<circle cx="201.03" cy="761.68" r="2" fill="#d272b8" stroke="none" stroke-width="0" />
<circle cx="146.89" cy="670.76" r="2" fill="#2266aa" stroke="none" stroke-width="0" />
<circle cx="121.16" cy="767.87" r="2" fill="#2266aa" stroke="none" stroke-width="0" />
<circle cx="114.11" cy="746.27" r="2" fill="#2a9960" stroke="none" stroke-width="0" />
<circle cx="99.52" cy="746.69" r="2" fill="#2266aa" stroke="none" stroke-width="0" />
<circle cx="194.75" cy="747.45" r="2" fill="#2a9960" stroke="none" stroke-width="0" />
<circle cx="166.14" cy="737.97" r="2" fill="#2266aa" stroke="none" stroke-width="0" />
<circle cx="217.77" cy="744.06" r="2" fill="#d272b8" stroke="none" stroke-width="0" />
<circle cx="112.89" cy="728.66" r="2" fill="#2a9960" stroke="none" stroke-width="0" />
<circle cx="198.49" cy="746.02" r="2" fill="#2266aa" stroke="none" stroke-width="0" />
<circle cx="205.61" cy="734.09" r="2" fill="#2266aa" stroke="none" stroke-width="0" />
<circle cx="146.75" cy="748.75" r="2" fill="#d272b8" stroke="none" stroke-width="0" />
<circle cx="124.24" cy="688.32" r="2" fill="#2a9960" stroke="none" stroke-width="0" />
<circle cx="120.38" cy="718.81" r="2" fill="#2a9960" stroke="none" stroke-width="0" />
<circle cx="179" cy="743.56" r="2" fill="#2266aa" stroke="none" stroke-width="0" />
<circle cx="179.5" cy="676.57" r="2" fill="#2a9960" stroke="none" stroke-width="0" />
<circle cx="199.19" cy="703.68" r="2" fill="#d272b8" stroke="none" stroke-width="0" />
<circle cx="199.9" cy="767.15" r="2" fill="#2266aa" stroke="none" stroke-width="0" />
<circle cx="203" cy="659.75" r="2" fill="#2a9960" stroke="none" stroke-width="0" />
<circle cx="147.79" cy="674.67" r="2" fill="#d272b8" stroke="none" stroke-width="0" />
<circle cx="169.63" cy="684.95" r="2" fill="#2266aa" stroke="none" stroke-width="0" />
<circle cx="167.6" cy="656.09" r="2" fill="#2266aa" stroke="none" stroke-width="0" />
<circle cx="97.88" cy="701" r="2" fill="#2a9960" stroke="none" stroke-width="0" />
<circle cx="150.47" cy="737.63" r="2" fill="#2a9960" stroke="none" stroke-width="0" />
<circle cx="158.83" cy="685.53" r="2" fill="#2a9960" stroke="none" stroke-width="0" />
<circle cx="163.55" cy="723.02" r="2" fill="#2a9960" stroke="none" stroke-width="0" />
<circle cx="202.6" cy="675.86" r="2" fill="#d272b8" stroke="none" stroke-width="0" />
<circle cx="105.36" cy="689.07" r="2" fill="#d272b8" stroke="none" stroke-width="0" />
<circle cx="125.34" cy="757.87" r="2" fill="#2a9960" stroke="none" stroke-width="0" />
<circle cx="139.32" cy="709.47" r="2" fill="#d272b8" stroke="none" stroke-width="0" />
<circle cx="166.48" cy="730.44" r="2" fill="#d272b8" stroke="none" stroke-width="0" />
<circle cx="176.62" cy="723.2" r="2" fill="#2a9960" stroke="none" stroke-width="0" />
<circle cx="127.25" cy="732.81" r="2" fill="#2266aa" stroke="none" stroke-width="0" />
<circle cx="171.82" cy="715.12" r="2" fill="#d272b8" stroke="none" stroke-width="0" />
<circle cx="152.76" cy="695.93" r="2" fill="#2266aa" stroke="none" stroke-width="0" />
<circle cx="186.58" cy="663.21" r="2" fill="#d272b8" stroke="none" stroke-width="0" />
<circle cx="183.94" cy="690.56" r="2" fill="#d272b8" stroke="none" stroke-width="0" />
<circle cx="144.69" cy="763.95" r="2" fill="#2266aa" stroke="none" stroke-width="0" />
<circle cx="96.41" cy="737.77" r="2" fill="#2a9960" stroke="none" stroke-width="0" />
<circle cx="135.02" cy="702.5" r="2" fill="#2266aa" stroke="none" stroke-width="0" />
<circle cx="126.47" cy="662.51" r="2" fill="#d272b8" stroke="none" stroke-width="0" />
<circle cx="193.25" cy="680.23" r="2" fill="#2a9960" stroke="none" stroke-width="0" />
<circle cx="175.65" cy="726.76" r="2" fill="#d272b8" stroke="none" stroke-width="0" />
<circle cx="154.9" cy="756.33" r="2" fill="#2a9960" stroke="none" stroke-width="0" />
<circle cx="186.21" cy="666.81" r="2" fill="#2a9960" stroke="none" stroke-width="0" />
<circle cx="153.95" cy="721.6" r="2" fill="#d272b8" stroke="none" stroke-width="0" />
<circle cx="199.14" cy="684.55" r="2" fill="#2a9960" stroke="none" stroke-width="0" />
<circle cx="139.94" cy="685.87" r="2" fill="#d272b8" stroke="none" stroke-width="0" />
<circle cx="198" cy="693.26" r="2" fill="#d272b8" stroke="none" stroke-width="0" />
<circle cx="112.31" cy="686.65" r="2" fill="#2a9960" stroke="none" stroke-width="0" />
<circle cx="92.61" cy="717.74" r="2" fill="#2a9960" stroke="none" stroke-width="0" />
<circle cx="134.8" cy="754.05" r="2" fill="#2a9960" stroke="none" stroke-width="0" />
<circle cx="145.26" cy="680.22" r="2" fill="#d272b8" stroke="none" stroke-width="0" />
<circle cx="215.47" cy="729.95" r="2" fill="#2a9960" stroke="none" stroke-width="0" />
<circle cx="144.25" cy="704.46" r="2" fill="#2266aa" stroke="none" stroke-width="0" />
<circle cx="153.6" cy="712.18" r="2" fill="#d272b8" stroke="none" stroke-width="0" />
<circle cx="192.69" cy="753.85" r="2" fill="#2266aa" stroke="none" stroke-width="0" />
<circle cx="196.73" cy="750.32" r="2" fill="#2a9960" stroke="none" stroke-width="0" />
<circle cx="166.04" cy="768.02" r="2" fill="#2266aa" stroke="none" stroke-width="0" />
<circle cx="181.51" cy="708.22" r="2" fill="#d272b8" stroke="none" stroke-width="0" />
<circle cx="140.04" cy="723.26" r="2" fill="#d272b8" stroke="none" stroke-width="0" />
<circle cx="151.87" cy="679.83" r="2" fill="#2a9960" stroke="none" stroke-width="0" />
<circle cx="114.4" cy="677.67" r="2" fill="#d272b8" stroke="none" stroke-width="0" />
<circle cx="122.77" cy="761.18" r="2" fill="#2266aa" stroke="none" stroke-width="0" />
<circle cx="123.49" cy="748.21" r="2" fill="#2a9960" stroke="none" stroke-width="0" />
<circle cx="151.68" cy="671.22" r="2" fill="#d272b8" stroke="none" stroke-width="0" />
<circle cx="135.81" cy="786.78" r="2" fill="#2266aa" stroke="none" stroke-width="0" />
<circle cx="149.16" cy="762.72" r="2" fill="#2266aa" stroke="none" stroke-width="0" />
<circle cx="175.83" cy="740.38" r="2" fill="#d272b8" stroke="none" stroke-width="0" />
<circle cx="172.74" cy="673.95" r="2" fill="#2a9960" stroke="none" stroke-width="0" />
<circle cx="200.16" cy="756.67" r="2" fill="#2266aa" stroke="none" stroke-width="0" />
<circle cx="146.33" cy="760.04" r="2" fill="#2266aa" stroke="none" stroke-width="0" />
<circle cx="165.5" cy="664.83" r="2" fill="#d272b8" stroke="none" stroke-width="0" />
<circle cx="115.16" cy="690.37" r="2" fill="#2a9960" stroke="none" stroke-width="0" />
<circle cx="129.65" cy="687.27" r="2" fill="#d272b8" stroke="none" stroke-width="0" />
<circle cx="117.97" cy="724.36" r="2" fill="#2a9960" stroke="none" stroke-width="0" />
<circle cx="191.14" cy="727.02" r="2" fill="#2a9960" stroke="none" stroke-width="0" />
<circle cx="147.9" cy="779.89" r="2" fill="#2266aa" stroke="none" stroke-width="0" />
<circle cx="172.85" cy="660.17" r="2" fill="#2266aa" stroke="none" stroke-width="0" />
<circle cx="185.72" cy="751.48" r="2" fill="#2266aa" stroke="none" stroke-width="0" />
<circle cx="127.77" cy="755.75" r="2" fill="#2266aa" stroke="none" stroke-width="0" />
<circle cx="155.27" cy="725.22" r="2" fill="#d272b8" stroke="none" stroke-width="0" />
<circle cx="185.11" cy="710.41" r="2" fill="#2266aa" stroke="none" stroke-width="0" />
<circle cx="139.2" cy="785.78" r="2" fill="#2266aa" stroke="none" stroke-width="0" />
<circle cx="101.61" cy="754.33" r="2" fill="#2266aa" stroke="none" stroke-width="0" />
<circle cx="108.43" cy="738.26" r="2" fill="#2a9960" stroke="none" stroke-width="0" />
<circle cx="213.15" cy="701.31" r="2" fill="#2266aa" stroke="none" stroke-width="0" />
<circle cx="119.76" cy="711.99" r="2" fill="#2a9960" stroke="none" stroke-width="0" />
<circle cx="159.19" cy="704.9" r="2" fill="#2266aa" stroke="none" stroke-width="0" />
<circle cx="146.78" cy="658.39" r="2" fill="#d272b8" stroke="none" stroke-width="0" />
<circle cx="87.17" cy="748.22" r="2" fill="#2a9960" stroke="none" stroke-width="0" />
<circle cx="107.82" cy="784.99" r="2" fill="#2266aa" stroke="none" stroke-width="0" />
<circle cx="188.44" cy="734.26" r="2" fill="#2266aa" stroke="none" stroke-width="0" />
<circle cx="195.7" cy="673.98" r="2" fill="#2266aa" stroke="none" stroke-width="0" />
<circle cx="95.54" cy="751.96" r="2" fill="#2266aa" stroke="none" stroke-width="0" />
<circle cx="124.07" cy="706.07" r="2" fill="#2a9960" stroke="none" stroke-width="0" />
<circle cx="163.86" cy="752.87" r="2" fill="#2266aa" stroke="none" stroke-width="0" />
<circle cx="208.22" cy="708.57" r="2" fill="#d272b8" stroke="none" stroke-width="0" />
<circle cx="85.69" cy="735.74" r="2" fill="#2a9960" stroke="none" stroke-width="0" />
<circle cx="170.5" cy="699.47" r="2" fill="#d272b8" stroke="none" stroke-width="0" />
<circle cx="114.21" cy="661.56" r="2" fill="#2266aa" stroke="none" stroke-width="0" />
<circle cx="112.35" cy="776.47" r="2" fill="#2266aa" stroke="none" stroke-width="0" />
<circle cx="191.42" cy="665.92" r="2" fill="#2a9960" stroke="none" stroke-width="0" />
<circle cx="114.98" cy="707.18" r="2" fill="#2a9960" stroke="none" stroke-width="0" />
<circle cx="101.91" cy="741.25" r="2" fill="#2a9960" stroke="none" stroke-width="0" />
<circle cx="198.34" cy="666.79" r="2" fill="#2a9960" stroke="none" stroke-width="0" />
<circle cx="138.28" cy="716.44" r="2" fill="#d272b8" stroke="none" stroke-width="0" />
<circle cx="139.24" cy="670.46" r="2" fill="#2266aa" stroke="none" stroke-width="0" />
<circle cx="191.65" cy="738.43" r="2" fill="#2266aa" stroke="none" stroke-width="0" />
<circle cx="100.69" cy="713.08" r="2" fill="#2a9960" stroke="none" stroke-width="0" />
<circle cx="124.74" cy="772.58" r="2" fill="#2266aa" stroke="none" stroke-width="0" />
<circle cx="162.22" cy="729.65" r="2" fill="#d272b8" stroke="none" stroke-width="0" />
<circle cx="110.02" cy="747.02" r="2" fill="#2a9960" stroke="none" stroke-width="0" />
<circle cx="211.04" cy="718.84" r="2" fill="#d272b8" stroke="none" stroke-width="0" />
<circle cx="149.42" cy="666.02" r="2" fill="#d272b8" stroke="none" stroke-width="0" />
<circle cx="120.85" cy="682.83" r="2" fill="#2a9960" stroke="none" stroke-width="0" />
<circle cx="197.25" cy="689.67" r="2" fill="#d272b8" stroke="none" stroke-width="0" />
<circle cx="134.74" cy="718.73" r="2" fill="#d272b8" stroke="none" stroke-width="0" />
<circle cx="205.63" cy="719.6" r="2" fill="#2a9960" stroke="none" stroke-width="0" />
<circle cx="92.98" cy="726.19" r="2" fill="#2266aa" stroke="none" stroke-width="0" />
<circle cx="140.8" cy="744.73" r="2" fill="#2a9960" stroke="none" stroke-width="0" />
<circle cx="193.93" cy="731.12" r="2" fill="#2a9960" stroke="none" stroke-width="0" />
<circle cx="210.45" cy="747.58" r="2" fill="#2a9960" stroke="none" stroke-width="0" />
<circle cx="204.06" cy="749.58" r="2" fill="#2266aa" stroke="none" stroke-width="0" />
<circle cx="196.49" cy="656.5" r="2" fill="#2a9960" stroke="none" stroke-width="0" />
<circle cx="134.94" cy="708.47" r="2" fill="#2a9960" stroke="none" stroke-width="0" />
<circle cx="184.47" cy="698.09" r="2" fill="#d272b8" stroke="none" stroke-width="0" />
<circle cx="104.01" cy="704.32" r="2" fill="#2a9960" stroke="none" stroke-width="0" />
<circle cx="122.91" cy="764.28" r="2" fill="#2266aa" stroke="none" stroke-width="0" />
<circle cx="177.8" cy="686.41" r="2" fill="#2266aa" stroke="none" stroke-width="0" />
<circle cx="131.72" cy="782.68" r="2" fill="#d272b8" stroke="none" stroke-width="0" />
<circle cx="203.33" cy="765.36" r="2" fill="#2266aa" stroke="none" stroke-width="0" />
<circle cx="148.01" cy="678.59" r="2" fill="#d272b8" stroke="none" stroke-width="0" />
<circle cx="182.03" cy="693.98" r="2" fill="#2266aa" stroke="none" stroke-width="0" />
<circle cx="131.59" cy="722.87" r="2" fill="#2a9960" stroke="none" stroke-width="0" />
<circle cx="139.03" cy="733.85" r="2" fill="#2a9960" stroke="none" stroke-width="0" />
<circle cx="94.05" cy="746.5" r="2" fill="#2266aa" stroke="none" stroke-width="0" />
<circle cx="201.61" cy="687.96" r="2" fill="#2a9960" stroke="none" stroke-width="0" />
<circle cx="184.08" cy="651.23" r="2" fill="#2266aa" stroke="none" stroke-width="0" />
<circle cx="204.27" cy="740.94" r="2" fill="#d272b8" stroke="none" stroke-width="0" />
<circle cx="125.69" cy="721.17" r="2" fill="#2a9960" stroke="none" stroke-width="0" />
<circle cx="120.19" cy="754.42" r="2" fill="#d272b8" stroke="none" stroke-width="0" />
<circle cx="160.14" cy="674.19" r="2" fill="#2266aa" stroke="none" stroke-width="0" />
<circle cx="128.57" cy="706.54" r="2" fill="#2a9960" stroke="none" stroke-width="0" />
<circle cx="217.86" cy="726.79" r="2" fill="#2a9960" stroke="none" stroke-width="0" />
<circle cx="168.99" cy="689.67" r="2" fill="#2266aa" stroke="none" stroke-width="0" />
<circle cx="194.29" cy="663.33" r="2" fill="#2a9960" stroke="none" stroke-width="0" />
<circle cx="171.87" cy="724.15" r="2" fill="#2266aa" stroke="none" stroke-width="0" />
<circle cx="114.61" cy="736.61" r="2" fill="#d272b8" stroke="none" stroke-width="0" />
<circle cx="133.59" cy="777.52" r="2" fill="#2266aa" stroke="none" stroke-width="0" />
<circle cx="179.71" cy="683.42" r="2" fill="#d272b8" stroke="none" stroke-width="0" />
<circle cx="113.41" cy="788.84" r="2" fill="#2a9960" stroke="none" stroke-width="0" />
<circle cx="186.7" cy="658.88" r="2" fill="#2266aa" stroke="none" stroke-width="0" />
<circle cx="175.96" cy="661.37" r="2" fill="#2266aa" stroke="none" stroke-width="0" />
<circle cx="181.72" cy="713.42" r="2" fill="#d272b8" stroke="none" stroke-width="0" />
<circle cx="144.98" cy="722.69" r="2" fill="#2266aa" stroke="none" stroke-width="0" />
<circle cx="111.76" cy="694.87" r="2" fill="#2a9960" stroke="none" stroke-width="0" />
<circle cx="204.49" cy="711.36" r="2" fill="#2266aa" stroke="none" stroke-width="0" />
<circle cx="105.14" cy="727.91" r="2" fill="#2a9960" stroke="none" stroke-width="0" />
<circle cx="128.53" cy="675.26" r="2" fill="#d272b8" stroke="none" stroke-width="0" />
<circle cx="174.47" cy="711.03" r="2" fill="#2266aa" stroke="none" stroke-width="0" />
<circle cx="145.43" cy="663.4" r="2" fill="#2a9960" stroke="none" stroke-width="0" />
<circle cx="196.94" cy="670.47" r="2" fill="#2a9960" stroke="none" stroke-width="0" />
<circle cx="188.76" cy="759.72" r="2" fill="#2266aa" stroke="none" stroke-width="0" />
<circle cx="182.55" cy="665.69" r="2" fill="#d272b8" stroke="none" stroke-width="0" />
<circle cx="126.08" cy="695.12" r="2" fill="#d272b8" stroke="none" stroke-width="0" />
<circle cx="172.88" cy="652.97" r="2" fill="#2266aa" stroke="none" stroke-width="0" />
<circle cx="191.63" cy="757.64" r="2" fill="#d272b8" stroke="none" stroke-width="0" />
<circle cx="150.05" cy="685.9" r="2" fill="#d272b8" stroke="none" stroke-width="0" />
<circle cx="168.56" cy="676.06" r="2" fill="#d272b8" stroke="none" stroke-width="0" />
<circle cx="89.37" cy="724.85" r="2" fill="#2266aa" stroke="none" stroke-width="0" />
<circle cx="164.1" cy="677.93" r="2" fill="#d272b8" stroke="none" stroke-width="0" />
<circle cx="121.56" cy="785.74" r="2" fill="#2266aa" stroke="none" stroke-width="0" />
<circle cx="128.34" cy="760.79" r="2" fill="#2a9960" stroke="none" stroke-width="0" />
<circle cx="153.99" cy="765.67" r="2" fill="#2266aa" stroke="none" stroke-width="0" />
<circle cx="176.68" cy="666.01" r="2" fill="#d272b8" stroke="none" stroke-width="0" />
<circle cx="122.21" cy="692.52" r="2" fill="#2a9960" stroke="none" stroke-width="0" />
<circle cx="173.4" cy="758.75" r="2" fill="#2a9960" stroke="none" stroke-width="0" />
<circle cx="208.5" cy="736.92" r="2" fill="#2a9960" stroke="none" stroke-width="0" />
<circle cx="109.23" cy="709.06" r="2" fill="#2a9960" stroke="none" stroke-width="0" />
<circle cx="193.66" cy="653" r="2" fill="#d272b8" stroke="none" stroke-width="0" />
<circle cx="205.16" cy="754.96" r="2" fill="#2266aa" stroke="none" stroke-width="0" />
<circle cx="142.52" cy="725.61" r="2" fill="#d272b8" stroke="none" stroke-width="0" />
<circle cx="193.46" cy="706.04" r="2" fill="#d272b8" stroke="none" stroke-width="0" />
<circle cx="118.43" cy="657.95" r="2" fill="#d272b8" stroke="none" stroke-width="0" />
<circle cx="117.15" cy="685.19" r="2" fill="#2a9960" stroke="none" stroke-width="0" />
<circle cx="188.67" cy="703.83" r="2" fill="#d272b8" stroke="none" stroke-width="0" />
<circle cx="160.81" cy="768.67" r="2" fill="#2266aa" stroke="none" stroke-width="0" />
<circle cx="170.56" cy="665.31" r="2" fill="#d272b8" stroke="none" stroke-width="0" />
<circle cx="140.08" cy="762.13" r="2" fill="#2266aa" stroke="none" stroke-width="0" />
<circle cx="111.8" cy="723.2" r="2" fill="#2a9960" stroke="none" stroke-width="0" />
<circle cx="115.97" cy="755.24" r="2" fill="#2a9960" stroke="none" stroke-width="0" />
<circle cx="170.44" cy="741.88" r="2" fill="#2266aa" stroke="none" stroke-width="0" />
<circle cx="148.29" cy="729.24" r="2" fill="#2a9960" stroke="none" stroke-width="0" />
<circle cx="155.78" cy="750.46" r="2" fill="#2a9960" stroke="none" stroke-width="0" />
<circle cx="156.09" cy="737.4" r="2" fill="#2266aa" stroke="none" stroke-width="0" />
<circle cx="108.58" cy="772.73" r="2" fill="#2a9960" stroke="none" stroke-width="0" />
<circle cx="176.45" cy="713.67" r="2" fill="#2266aa" stroke="none" stroke-width="0" />
<circle cx="127.66" cy="774.78" r="2" fill="#2266aa" stroke="none" stroke-width="0" />
<circle cx="122.77" cy="711.47" r="2" fill="#d272b8" stroke="none" stroke-width="0" />
<circle cx="154.34" cy="742.04" r="2" fill="#2266aa" stroke="none" stroke-width="0" />
<circle cx="119.43" cy="702.59" r="2" fill="#2266aa" stroke="none" stroke-width="0" />
<circle cx="108.37" cy="717.61" r="2" fill="#d272b8" stroke="none" stroke-width="0" />
<circle cx="179.82" cy="700.02" r="2" fill="#2266aa" stroke="none" stroke-width="0" />
<circle cx="213.86" cy="743.5" r="2" fill="#2266aa" stroke="none" stroke-width="0" />
<circle cx="208.53" cy="723.49" r="2" fill="#d272b8" stroke="none" stroke-width="0" />
<circle cx="140.69" cy="682.32" r="2" fill="#d272b8" stroke="none" stroke-width="0" />
<circle cx="179.03" cy="704.38" r="2" fill="#d272b8" stroke="none" stroke-width="0" />
<circle cx="125.34" cy="788.63" r="2" fill="#2266aa" stroke="none" stroke-width="0" />
<circle cx="124.26" cy="730.18" r="2" fill="#2a9960" stroke="none" stroke-width="0" />
<circle cx="158.38" cy="662.83" r="2" fill="#d272b8" stroke="none" stroke-width="0" />
<circle cx="190.92" cy="748.64" r="2" fill="#2a9960" stroke="none" stroke-width="0" />
<circle cx="164.54" cy="691.55" r="2" fill="#2a9960" stroke="none" stroke-width="0" />
<circle cx="121.31" cy="724.46" r="2" fill="#2a9960" stroke="none" stroke-width="0" />
<circle cx="147.66" cy="784.39" r="2" fill="#2266aa" stroke="none" stroke-width="0" />
<circle cx="135.88" cy="675.13" r="2" fill="#d272b8" stroke="none" stroke-width="0" />
<circle cx="178.76" cy="668.92" r="2" fill="#2266aa" stroke="none" stroke-width="0" />
<circle cx="109.89" cy="757.08" r="2" fill="#2a9960" stroke="none" stroke-width="0" />
<circle cx="145.59" cy="773.79" r="2" fill="#2a9960" stroke="none" stroke-width="0" />
<circle cx="92.83" cy="741.68" r="2" fill="#2266aa" stroke="none" stroke-width="0" />
<circle cx="111.34" cy="731.68" r="2" fill="#d272b8" stroke="none" stroke-width="0" />
<circle cx="96.79" cy="744.15" r="2" fill="#2a9960" stroke="none" stroke-width="0" />
<circle cx="176.84" cy="737.25" r="2" fill="#d272b8" stroke="none" stroke-width="0" />
<circle cx="143.19" cy="667.25" r="2" fill="#2a9960" stroke="none" stroke-width="0" />
<circle cx="134.34" cy="650.61" r="2" fill="#2a9960" stroke="none" stroke-width="0" />
<circle cx="214.06" cy="738.96" r="2" fill="#2a9960" stroke="none" stroke-width="0" />
<circle cx="111.7" cy="772.57" r="2" fill="#2266aa" stroke="none" stroke-width="0" />
<circle cx="144.08" cy="755.39" r="2" fill="#2266aa" stroke="none" stroke-width="0" />
<circle cx="104.41" cy="746.57" r="2" fill="#2266aa" stroke="none" stroke-width="0" />
<circle cx="100.61" cy="699.75" r="2" fill="#d272b8" stroke="none" stroke-width="0" />
<circle cx="139.38" cy="780.84" r="2" fill="#2266aa" stroke="none" stroke-width="0" />
<circle cx="202.45" cy="684.75" r="2" fill="#2a9960" stroke="none" stroke-width="0" />
<circle cx="131.85" cy="742.28" r="2" fill="#d272b8" stroke="none" stroke-width="0" />
<circle cx="127.41" cy="763.66" r="2" fill="#2a9960" stroke="none" stroke-width="0" />
<circle cx="220.95" cy="733.46" r="2" fill="#d272b8" stroke="none" stroke-width="0" />
<circle cx="139.72" cy="755.51" r="2" fill="#2266aa" stroke="none" stroke-width="0" />
<circle cx="187.26" cy="755.74" r="2" fill="#2a9960" stroke="none" stroke-width="0" />
<circle cx="152.61" cy="676.03" r="2" fill="#d272b8" stroke="none" stroke-width="0" />
<circle cx="132.85" cy="770.34" r="2" fill="#2266aa" stroke="none" stroke-width="0" />
<circle cx="97.17" cy="724.44" r="2" fill="#2a9960" stroke="none" stroke-width="0" />
<circle cx="174.13" cy="679.63" r="2" fill="#2266aa" stroke="none" stroke-width="0" />
<circle cx="180.25" cy="730.99" r="2" fill="#2a9960" stroke="none" stroke-width="0" />
<circle cx="153.58" cy="660.67" r="2" fill="#2a9960" stroke="none" stroke-width="0" />
<circle cx="204.32" cy="760.84" r="2" fill="#2a9960" stroke="none" stroke-width="0" />
<circle cx="194.08" cy="718.94" r="2" fill="#d272b8" stroke="none" stroke-width="0" />
<circle cx="155.17" cy="716.86" r="2" fill="#d272b8" stroke="none" stroke-width="0" />
<circle cx="148.14" cy="708.79" r="2" fill="#2266aa" stroke="none" stroke-width="0" />
<circle cx="177.19" cy="694.86" r="2" fill="#d272b8" stroke="none" stroke-width="0" />
<circle cx="194.84" cy="714.77" r="2" fill="#2266aa" stroke="none" stroke-width="0" />
<circle cx="194.9" cy="683.31" r="2" fill="#2a9960" stroke="none" stroke-width="0" />
<circle cx="131.84" cy="708.35" r="2" fill="#2a9960" stroke="none" stroke-width="0" />
<circle cx="108.09" cy="751.19" r="2" fill="#2a9960" stroke="none" stroke-width="0" />
<circle cx="106.93" cy="761.44" r="2" fill="#2266aa" stroke="none" stroke-width="0" />
<circle cx="188.78" cy="674.76" r="2" fill="#2a9960" stroke="none" stroke-width="0" />
<circle cx="141.18" cy="700.05" r="2" fill="#2266aa" stroke="none" stroke-width="0" />
<circle cx="197.45" cy="731.44" r="2" fill="#2a9960" stroke="none" stroke-width="0" />
<circle cx="161.64" cy="700.72" r="2" fill="#2266aa" stroke="none" stroke-width="0" />
<circle cx="145.29" cy="729.35" r="2" fill="#2266aa" stroke="none" stroke-width="0" />
<circle cx="172.14" cy="729.71" r="2" fill="#2a9960" stroke="none" stroke-width="0" />
<circle cx="125.8" cy="777.15" r="2" fill="#2266aa" stroke="none" stroke-width="0" />
<circle cx="134.99" cy="742.85" r="2" fill="#2a9960" stroke="none" stroke-width="0" />
<circle cx="189.99" cy="717.41" r="2" fill="#d272b8" stroke="none" stroke-width="0" />
<circle cx="184.15" cy="760.32" r="2" fill="#d272b8" stroke="none" stroke-width="0" />
<circle cx="175.15" cy="669" r="2" fill="#d272b8" stroke="none" stroke-width="0" />
<circle cx="178.23" cy="753.99" r="2" fill="#2266aa" stroke="none" stroke-width="0" />
<circle cx="112.12" cy="704.64" r="2" fill="#2a9960" stroke="none" stroke-width="0" />
<circle cx="163.75" cy="743.09" r="2" fill="#2266aa" stroke="none" stroke-width="0" />
<circle cx="177.06" cy="681.26" r="2" fill="#2266aa" stroke="none" stroke-width="0" />
<circle cx="214.58" cy="753.36" r="2" fill="#2266aa" stroke="none" stroke-width="0" />
<circle cx="178.08" cy="691.66" r="2" fill="#d272b8" stroke="none" stroke-width="0" />
<circle cx="136.59" cy="792.31" r="2" fill="#2266aa" stroke="none" stroke-width="0" />
<circle cx="148.52" cy="776.7" r="2" fill="#2266aa" stroke="none" stroke-width="0" />
<circle cx="119.07" cy="788.76" r="2" fill="#2266aa" stroke="none" stroke-width="0" />
<circle cx="201.19" cy="669.48" r="2" fill="#2a9960" stroke="none" stroke-width="0" />
<circle cx="214.24" cy="704.89" r="2" fill="#2a9960" stroke="none" stroke-width="0" />
<circle cx="139.86" cy="729.11" r="2" fill="#2266aa" stroke="none" stroke-width="0" />
<circle cx="178.09" cy="757.44" r="2" fill="#2a9960" stroke="none" stroke-width="0" />
<circle cx="128.66" cy="656.71" r="2" fill="#2a9960" stroke="none" stroke-width="0" />
<circle cx="215.33" cy="712.15" r="2" fill="#2a9960" stroke="none" stroke-width="0" />
<circle cx="107.92" cy="733.31" r="2" fill="#2a9960" stroke="none" stroke-width="0" />
<circle cx="148.8" cy="714.13" r="2" fill="#2266aa" stroke="none" stroke-width="0" />
<circle cx="141.36" cy="771.86" r="2" fill="#2266aa" stroke="none" stroke-width="0" />
<circle cx="132.97" cy="766.19" r="2" fill="#2a9960" stroke="none" stroke-width="0" />
<circle cx="189.49" cy="743.24" r="2" fill="#2266aa" stroke="none" stroke-width="0" />
<circle cx="104.1" cy="718.1" r="2" fill="#2a9960" stroke="none" stroke-width="0" />
<circle cx="192.69" cy="685.73" r="2" fill="#d272b8" stroke="none" stroke-width="0" />
<circle cx="186.41" cy="731.72" r="2" fill="#d272b8" stroke="none" stroke-width="0" />
<circle cx="108.98" cy="701.2" r="2" fill="#2a9960" stroke="none" stroke-width="0" />
<circle cx="164.09" cy="685.48" r="2" fill="#d272b8" stroke="none" stroke-width="0" />
<circle cx="199.89" cy="660.55" r="2" fill="#d272b8" stroke="none" stroke-width="0" />
<circle cx="167.11" cy="696.07" r="2" fill="#d272b8" stroke="none" stroke-width="0" />
<circle cx="123.27" cy="742.68" r="2" fill="#2a9960" stroke="none" stroke-width="0" />
<circle cx="209.07" cy="743.52" r="2" fill="#2266aa" stroke="none" stroke-width="0" />
<circle cx="137.12" cy="689.5" r="2" fill="#2a9960" stroke="none" stroke-width="0" />
<circle cx="159.56" cy="757.52" r="2" fill="#2266aa" stroke="none" stroke-width="0" />
<circle cx="113.17" cy="664.99" r="2" fill="#2a9960" stroke="none" stroke-width="0" />
<circle cx="186.19" cy="764.02" r="2" fill="#d272b8" stroke="none" stroke-width="0" />
<circle cx="119.44" cy="765.35" r="2" fill="#2266aa" stroke="none" stroke-width="0" />
<circle cx="132.74" cy="736.92" r="2" fill="#2a9960" stroke="none" stroke-width="0" />
<circle cx="197.94" cy="727.16" r="2" fill="#2266aa" stroke="none" stroke-width="0" />
<circle cx="201.24" cy="691.19" r="2" fill="#d272b8" stroke="none" stroke-width="0" />
<circle cx="185.28" cy="669.88" r="2" fill="#d272b8" stroke="none" stroke-width="0" />
<circle cx="107.32" cy="712.09" r="2" fill="#d272b8" stroke="none" stroke-width="0" />
<circle cx="198.11" cy="663.34" r="2" fill="#d272b8" stroke="none" stroke-width="0" />
<circle cx="185.36" cy="703.98" r="2" fill="#d272b8" stroke="none" stroke-width="0" />
<circle cx="118.49" cy="666.43" r="2" fill="#2a9960" stroke="none" stroke-width="0" />
<circle cx="176.4" cy="654.62" r="2" fill="#2266aa" stroke="none" stroke-width="0" />
<circle cx="199.26" cy="676.52" r="2" fill="#2a9960" stroke="none" stroke-width="0" />
<circle cx="156.51" cy="759.32" r="2" fill="#2266aa" stroke="none" stroke-width="0" />
<circle cx="185.31" cy="713.61" r="2" fill="#2266aa" stroke="none" stroke-width="0" />
<circle cx="204.61" cy="707.29" r="2" fill="#2a9960" stroke="none" stroke-width="0" />
<circle cx="188.73" cy="751.51" r="2" fill="#2a9960" stroke="none" stroke-width="0" />
<circle cx="116.65" cy="768.52" r="2" fill="#2266aa" stroke="none" stroke-width="0" />
<circle cx="115.35" cy="668.57" r="2" fill="#d272b8" stroke="none" stroke-width="0" />
<circle cx="119.73" cy="745.94" r="2" fill="#2a9960" stroke="none" stroke-width="0" />
<circle cx="135.38" cy="684.42" r="2" fill="#2266aa" stroke="none" stroke-width="0" />
<circle cx="159.01" cy="723.18" r="2" fill="#d272b8" stroke="none" stroke-width="0" />
<circle cx="159.12" cy="741.69" r="2" fill="#2266aa" stroke="none" stroke-width="0" />
<circle cx="124.04" cy="671.48" r="2" fill="#d272b8" stroke="none" stroke-width="0" />
<circle cx="98.85" cy="751.35" r="2" fill="#2266aa" stroke="none" stroke-width="0" />
<circle cx="157.88" cy="659.74" r="2" fill="#d272b8" stroke="none" stroke-width="0" />
<circle cx="202.89" cy="700.47" r="2" fill="#2a9960" stroke="none" stroke-width="0" />
<circle cx="95.19" cy="758.43" r="2" fill="#2a9960" stroke="none" stroke-width="0" />
<circle cx="132.56" cy="751.37" r="2" fill="#2266aa" stroke="none" stroke-width="0" />
<circle cx="192.29" cy="656.28" r="2" fill="#2a9960" stroke="none" stroke-width="0" />
<circle cx="109.26" cy="724.96" r="2" fill="#2a9960" stroke="none" stroke-width="0" />
<circle cx="156.15" cy="678.54" r="2" fill="#2a9960" stroke="none" stroke-width="0" />
<circle cx="198.52" cy="739.4" r="2" fill="#2266aa" stroke="none" stroke-width="0" />
<circle cx="121.84" cy="738" r="2" fill="#d272b8" stroke="none" stroke-width="0" />
<circle cx="139.26" cy="702.96" r="2" fill="#d272b8" stroke="none" stroke-width="0" />
<circle cx="135.68" cy="714.08" r="2" fill="#2266aa" stroke="none" stroke-width="0" />
<circle cx="175.06" cy="689.91" r="2" fill="#d272b8" stroke="none" stroke-width="0" />
<circle cx="208.03" cy="662.27" r="2" fill="#2266aa" stroke="none" stroke-width="0" />
<circle cx="209.8" cy="703.33" r="2" fill="#2266aa" stroke="none" stroke-width="0" />
<circle cx="166.61" cy="679.77" r="2" fill="#2a9960" stroke="none" stroke-width="0" />
<circle cx="118" cy="734.71" r="2" fill="#d272b8" stroke="none" stroke-width="0" />
<circle cx="163.94" cy="713.83" r="2" fill="#d272b8" stroke="none" stroke-width="0" />
<circle cx="103.01" cy="737.88" r="2" fill="#2a9960" stroke="none" stroke-width="0" />
<circle cx="180.09" cy="657.14" r="2" fill="#d272b8" stroke="none" stroke-width="0" />
<circle cx="99.99" cy="694.86" r="2" fill="#d272b8" stroke="none" stroke-width="0" />
<circle cx="216.54" cy="723.14" r="2" fill="#d272b8" stroke="none" stroke-width="0" />
<circle cx="156.17" cy="702.09" r="2" fill="#d272b8" stroke="none" stroke-width="0" />
<circle cx="125.21" cy="753.17" r="2" fill="#2a9960" stroke="none" stroke-width="0" />
<circle cx="194.15" cy="697.34" r="2" fill="#2266aa" stroke="none" stroke-width="0" />
<circle cx="141.41" cy="673.89" r="2" fill="#2266aa" stroke="none" stroke-width="0" />
<circle cx="118.21" cy="730.5" r="2" fill="#2a9960" stroke="none" stroke-width="0" />
<circle cx="82.68" cy="728.09" r="2" fill="#2a9960" stroke="none" stroke-width="0" />
<circle cx="173.09" cy="750.54" r="2" fill="#2266aa" stroke="none" stroke-width="0" />
<circle cx="130.52" cy="790.11" r="2" fill="#2266aa" stroke="none" stroke-width="0" />
<circle cx="183.1" cy="717.57" r="2" fill="#d272b8" stroke="none" stroke-width="0" />
<circle cx="194.28" cy="742.44" r="2" fill="#d272b8" stroke="none" stroke-width="0" />
<circle cx="107.86" cy="686.47" r="2" fill="#2266aa" stroke="none" stroke-width="0" />
<circle cx="150.89" cy="701.13" r="2" fill="#2a9960" stroke="none" stroke-width="0" />
<circle cx="134.51" cy="728.98" r="2" fill="#2a9960" stroke="none" stroke-width="0" />
<circle cx="205.75" cy="677.94" r="2" fill="#2266aa" stroke="none" stroke-width="0" />
<circle cx="115.77" cy="792.03" r="2" fill="#2266aa" stroke="none" stroke-width="0" />
<circle cx="171.88" cy="694.35" r="2" fill="#2266aa" stroke="none" stroke-width="0" />
<circle cx="179.73" cy="651.02" r="2" fill="#2266aa" stroke="none" stroke-width="0" />
<circle cx="176.79" cy="729.99" r="2" fill="#d272b8" stroke="none" stroke-width="0" />
<circle cx="135.96" cy="679.47" r="2" fill="#d272b8" stroke="none" stroke-width="0" />
<circle cx="106.9" cy="692.2" r="2" fill="#2266aa" stroke="none" stroke-width="0" />
<circle cx="181.64" cy="745.01" r="2" fill="#d272b8" stroke="none" stroke-width="0" />
<circle cx="201.39" cy="728.69" r="2" fill="#d272b8" stroke="none" stroke-width="0" />
<circle cx="199.8" cy="711.81" r="2" fill="#d272b8" stroke="none" stroke-width="0" />
<circle cx="177.05" cy="749.01" r="2" fill="#2266aa" stroke="none" stroke-width="0" />
<circle cx="203.35" cy="737.13" r="2" fill="#2a9960" stroke="none" stroke-width="0" />
<circle cx="102.65" cy="724.2" r="2" fill="#2a9960" stroke="none" stroke-width="0" />
<circle cx="149.57" cy="725.75" r="2" fill="#2266aa" stroke="none" stroke-width="0" />
<circle cx="115.53" cy="713.51" r="2" fill="#2a9960" stroke="none" stroke-width="0" />
<circle cx="128.77" cy="737.6" r="2" fill="#d272b8" stroke="none" stroke-width="0" />
<circle cx="198.65" cy="717.37" r="2" fill="#d272b8" stroke="none" stroke-width="0" />
<circle cx="211.39" cy="729.66" r="2" fill="#d272b8" stroke="none" stroke-width="0" />
<circle cx="120.48" cy="678.45" r="2" fill="#2266aa" stroke="none" stroke-width="0" />
<circle cx="152.78" cy="683.52" r="2" fill="#2266aa" stroke="none" stroke-width="0" />
<circle cx="111.44" cy="670.35" r="2" fill="#d272b8" stroke="none" stroke-width="0" />
<circle cx="201.92" cy="696.93" r="2" fill="#d272b8" stroke="none" stroke-width="0" />
<circle cx="162.28" cy="762.5" r="2" fill="#2266aa" stroke="none" stroke-width="0" />
<circle cx="119.58" cy="672.29" r="2" fill="#2a9960" stroke="none" stroke-width="0" />
<circle cx="160.31" cy="657.53" r="2" fill="#2266aa" stroke="none" stroke-width="0" />
<circle cx="166.13" cy="669.44" r="2" fill="#d272b8" stroke="none" stroke-width="0" />
<circle cx="165.68" cy="688.69" r="2" fill="#2a9960" stroke="none" stroke-width="0" />
<circle cx="165.17" cy="710.19" r="2" fill="#2266aa" stroke="none" stroke-width="0" />
<circle cx="181.24" cy="741.22" r="2" fill="#2266aa" stroke="none" stroke-width="0" />
<circle cx="184.42" cy="685.02" r="2" fill="#d272b8" stroke="none" stroke-width="0" />
<circle cx="133.17" cy="659.34" r="2" fill="#d272b8" stroke="none" stroke-width="0" />
<circle cx="146.43" cy="654.63" r="2" fill="#d272b8" stroke="none" stroke-width="0" />
<circle cx="190.3" cy="722.56" r="2" fill="#2266aa" stroke="none" stroke-width="0" />
<circle cx="115.82" cy="761.59" r="2" fill="#2266aa" stroke="none" stroke-width="0" />
<circle cx="191.77" cy="710.9" r="2" fill="#d272b8" stroke="none" stroke-width="0" />
<circle cx="131.47" cy="714" r="2" fill="#2a9960" stroke="none" stroke-width="0" />
<circle cx="163.18" cy="668.11" r="2" fill="#2266aa" stroke="none" stroke-width="0" />
<circle cx="187.51" cy="745.93" r="2" fill="#2266aa" stroke="none" stroke-width="0" />
<circle cx="166.82" cy="746.21" r="2" fill="#2266aa" stroke="none" stroke-width="0" />
<circle cx="220.17" cy="720.94" r="2" fill="#2266aa" stroke="none" stroke-width="0" />
<circle cx="112.48" cy="711.01" r="2" fill="#2a9960" stroke="none" stroke-width="0" />
<circle cx="119.21" cy="690.07" r="2" fill="#d272b8" stroke="none" stroke-width="0" />
<circle cx="151.41" cy="774.03" r="2" fill="#2266aa" stroke="none" stroke-width="0" />
<circle cx="189.54" cy="698.26" r="2" fill="#2266aa" stroke="none" stroke-width="0" />
<circle cx="153.49" cy="664.72" r="2" fill="#2266aa" stroke="none" stroke-width="0" />
<circle cx="136.59" cy="695.1" r="2" fill="#2a9960" stroke="none" stroke-width="0" />
<circle cx="118.84" cy="714.85" r="2" fill="#d272b8" stroke="none" stroke-width="0" />
<circle cx="113.81" cy="720.87" r="2" fill="#d272b8" stroke="none" stroke-width="0" />
<circle cx="144.23" cy="778.13" r="2" fill="#2266aa" stroke="none" stroke-width="0" />
<circle cx="99" cy="716.65" r="2" fill="#2a9960" stroke="none" stroke-width="0" />
<circle cx="101.36" cy="730.14" r="2" fill="#2a9960" stroke="none" stroke-width="0" />
<circle cx="141.29" cy="651.07" r="2" fill="#d272b8" stroke="none" stroke-width="0" />
<circle cx="111.4" cy="683.61" r="2" fill="#2a9960" stroke="none" stroke-width="0" />
<circle cx="90.78" cy="721.55" r="2" fill="#2a9960" stroke="none" stroke-width="0" />
<circle cx="156.86" cy="693.51" r="2" fill="#2266aa" stroke="none" stroke-width="0" />
<circle cx="113.6" cy="681.53" r="2" fill="#2a9960" stroke="none" stroke-width="0" />
<circle cx="218.08" cy="702.68" r="2" fill="#d272b8" stroke="none" stroke-width="0" />
<circle cx="158.7" cy="654.66" r="2" fill="#d272b8" stroke="none" stroke-width="0" />
<circle cx="182.74" cy="752.77" r="2" fill="#d272b8" stroke="none" stroke-width="0" />
<circle cx="220.36" cy="716.81" r="2" fill="#d272b8" stroke="none" stroke-width="0" />
<circle cx="144.76" cy="744.84" r="2" fill="#d272b8" stroke="none" stroke-width="0" />
<circle cx="129.44" cy="694.34" r="2" fill="#2a9960" stroke="none" stroke-width="0" />
<circle cx="201.92" cy="733.87" r="2" fill="#2266aa" stroke="none" stroke-width="0" />
<circle cx="172.71" cy="704.69" r="2" fill="#d272b8" stroke="none" stroke-width="0" />
<circle cx="143.29" cy="709.09" r="2" fill="#d272b8" stroke="none" stroke-width="0" />
<circle cx="144.34" cy="690.6" r="2" fill="#2266aa" stroke="none" stroke-width="0" />
<circle cx="153.29" cy="656.03" r="2" fill="#2a9960" stroke="none" stroke-width="0" />
<circle cx="120.99" cy="699.14" r="2" fill="#d272b8" stroke="none" stroke-width="0" />
<circle cx="153.54" cy="690.97" r="2" fill="#d272b8" stroke="none" stroke-width="0" />
<circle cx="157.12" cy="672.31" r="2" fill="#d272b8" stroke="none" stroke-width="0" />
<circle cx="153.03" cy="746.6" r="2" fill="#2266aa" stroke="none" stroke-width="0" />
<circle cx="116.29" cy="674.5" r="2" fill="#d272b8" stroke="none" stroke-width="0" />
<circle cx="102.15" cy="707.94" r="2" fill="#d272b8" stroke="none" stroke-width="0" />
<circle cx="149.23" cy="768.3" r="2" fill="#2a9960" stroke="none" stroke-width="0" />
<circle cx="148.11" cy="755.04" r="2" fill="#2266aa" stroke="none" stroke-width="0" />
<circle cx="122.07" cy="770.9" r="2" fill="#2266aa" stroke="none" stroke-width="0" />
<circle cx="211.05" cy="713.56" r="2" fill="#d272b8" stroke="none" stroke-width="0" />
<circle cx="189.76" cy="691.02" r="2" fill="#2266aa" stroke="none" stroke-width="0" />
<path d="M63.5,640 L72,640 L64.8,801 Z" fill="#333" stroke="none" stroke-width="0" />
<path d="M78.6,803.5 L225,796.5 L225,803.5 Z" fill="#333" stroke="none" stroke-width="0" />
<text x="74.6" y="640.3" font-size="7.9" text-anchor="start" fill="#666f8c" font-weight="normal" dominant-baseline="central" transform="rotate(90 74.6 640.3)" >Nuclear morphometrics (shape/size)</text>
<text x="225" y="792" font-size="7.6" text-anchor="end" fill="#5c6482" font-weight="normal" dominant-baseline="central" >Border intensity</text>
<text x="104.5" y="652.8" font-size="8" text-anchor="middle" fill="#d9874a" font-weight="normal" dominant-baseline="central" >HS</text>
<text x="88.5" y="768.4" font-size="8" text-anchor="middle" fill="#3f6fcf" font-weight="normal" dominant-baseline="central" >CI</text>
<text x="162.4" y="778.2" font-size="8" text-anchor="middle" fill="#c23a3a" font-weight="normal" dominant-baseline="central" >LS</text>
<text x="213.4" y="759.6" font-size="8" text-anchor="middle" fill="#6b9a3c" font-weight="normal" dominant-baseline="central" >BI</text>
<path d="M289,625.3 A15.4,15.4 0 0 1 304.4,640.7 L296.9,640.7 A7.9,7.9 0 0 0 289,632.8 Z" fill="#029E73" stroke="#fff" stroke-width="0.4"/>
<path d="M304.4,640.7 A15.4,15.4 0 0 1 278.46,651.93 L283.59,646.46 A7.9,7.9 0 0 0 296.9,640.7 Z" fill="#0173B2" stroke="#fff" stroke-width="0.4"/>
<path d="M278.46,651.93 A15.4,15.4 0 0 1 289,625.3 L289,632.8 A7.9,7.9 0 0 0 283.59,646.46 Z" fill="#CC78BC" stroke="#fff" stroke-width="0.4"/>
<text x="289" y="617.9" font-size="7.4" text-anchor="middle" fill="#222" font-weight="normal" dominant-baseline="central" >Cluster BI</text>
<path d="M304.4,690.5 A15.4,15.4 0 0 1 285.54,705.51 L287.22,698.2 A7.9,7.9 0 0 0 296.9,690.5 Z" fill="#0173B2" stroke="#fff" stroke-width="0.4"/>
<path d="M285.54,705.51 A15.4,15.4 0 0 1 277.56,700.8 L283.13,695.79 A7.9,7.9 0 0 0 287.22,698.2 Z" fill="#CC78BC" stroke="#fff" stroke-width="0.4"/>
<path d="M277.56,700.8 A15.4,15.4 0 1 1 304.4,690.5 L296.9,690.5 A7.9,7.9 0 1 0 283.13,695.79 Z" fill="#029E73" stroke="#fff" stroke-width="0.4"/>
<text x="289" y="667.5" font-size="7.4" text-anchor="middle" fill="#222" font-weight="normal" dominant-baseline="central" >Cluster CI</text>
<path d="M304.4,740.2 A15.4,15.4 0 0 1 289,755.6 L289,748.1 A7.9,7.9 0 0 0 296.9,740.2 Z" fill="#0173B2" stroke="#fff" stroke-width="0.4"/>
<path d="M289,755.6 A15.4,15.4 0 0 1 279.52,728.06 L284.14,733.97 A7.9,7.9 0 0 0 289,748.1 Z" fill="#CC78BC" stroke="#fff" stroke-width="0.4"/>
<path d="M279.52,728.06 A15.4,15.4 0 0 1 304.4,740.2 L296.9,740.2 A7.9,7.9 0 0 0 284.14,733.97 Z" fill="#029E73" stroke="#fff" stroke-width="0.4"/>
<text x="289" y="717.2" font-size="7.4" text-anchor="middle" fill="#222" font-weight="normal" dominant-baseline="central" >Cluster HS</text>
<path d="M304.4,790 A15.4,15.4 0 1 1 276.54,780.95 L282.61,785.36 A7.9,7.9 0 1 0 296.9,790 Z" fill="#0173B2" stroke="#fff" stroke-width="0.4"/>
<path d="M276.54,780.95 A15.4,15.4 0 0 1 285.54,774.99 L287.22,782.3 A7.9,7.9 0 0 0 282.61,785.36 Z" fill="#CC78BC" stroke="#fff" stroke-width="0.4"/>
<path d="M285.54,774.99 A15.4,15.4 0 0 1 304.4,790 L296.9,790 A7.9,7.9 0 0 0 287.22,782.3 Z" fill="#029E73" stroke="#fff" stroke-width="0.4"/>
<text x="289" y="766.8" font-size="7.4" text-anchor="middle" fill="#222" font-weight="normal" dominant-baseline="central" >Cluster LS</text>
<text x="339" y="378.1" font-size="12.5" font-weight="bold" fill="#000" stroke="#000" stroke-width="0.45">f</text>
<text x="339" y="606.8" font-size="12.5" font-weight="bold" fill="#000" stroke="#000" stroke-width="0.45">g</text>
<rect x="390.04" y="406.6" width="11.38" height="47.7" fill="#b3c3dd" stroke="none" stroke-width="0.8" />
<rect x="406.29" y="431.8" width="11.38" height="22.5" fill="#b3c3dd" stroke="none" stroke-width="0.8" />
<rect x="422.54" y="425.7" width="11.38" height="28.6" fill="#b3c3dd" stroke="none" stroke-width="0.8" />
<rect x="438.79" y="435.5" width="11.38" height="18.8" fill="#b3c3dd" stroke="none" stroke-width="0.8" />
<rect x="387.6" y="404.4" width="65" height="49.9" fill="none" stroke="#555" stroke-width="0.8" />
<path d="M395.73,451.5 L411.98,434 L428.23,418 L444.48,407.7" fill="none" stroke="#2ca02c" stroke-width="2.2" stroke-linejoin="round"/>
<line x1="395.73" y1="449" x2="395.73" y2="454" stroke="#2ca02c" stroke-width="1.6" />
<path d="M395.73,447.5 L399.43,451.5 L395.73,455.5 L392.03,451.5 Z" fill="#2ca02c" stroke="none" stroke-width="0" />
<line x1="411.98" y1="428.5" x2="411.98" y2="439.5" stroke="#2ca02c" stroke-width="1.6" />
<path d="M411.98,430 L415.68,434 L411.98,438 L408.28,434 Z" fill="#2ca02c" stroke="none" stroke-width="0" />
<line x1="428.23" y1="415" x2="428.23" y2="421" stroke="#2ca02c" stroke-width="1.6" />
<path d="M428.23,414 L431.93,418 L428.23,422 L424.53,418 Z" fill="#2ca02c" stroke="none" stroke-width="0" />
<line x1="444.48" y1="405.2" x2="444.48" y2="410.2" stroke="#2ca02c" stroke-width="1.6" />
<path d="M444.48,403.7 L448.18,407.7 L444.48,411.7 L440.78,407.7 Z" fill="#2ca02c" stroke="none" stroke-width="0" />
<line x1="385.1" y1="414.9" x2="387.6" y2="414.9" stroke="#555" stroke-width="0.7" />
<text x="382.5" y="414.9" font-size="8" text-anchor="end" fill="#333" font-weight="normal" dominant-baseline="central" >160</text>
<line x1="385.1" y1="440.5" x2="387.6" y2="440.5" stroke="#555" stroke-width="0.7" />
<text x="382.5" y="440.5" font-size="8" text-anchor="end" fill="#333" font-weight="normal" dominant-baseline="central" >140</text>
<line x1="452.6" y1="414.9" x2="455.1" y2="414.9" stroke="#555" stroke-width="0.7" />
<text x="456.8" y="414.9" font-size="8" text-anchor="start" fill="#333" font-weight="normal" dominant-baseline="central" >50</text>
<line x1="452.6" y1="434.6" x2="455.1" y2="434.6" stroke="#555" stroke-width="0.7" />
<text x="456.8" y="434.6" font-size="8" text-anchor="start" fill="#333" font-weight="normal" dominant-baseline="central" >25</text>
<line x1="452.6" y1="454.3" x2="455.1" y2="454.3" stroke="#555" stroke-width="0.7" />
<text x="456.8" y="454.3" font-size="8" text-anchor="start" fill="#333" font-weight="normal" dominant-baseline="central" >0</text>
<text x="395.73" y="461.8" font-size="7.2" text-anchor="middle" fill="#333" font-weight="normal" dominant-baseline="central" >LS</text>
<text x="411.98" y="461.8" font-size="7.2" text-anchor="middle" fill="#333" font-weight="normal" dominant-baseline="central" >CI</text>
<text x="428.23" y="461.8" font-size="7.2" text-anchor="middle" fill="#333" font-weight="normal" dominant-baseline="central" >BI</text>
<text x="444.48" y="461.8" font-size="7.2" text-anchor="middle" fill="#333" font-weight="normal" dominant-baseline="central" >HS</text>
<text x="420.1" y="476.2" font-size="9" text-anchor="middle" fill="#222" font-weight="normal" dominant-baseline="central" >Cluster</text>
<text x="357.2" y="430.7" font-size="9" text-anchor="middle" fill="#222" font-weight="normal" dominant-baseline="central" transform="rotate(-90 357.2 430.7)" >Volume (µm<tspan dy="-2.6" font-size="5.5">3</tspan><tspan dy="2.6">)</tspan></text>
<text x="480.1" y="429.65" font-size="8.3" text-anchor="middle" fill="#3b92d2" font-weight="normal" dominant-baseline="central" transform="rotate(90 480.1 429.65)" >Young HSC (%)</text>
<rect x="545.06" y="406.6" width="11.48" height="47.7" fill="#b3c3dd" stroke="none" stroke-width="0.8" />
<rect x="561.46" y="431.8" width="11.48" height="22.5" fill="#b3c3dd" stroke="none" stroke-width="0.8" />
<rect x="577.86" y="425.7" width="11.48" height="28.6" fill="#b3c3dd" stroke="none" stroke-width="0.8" />
<rect x="594.26" y="435.5" width="11.48" height="18.8" fill="#b3c3dd" stroke="none" stroke-width="0.8" />
<rect x="542.6" y="404.4" width="65.6" height="49.9" fill="none" stroke="#555" stroke-width="0.8" />
<path d="M550.8,409.9 L567.2,424.6 L583.6,414.9 L600,450.8" fill="none" stroke="#98df8a" stroke-width="2.2" stroke-linejoin="round"/>
<line x1="550.8" y1="406.4" x2="550.8" y2="413.4" stroke="#98df8a" stroke-width="1.6" />
<path d="M550.8,405.9 L554.5,409.9 L550.8,413.9 L547.1,409.9 Z" fill="#98df8a" stroke="none" stroke-width="0" />
<line x1="567.2" y1="420.1" x2="567.2" y2="429.1" stroke="#98df8a" stroke-width="1.6" />
<path d="M567.2,420.6 L570.9,424.6 L567.2,428.6 L563.5,424.6 Z" fill="#98df8a" stroke="none" stroke-width="0" />
<line x1="583.6" y1="410.9" x2="583.6" y2="418.9" stroke="#98df8a" stroke-width="1.6" />
<path d="M583.6,410.9 L587.3,414.9 L583.6,418.9 L579.9,414.9 Z" fill="#98df8a" stroke="none" stroke-width="0" />
<line x1="600" y1="448.3" x2="600" y2="453.3" stroke="#98df8a" stroke-width="1.6" />
<path d="M600,446.8 L603.7,450.8 L600,454.8 L596.3,450.8 Z" fill="#98df8a" stroke="none" stroke-width="0" />
<line x1="540.1" y1="412.7" x2="542.6" y2="412.7" stroke="#555" stroke-width="0.7" />
<text x="537.6" y="412.7" font-size="8" text-anchor="end" fill="#333" font-weight="normal" dominant-baseline="central" >1.1</text>
<line x1="540.1" y1="439.4" x2="542.6" y2="439.4" stroke="#555" stroke-width="0.7" />
<text x="537.6" y="439.4" font-size="8" text-anchor="end" fill="#333" font-weight="normal" dominant-baseline="central" >1.0</text>
<line x1="608.2" y1="414.9" x2="610.7" y2="414.9" stroke="#555" stroke-width="0.7" />
<text x="612.4" y="414.9" font-size="8" text-anchor="start" fill="#333" font-weight="normal" dominant-baseline="central" >50</text>
<line x1="608.2" y1="434.6" x2="610.7" y2="434.6" stroke="#555" stroke-width="0.7" />
<text x="612.4" y="434.6" font-size="8" text-anchor="start" fill="#333" font-weight="normal" dominant-baseline="central" >25</text>
<line x1="608.2" y1="454.3" x2="610.7" y2="454.3" stroke="#555" stroke-width="0.7" />
<text x="612.4" y="454.3" font-size="8" text-anchor="start" fill="#333" font-weight="normal" dominant-baseline="central" >0</text>
<text x="550.8" y="461.8" font-size="7.2" text-anchor="middle" fill="#333" font-weight="normal" dominant-baseline="central" >LS</text>
<text x="567.2" y="461.8" font-size="7.2" text-anchor="middle" fill="#333" font-weight="normal" dominant-baseline="central" >CI</text>
<text x="583.6" y="461.8" font-size="7.2" text-anchor="middle" fill="#333" font-weight="normal" dominant-baseline="central" >BI</text>
<text x="600" y="461.8" font-size="7.2" text-anchor="middle" fill="#333" font-weight="normal" dominant-baseline="central" >HS</text>
<text x="575.4" y="476.2" font-size="9" text-anchor="middle" fill="#222" font-weight="normal" dominant-baseline="central" >Cluster</text>
<text x="505.3" y="429.5" font-size="9" text-anchor="middle" fill="#222" font-weight="normal" dominant-baseline="central" transform="rotate(-90 505.3 429.5)" >Aspect ratio</text>
<text x="515.2" y="429.5" font-size="9" text-anchor="middle" fill="#222" font-weight="normal" dominant-baseline="central" transform="rotate(-90 515.2 429.5)" >(a.u.)</text>
<text x="636.7" y="429.65" font-size="8.3" text-anchor="middle" fill="#3b92d2" font-weight="normal" dominant-baseline="central" transform="rotate(90 636.7 429.65)" >Young HSC (%)</text>
<rect x="390.04" y="500.1" width="11.38" height="47.8" fill="#b3c3dd" stroke="none" stroke-width="0.8" />
<rect x="406.29" y="524.9" width="11.38" height="23" fill="#b3c3dd" stroke="none" stroke-width="0.8" />
<rect x="422.54" y="519" width="11.38" height="28.9" fill="#b3c3dd" stroke="none" stroke-width="0.8" />
<rect x="438.79" y="528.8" width="11.38" height="19.1" fill="#b3c3dd" stroke="none" stroke-width="0.8" />
<rect x="387.6" y="497.5" width="65" height="50.4" fill="none" stroke="#555" stroke-width="0.8" />
<path d="M395.73,544.2 L411.98,515.5 L428.23,513.3 L444.48,501.2" fill="none" stroke="#d62728" stroke-width="2.2" stroke-linejoin="round"/>
<line x1="395.73" y1="541.7" x2="395.73" y2="546.7" stroke="#d62728" stroke-width="1.6" />
<path d="M395.73,540.2 L399.43,544.2 L395.73,548.2 L392.03,544.2 Z" fill="#d62728" stroke="none" stroke-width="0" />
<line x1="411.98" y1="510.5" x2="411.98" y2="520.5" stroke="#d62728" stroke-width="1.6" />
<path d="M411.98,511.5 L415.68,515.5 L411.98,519.5 L408.28,515.5 Z" fill="#d62728" stroke="none" stroke-width="0" />
<line x1="428.23" y1="510.3" x2="428.23" y2="516.3" stroke="#d62728" stroke-width="1.6" />
<path d="M428.23,509.3 L431.93,513.3 L428.23,517.3 L424.53,513.3 Z" fill="#d62728" stroke="none" stroke-width="0" />
<line x1="444.48" y1="498.7" x2="444.48" y2="503.7" stroke="#d62728" stroke-width="1.6" />
<path d="M444.48,497.2 L448.18,501.2 L444.48,505.2 L440.78,501.2 Z" fill="#d62728" stroke="none" stroke-width="0" />
<line x1="385.1" y1="509.1" x2="387.6" y2="509.1" stroke="#555" stroke-width="0.7" />
<text x="382.5" y="509.1" font-size="8" text-anchor="end" fill="#333" font-weight="normal" dominant-baseline="central" >6.00</text>
<line x1="385.1" y1="528.2" x2="387.6" y2="528.2" stroke="#555" stroke-width="0.7" />
<text x="382.5" y="528.2" font-size="8" text-anchor="end" fill="#333" font-weight="normal" dominant-baseline="central" >5.75</text>
<line x1="385.1" y1="546.8" x2="387.6" y2="546.8" stroke="#555" stroke-width="0.7" />
<text x="382.5" y="546.8" font-size="8" text-anchor="end" fill="#333" font-weight="normal" dominant-baseline="central" >5.50</text>
<line x1="452.6" y1="507.8" x2="455.1" y2="507.8" stroke="#555" stroke-width="0.7" />
<text x="456.8" y="507.8" font-size="8" text-anchor="start" fill="#333" font-weight="normal" dominant-baseline="central" >50</text>
<line x1="452.6" y1="528.2" x2="455.1" y2="528.2" stroke="#555" stroke-width="0.7" />
<text x="456.8" y="528.2" font-size="8" text-anchor="start" fill="#333" font-weight="normal" dominant-baseline="central" >25</text>
<line x1="452.6" y1="547.9" x2="455.1" y2="547.9" stroke="#555" stroke-width="0.7" />
<text x="456.8" y="547.9" font-size="8" text-anchor="start" fill="#333" font-weight="normal" dominant-baseline="central" >0</text>
<text x="395.73" y="555.5" font-size="7.2" text-anchor="middle" fill="#333" font-weight="normal" dominant-baseline="central" >LS</text>
<text x="411.98" y="555.5" font-size="7.2" text-anchor="middle" fill="#333" font-weight="normal" dominant-baseline="central" >CI</text>
<text x="428.23" y="555.5" font-size="7.2" text-anchor="middle" fill="#333" font-weight="normal" dominant-baseline="central" >BI</text>
<text x="444.48" y="555.5" font-size="7.2" text-anchor="middle" fill="#333" font-weight="normal" dominant-baseline="central" >HS</text>
<text x="420.1" y="569.3" font-size="9" text-anchor="middle" fill="#222" font-weight="normal" dominant-baseline="central" >Cluster</text>
<text x="343.8" y="522.7" font-size="9" text-anchor="middle" fill="#222" font-weight="normal" dominant-baseline="central" transform="rotate(-90 343.8 522.7)" >Minor axis length</text>
<text x="353.6" y="522.7" font-size="9" text-anchor="middle" fill="#222" font-weight="normal" dominant-baseline="central" transform="rotate(-90 353.6 522.7)" >(µm)</text>
<text x="480.6" y="523" font-size="8.3" text-anchor="middle" fill="#3b92d2" font-weight="normal" dominant-baseline="central" transform="rotate(90 480.6 523)" >Young HSC (%)</text>
<rect x="545.06" y="500.1" width="11.48" height="47.8" fill="#b3c3dd" stroke="none" stroke-width="0.8" />
<rect x="561.46" y="524.9" width="11.48" height="23" fill="#b3c3dd" stroke="none" stroke-width="0.8" />
<rect x="577.86" y="519" width="11.48" height="28.9" fill="#b3c3dd" stroke="none" stroke-width="0.8" />
<rect x="594.26" y="528.8" width="11.48" height="19.1" fill="#b3c3dd" stroke="none" stroke-width="0.8" />
<rect x="542.6" y="497.5" width="65.6" height="50.4" fill="none" stroke="#555" stroke-width="0.8" />
<path d="M550.8,544.2 L567.2,537.4 L583.6,523.8 L600,500.8" fill="none" stroke="#ff9896" stroke-width="2.2" stroke-linejoin="round"/>
<line x1="550.8" y1="541.7" x2="550.8" y2="546.7" stroke="#ff9896" stroke-width="1.6" />
<path d="M550.8,540.2 L554.5,544.2 L550.8,548.2 L547.1,544.2 Z" fill="#ff9896" stroke="none" stroke-width="0" />
<line x1="567.2" y1="533.9" x2="567.2" y2="540.9" stroke="#ff9896" stroke-width="1.6" />
<path d="M567.2,533.4 L570.9,537.4 L567.2,541.4 L563.5,537.4 Z" fill="#ff9896" stroke="none" stroke-width="0" />
<line x1="583.6" y1="520.3" x2="583.6" y2="527.3" stroke="#ff9896" stroke-width="1.6" />
<path d="M583.6,519.8 L587.3,523.8 L583.6,527.8 L579.9,523.8 Z" fill="#ff9896" stroke="none" stroke-width="0" />
<line x1="600" y1="498.3" x2="600" y2="503.3" stroke="#ff9896" stroke-width="1.6" />
<path d="M600,496.8 L603.7,500.8 L600,504.8 L596.3,500.8 Z" fill="#ff9896" stroke="none" stroke-width="0" />
<line x1="540.1" y1="501.9" x2="542.6" y2="501.9" stroke="#555" stroke-width="0.7" />
<text x="537.6" y="501.9" font-size="8" text-anchor="end" fill="#333" font-weight="normal" dominant-baseline="central" >7.5</text>
<line x1="540.1" y1="526.4" x2="542.6" y2="526.4" stroke="#555" stroke-width="0.7" />
<text x="537.6" y="526.4" font-size="8" text-anchor="end" fill="#333" font-weight="normal" dominant-baseline="central" >7.0</text>
<line x1="608.2" y1="507.8" x2="610.7" y2="507.8" stroke="#555" stroke-width="0.7" />
<text x="612.4" y="507.8" font-size="8" text-anchor="start" fill="#333" font-weight="normal" dominant-baseline="central" >50</text>
<line x1="608.2" y1="528.2" x2="610.7" y2="528.2" stroke="#555" stroke-width="0.7" />
<text x="612.4" y="528.2" font-size="8" text-anchor="start" fill="#333" font-weight="normal" dominant-baseline="central" >25</text>
<line x1="608.2" y1="547.9" x2="610.7" y2="547.9" stroke="#555" stroke-width="0.7" />
<text x="612.4" y="547.9" font-size="8" text-anchor="start" fill="#333" font-weight="normal" dominant-baseline="central" >0</text>
<text x="550.8" y="555.5" font-size="7.2" text-anchor="middle" fill="#333" font-weight="normal" dominant-baseline="central" >LS</text>
<text x="567.2" y="555.5" font-size="7.2" text-anchor="middle" fill="#333" font-weight="normal" dominant-baseline="central" >CI</text>
<text x="583.6" y="555.5" font-size="7.2" text-anchor="middle" fill="#333" font-weight="normal" dominant-baseline="central" >BI</text>
<text x="600" y="555.5" font-size="7.2" text-anchor="middle" fill="#333" font-weight="normal" dominant-baseline="central" >HS</text>
<text x="575.4" y="569.3" font-size="9" text-anchor="middle" fill="#222" font-weight="normal" dominant-baseline="central" >Cluster</text>
<text x="503.1" y="523" font-size="9" text-anchor="middle" fill="#222" font-weight="normal" dominant-baseline="central" transform="rotate(-90 503.1 523)" >Largest slide major</text>
<text x="513.6" y="523" font-size="9" text-anchor="middle" fill="#222" font-weight="normal" dominant-baseline="central" transform="rotate(-90 513.6 523)" >axis length (µm)</text>
<text x="636.3" y="523" font-size="8.3" text-anchor="middle" fill="#3b92d2" font-weight="normal" dominant-baseline="central" transform="rotate(90 636.3 523)" >Young HSC (%)</text>
<rect x="389.92" y="657" width="11.76" height="8.4" fill="#e7d5e7" stroke="none" stroke-width="0.8" />
<rect x="406.72" y="653.7" width="11.76" height="11.7" fill="#e7d5e7" stroke="none" stroke-width="0.8" />
<rect x="423.52" y="617.3" width="11.76" height="48.1" fill="#e7d5e7" stroke="none" stroke-width="0.8" />
<rect x="440.32" y="617.3" width="11.76" height="48.1" fill="#e7d5e7" stroke="none" stroke-width="0.8" />
<rect x="387.4" y="615.4" width="67.2" height="50" fill="none" stroke="#555" stroke-width="0.8" />
<path d="M395.8,620.8 L412.6,653 L429.4,653 L446.2,663.3" fill="none" stroke="#1f77b4" stroke-width="2.2" stroke-linejoin="round"/>
<line x1="395.8" y1="615.4" x2="395.8" y2="626.8" stroke="#1f77b4" stroke-width="1.6" />
<path d="M395.8,616.8 L399.5,620.8 L395.8,624.8 L392.1,620.8 Z" fill="#1f77b4" stroke="none" stroke-width="0" />
<line x1="412.6" y1="650" x2="412.6" y2="656" stroke="#1f77b4" stroke-width="1.6" />
<path d="M412.6,649 L416.3,653 L412.6,657 L408.9,653 Z" fill="#1f77b4" stroke="none" stroke-width="0" />
<line x1="429.4" y1="650" x2="429.4" y2="656" stroke="#1f77b4" stroke-width="1.6" />
<path d="M429.4,649 L433.1,653 L429.4,657 L425.7,653 Z" fill="#1f77b4" stroke="none" stroke-width="0" />
<line x1="446.2" y1="660.8" x2="446.2" y2="665.8" stroke="#1f77b4" stroke-width="1.6" />
<path d="M446.2,659.3 L449.9,663.3 L446.2,667.3 L442.5,663.3 Z" fill="#1f77b4" stroke="none" stroke-width="0" />
<line x1="384.9" y1="630.3" x2="387.4" y2="630.3" stroke="#555" stroke-width="0.7" />
<text x="382.8" y="630.3" font-size="8" text-anchor="end" fill="#333" font-weight="normal" dominant-baseline="central" >2.0</text>
<line x1="384.9" y1="651.4" x2="387.4" y2="651.4" stroke="#555" stroke-width="0.7" />
<text x="382.8" y="651.4" font-size="8" text-anchor="end" fill="#333" font-weight="normal" dominant-baseline="central" >1.5</text>
<line x1="454.6" y1="626.2" x2="457.1" y2="626.2" stroke="#555" stroke-width="0.7" />
<text x="458.8" y="626.2" font-size="8" text-anchor="start" fill="#333" font-weight="normal" dominant-baseline="central" >40</text>
<line x1="454.6" y1="645.9" x2="457.1" y2="645.9" stroke="#555" stroke-width="0.7" />
<text x="458.8" y="645.9" font-size="8" text-anchor="start" fill="#333" font-weight="normal" dominant-baseline="central" >20</text>
<line x1="454.6" y1="665.3" x2="457.1" y2="665.3" stroke="#555" stroke-width="0.7" />
<text x="458.8" y="665.3" font-size="8" text-anchor="start" fill="#333" font-weight="normal" dominant-baseline="central" >0</text>
<text x="395.8" y="673.2" font-size="7.2" text-anchor="middle" fill="#333" font-weight="normal" dominant-baseline="central" >CI</text>
<text x="412.6" y="673.2" font-size="7.2" text-anchor="middle" fill="#333" font-weight="normal" dominant-baseline="central" >LS</text>
<text x="429.4" y="673.2" font-size="7.2" text-anchor="middle" fill="#333" font-weight="normal" dominant-baseline="central" >HS</text>
<text x="446.2" y="673.2" font-size="7.2" text-anchor="middle" fill="#333" font-weight="normal" dominant-baseline="central" >BI</text>
<text x="421" y="686.5" font-size="9" text-anchor="middle" fill="#222" font-weight="normal" dominant-baseline="central" >Cluster</text>
<text x="348.1" y="640" font-size="9" text-anchor="middle" fill="#222" font-weight="normal" dominant-baseline="central" transform="rotate(-90 348.1 640)" >DIR volume</text>
<text x="358.2" y="640" font-size="9" text-anchor="middle" fill="#222" font-weight="normal" dominant-baseline="central" transform="rotate(-90 358.2 640)" >(µm<tspan dy="-2.6" font-size="5.5">3</tspan><tspan dy="2.6">)</tspan></text>
<text x="480.6" y="640.7" font-size="8.3" text-anchor="middle" fill="#d88bd0" font-weight="normal" dominant-baseline="central" transform="rotate(90 480.6 640.7)" >Aged + Ri HSC (%)</text>
<rect x="545.13" y="657" width="11.79" height="8.4" fill="#e7d5e7" stroke="none" stroke-width="0.8" />
<rect x="561.98" y="653.7" width="11.79" height="11.7" fill="#e7d5e7" stroke="none" stroke-width="0.8" />
<rect x="578.83" y="617.3" width="11.79" height="48.1" fill="#e7d5e7" stroke="none" stroke-width="0.8" />
<rect x="595.68" y="617.3" width="11.79" height="48.1" fill="#e7d5e7" stroke="none" stroke-width="0.8" />
<rect x="542.6" y="615.4" width="67.4" height="50" fill="none" stroke="#555" stroke-width="0.8" />
<path d="M551.02,661.8 L567.88,655.7 L584.73,646.9 L601.58,618" fill="none" stroke="#aec7e8" stroke-width="2.2" stroke-linejoin="round"/>
<line x1="551.02" y1="659.3" x2="551.02" y2="664.3" stroke="#aec7e8" stroke-width="1.6" />
<path d="M551.02,657.8 L554.73,661.8 L551.02,665.8 L547.32,661.8 Z" fill="#aec7e8" stroke="none" stroke-width="0" />
<line x1="567.88" y1="652.7" x2="567.88" y2="658.7" stroke="#aec7e8" stroke-width="1.6" />
<path d="M567.88,651.7 L571.58,655.7 L567.88,659.7 L564.17,655.7 Z" fill="#aec7e8" stroke="none" stroke-width="0" />
<line x1="584.73" y1="643.4" x2="584.73" y2="650.4" stroke="#aec7e8" stroke-width="1.6" />
<path d="M584.73,642.9 L588.43,646.9 L584.73,650.9 L581.02,646.9 Z" fill="#aec7e8" stroke="none" stroke-width="0" />
<line x1="601.58" y1="615.4" x2="601.58" y2="621" stroke="#aec7e8" stroke-width="1.6" />
<path d="M601.58,614 L605.28,618 L601.58,622 L597.88,618 Z" fill="#aec7e8" stroke="none" stroke-width="0" />
<line x1="540.1" y1="626.3" x2="542.6" y2="626.3" stroke="#555" stroke-width="0.7" />
<text x="537.8" y="626.3" font-size="8" text-anchor="end" fill="#333" font-weight="normal" dominant-baseline="central" >−0.2</text>
<line x1="540.1" y1="659.2" x2="542.6" y2="659.2" stroke="#555" stroke-width="0.7" />
<text x="537.8" y="659.2" font-size="8" text-anchor="end" fill="#333" font-weight="normal" dominant-baseline="central" >−0.4</text>
<line x1="610" y1="616" x2="612.5" y2="616" stroke="#555" stroke-width="0.7" />
<text x="614.2" y="616" font-size="8" text-anchor="start" fill="#333" font-weight="normal" dominant-baseline="central" >40</text>
<line x1="610" y1="640.6" x2="612.5" y2="640.6" stroke="#555" stroke-width="0.7" />
<text x="614.2" y="640.6" font-size="8" text-anchor="start" fill="#333" font-weight="normal" dominant-baseline="central" >20</text>
<line x1="610" y1="665.3" x2="612.5" y2="665.3" stroke="#555" stroke-width="0.7" />
<text x="614.2" y="665.3" font-size="8" text-anchor="start" fill="#333" font-weight="normal" dominant-baseline="central" >0</text>
<text x="551.02" y="673.2" font-size="7.2" text-anchor="middle" fill="#333" font-weight="normal" dominant-baseline="central" >CI</text>
<text x="567.88" y="673.2" font-size="7.2" text-anchor="middle" fill="#333" font-weight="normal" dominant-baseline="central" >LS</text>
<text x="584.73" y="673.2" font-size="7.2" text-anchor="middle" fill="#333" font-weight="normal" dominant-baseline="central" >HS</text>
<text x="601.58" y="673.2" font-size="7.2" text-anchor="middle" fill="#333" font-weight="normal" dominant-baseline="central" >BI</text>
<text x="576.3" y="686.5" font-size="9" text-anchor="middle" fill="#222" font-weight="normal" dominant-baseline="central" >Cluster</text>
<text x="499.9" y="640.2" font-size="9" text-anchor="middle" fill="#222" font-weight="normal" dominant-baseline="central" transform="rotate(-90 499.9 640.2)" >Intensity</text>
<text x="510.1" y="640.2" font-size="9" text-anchor="middle" fill="#222" font-weight="normal" dominant-baseline="central" transform="rotate(-90 510.1 640.2)" >0–0.5 µm (a.u.)</text>
<text x="636.3" y="640.7" font-size="8.3" text-anchor="middle" fill="#d88bd0" font-weight="normal" dominant-baseline="central" transform="rotate(90 636.3 640.7)" >Aged + Ri HSC (%)</text>
<rect x="389.92" y="746.9" width="11.76" height="8.7" fill="#e7d5e7" stroke="none" stroke-width="0.8" />
<rect x="406.72" y="743.6" width="11.76" height="12" fill="#e7d5e7" stroke="none" stroke-width="0.8" />
<rect x="423.52" y="707.5" width="11.76" height="48.1" fill="#e7d5e7" stroke="none" stroke-width="0.8" />
<rect x="440.32" y="707.5" width="11.76" height="48.1" fill="#e7d5e7" stroke="none" stroke-width="0.8" />
<rect x="387.4" y="705.3" width="67.2" height="50.3" fill="none" stroke="#555" stroke-width="0.8" />
<path d="M395.8,711.9 L412.6,737.5 L429.4,745.8 L446.2,752.4" fill="none" stroke="#ff7f0e" stroke-width="2.2" stroke-linejoin="round"/>
<line x1="395.8" y1="705.9" x2="395.8" y2="717.9" stroke="#ff7f0e" stroke-width="1.6" />
<path d="M395.8,707.9 L399.5,711.9 L395.8,715.9 L392.1,711.9 Z" fill="#ff7f0e" stroke="none" stroke-width="0" />
<line x1="412.6" y1="734.5" x2="412.6" y2="740.5" stroke="#ff7f0e" stroke-width="1.6" />
<path d="M412.6,733.5 L416.3,737.5 L412.6,741.5 L408.9,737.5 Z" fill="#ff7f0e" stroke="none" stroke-width="0" />
<line x1="429.4" y1="743.3" x2="429.4" y2="748.3" stroke="#ff7f0e" stroke-width="1.6" />
<path d="M429.4,741.8 L433.1,745.8 L429.4,749.8 L425.7,745.8 Z" fill="#ff7f0e" stroke="none" stroke-width="0" />
<line x1="446.2" y1="749.9" x2="446.2" y2="754.9" stroke="#ff7f0e" stroke-width="1.6" />
<path d="M446.2,748.4 L449.9,752.4 L446.2,756.4 L442.5,752.4 Z" fill="#ff7f0e" stroke="none" stroke-width="0" />
<line x1="384.9" y1="723.3" x2="387.4" y2="723.3" stroke="#555" stroke-width="0.7" />
<text x="382.8" y="723.3" font-size="8" text-anchor="end" fill="#333" font-weight="normal" dominant-baseline="central" >0.20</text>
<line x1="384.9" y1="744.3" x2="387.4" y2="744.3" stroke="#555" stroke-width="0.7" />
<text x="382.8" y="744.3" font-size="8" text-anchor="end" fill="#333" font-weight="normal" dominant-baseline="central" >0.15</text>
<line x1="454.6" y1="705.8" x2="457.1" y2="705.8" stroke="#555" stroke-width="0.7" />
<text x="458.8" y="705.8" font-size="8" text-anchor="start" fill="#333" font-weight="normal" dominant-baseline="central" >40</text>
<line x1="454.6" y1="730.5" x2="457.1" y2="730.5" stroke="#555" stroke-width="0.7" />
<text x="458.8" y="730.5" font-size="8" text-anchor="start" fill="#333" font-weight="normal" dominant-baseline="central" >20</text>
<line x1="454.6" y1="755.6" x2="457.1" y2="755.6" stroke="#555" stroke-width="0.7" />
<text x="458.8" y="755.6" font-size="8" text-anchor="start" fill="#333" font-weight="normal" dominant-baseline="central" >0</text>
<text x="395.8" y="763.4" font-size="7.2" text-anchor="middle" fill="#333" font-weight="normal" dominant-baseline="central" >CI</text>
<text x="412.6" y="763.4" font-size="7.2" text-anchor="middle" fill="#333" font-weight="normal" dominant-baseline="central" >LS</text>
<text x="429.4" y="763.4" font-size="7.2" text-anchor="middle" fill="#333" font-weight="normal" dominant-baseline="central" >HS</text>
<text x="446.2" y="763.4" font-size="7.2" text-anchor="middle" fill="#333" font-weight="normal" dominant-baseline="central" >BI</text>
<text x="421" y="776.1" font-size="9" text-anchor="middle" fill="#222" font-weight="normal" dominant-baseline="central" >Cluster</text>
<text x="343.8" y="730.5" font-size="9" text-anchor="middle" fill="#222" font-weight="normal" dominant-baseline="central" transform="rotate(-90 343.8 730.5)" >DIR sphericity</text>
<text x="354.3" y="730.5" font-size="9" text-anchor="middle" fill="#222" font-weight="normal" dominant-baseline="central" transform="rotate(-90 354.3 730.5)" >(a.u.)</text>
<text x="480.6" y="730.75" font-size="8.3" text-anchor="middle" fill="#d88bd0" font-weight="normal" dominant-baseline="central" transform="rotate(90 480.6 730.75)" >Aged + Ri HSC (%)</text>
<rect x="545.13" y="746.9" width="11.79" height="8.5" fill="#e7d5e7" stroke="none" stroke-width="0.8" />
<rect x="561.98" y="743.6" width="11.79" height="11.8" fill="#e7d5e7" stroke="none" stroke-width="0.8" />
<rect x="578.83" y="707.5" width="11.79" height="47.9" fill="#e7d5e7" stroke="none" stroke-width="0.8" />
<rect x="595.68" y="707.5" width="11.79" height="47.9" fill="#e7d5e7" stroke="none" stroke-width="0.8" />
<rect x="542.6" y="705.3" width="67.4" height="50.1" fill="none" stroke="#555" stroke-width="0.8" />
<path d="M551.02,752.4 L567.88,734.9 L584.73,723.3 L601.58,709" fill="none" stroke="#ffbb78" stroke-width="2.2" stroke-linejoin="round"/>
<line x1="551.02" y1="749.9" x2="551.02" y2="754.9" stroke="#ffbb78" stroke-width="1.6" />
<path d="M551.02,748.4 L554.73,752.4 L551.02,756.4 L547.32,752.4 Z" fill="#ffbb78" stroke="none" stroke-width="0" />
<line x1="567.88" y1="731.9" x2="567.88" y2="737.9" stroke="#ffbb78" stroke-width="1.6" />
<path d="M567.88,730.9 L571.58,734.9 L567.88,738.9 L564.17,734.9 Z" fill="#ffbb78" stroke="none" stroke-width="0" />
<line x1="584.73" y1="720.3" x2="584.73" y2="726.3" stroke="#ffbb78" stroke-width="1.6" />
<path d="M584.73,719.3 L588.43,723.3 L584.73,727.3 L581.02,723.3 Z" fill="#ffbb78" stroke="none" stroke-width="0" />
<line x1="601.58" y1="706.5" x2="601.58" y2="711.5" stroke="#ffbb78" stroke-width="1.6" />
<path d="M601.58,705 L605.28,709 L601.58,713 L597.88,709 Z" fill="#ffbb78" stroke="none" stroke-width="0" />
<line x1="540.1" y1="710.1" x2="542.6" y2="710.1" stroke="#555" stroke-width="0.7" />
<text x="537.8" y="710.1" font-size="8" text-anchor="end" fill="#333" font-weight="normal" dominant-baseline="central" >25</text>
<line x1="540.1" y1="729" x2="542.6" y2="729" stroke="#555" stroke-width="0.7" />
<text x="537.8" y="729" font-size="8" text-anchor="end" fill="#333" font-weight="normal" dominant-baseline="central" >20</text>
<line x1="540.1" y1="748" x2="542.6" y2="748" stroke="#555" stroke-width="0.7" />
<text x="537.8" y="748" font-size="8" text-anchor="end" fill="#333" font-weight="normal" dominant-baseline="central" >15</text>
<line x1="610" y1="705.8" x2="612.5" y2="705.8" stroke="#555" stroke-width="0.7" />
<text x="614.2" y="705.8" font-size="8" text-anchor="start" fill="#333" font-weight="normal" dominant-baseline="central" >40</text>
<line x1="610" y1="731" x2="612.5" y2="731" stroke="#555" stroke-width="0.7" />
<text x="614.2" y="731" font-size="8" text-anchor="start" fill="#333" font-weight="normal" dominant-baseline="central" >20</text>
<line x1="610" y1="755.4" x2="612.5" y2="755.4" stroke="#555" stroke-width="0.7" />
<text x="614.2" y="755.4" font-size="8" text-anchor="start" fill="#333" font-weight="normal" dominant-baseline="central" >0</text>
<text x="551.02" y="763.4" font-size="7.2" text-anchor="middle" fill="#333" font-weight="normal" dominant-baseline="central" >CI</text>
<text x="567.88" y="763.4" font-size="7.2" text-anchor="middle" fill="#333" font-weight="normal" dominant-baseline="central" >LS</text>
<text x="584.73" y="763.4" font-size="7.2" text-anchor="middle" fill="#333" font-weight="normal" dominant-baseline="central" >HS</text>
<text x="601.58" y="763.4" font-size="7.2" text-anchor="middle" fill="#333" font-weight="normal" dominant-baseline="central" >BI</text>
<text x="576.3" y="776.1" font-size="9" text-anchor="middle" fill="#222" font-weight="normal" dominant-baseline="central" >Cluster</text>
<text x="507.5" y="731.3" font-size="9" text-anchor="middle" fill="#222" font-weight="normal" dominant-baseline="central" transform="rotate(-90 507.5 731.3)" >Number of</text>
<text x="517.4" y="731.3" font-size="9" text-anchor="middle" fill="#222" font-weight="normal" dominant-baseline="central" transform="rotate(-90 517.4 731.3)" >DIRs</text>
<text x="636.3" y="730.65" font-size="8.3" text-anchor="middle" fill="#d88bd0" font-weight="normal" dominant-baseline="central" transform="rotate(90 636.3 730.65)" >Aged + Ri HSC (%)</text>
<defs>
<pattern id="hatch" patternUnits="userSpaceOnUse" width="3.4" height="3.4" patternTransform="rotate(-30)">
<line x1="0" y1="1.7" x2="3.4" y2="1.7" stroke="#e0545a" stroke-width="0.75" stroke-dasharray="0.9 0.8"/>
</pattern>
<pattern id="hatch2" patternUnits="userSpaceOnUse" width="1.8" height="1.8" patternTransform="rotate(45)">
<rect width="1.8" height="1.8" fill="#f7d0dc"/>
<rect width="0.9" height="0.9" fill="#e4505e"/>
<rect x="0.9" y="0.9" width="0.9" height="0.9" fill="#e4505e"/>
</pattern>
</defs>
<path d="M76.6,2 C80.35,1.67 88.48,2.73 92.9,4.1 C97.32,5.47 101.05,6.97 103.1,10.2 C105.15,13.43 105.02,19.58 105.2,23.5 C105.38,27.42 105.4,30.8 104.2,33.7 C103,36.6 100.57,39.02 98,40.9 C95.43,42.78 92.03,43.82 88.8,45 C85.57,46.18 82,48.35 78.6,48 C75.2,47.65 71.12,45.28 68.4,42.9 C65.68,40.52 64,36.6 62.3,33.7 C60.6,30.8 58.03,28.57 58.2,25.5 C58.37,22.43 61.27,18.53 63.3,15.3 C65.33,12.07 68.18,8.32 70.4,6.1 C72.62,3.88 72.85,2.33 76.6,2 Z" fill="#eaf1fb" stroke="#93b0df" stroke-width="0.6"/>
<path d="M73.5,9.2 C74.87,8.35 77.47,7.77 80.7,8.2 C83.93,8.63 90.52,10.27 92.9,11.8 C95.28,13.33 95,15.45 95,17.4 C95,19.35 92.73,21.12 92.9,23.5 C93.07,25.88 96,29.32 96,31.7 C96,34.08 94.95,36.35 92.9,37.8 C90.85,39.25 86.77,39.88 83.7,40.4 C80.63,40.92 77.57,42.02 74.5,40.9 C71.43,39.78 67.33,36.6 65.3,33.7 C63.27,30.8 61.95,26.4 62.3,23.5 C62.65,20.6 65.7,18 67.4,16.3 C69.1,14.6 71.48,14.48 72.5,13.3 C73.52,12.12 72.13,10.05 73.5,9.2 Z" fill="#acd8f1" stroke="none"/>
<path d="M73.5,9.2 C74.87,8.35 77.47,7.77 80.7,8.2 C83.93,8.63 90.52,10.27 92.9,11.8 C95.28,13.33 95,15.45 95,17.4 C95,19.35 92.73,21.12 92.9,23.5 C93.07,25.88 96,29.32 96,31.7 C96,34.08 94.95,36.35 92.9,37.8 C90.85,39.25 86.77,39.88 83.7,40.4 C80.63,40.92 77.57,42.02 74.5,40.9 C71.43,39.78 67.33,36.6 65.3,33.7 C63.27,30.8 61.95,26.4 62.3,23.5 C62.65,20.6 65.7,18 67.4,16.3 C69.1,14.6 71.48,14.48 72.5,13.3 C73.52,12.12 72.13,10.05 73.5,9.2 Z" fill="url(#hatch)" stroke="#2d5f9e" stroke-width="0.9"/>
<circle cx="66.9" cy="24.5" r="3" fill="#f6d4e2" stroke="none" stroke-width="0" opacity="0.9"/>
<circle cx="66.9" cy="24.5" r="1.8" fill="url(#hatch)" stroke="none" stroke-width="0" />
<circle cx="80.7" cy="30.7" r="3.3" fill="#f6d4e2" stroke="none" stroke-width="0" opacity="0.9"/>
<circle cx="80.7" cy="30.7" r="1.98" fill="url(#hatch)" stroke="none" stroke-width="0" />
<circle cx="89.9" cy="19.4" r="3.2" fill="#f6d4e2" stroke="none" stroke-width="0" opacity="0.9"/>
<circle cx="89.9" cy="19.4" r="1.92" fill="url(#hatch)" stroke="none" stroke-width="0" />
<text x="90.9" y="41.9" font-size="6.2" text-anchor="middle" fill="#e07a7e" font-weight="normal" dominant-baseline="central" >3D</text>
<path d="M216.7,1.5 C220.45,1.17 228.58,2.23 233,3.6 C237.42,4.97 241.15,6.47 243.2,9.7 C245.25,12.93 245.12,19.08 245.3,23 C245.48,26.92 245.5,30.3 244.3,33.2 C243.1,36.1 240.67,38.52 238.1,40.4 C235.53,42.28 232.13,43.32 228.9,44.5 C225.67,45.68 222.1,47.85 218.7,47.5 C215.3,47.15 211.22,44.78 208.5,42.4 C205.78,40.02 204.1,36.1 202.4,33.2 C200.7,30.3 198.13,28.07 198.3,25 C198.47,21.93 201.37,18.03 203.4,14.8 C205.43,11.57 208.28,7.82 210.5,5.6 C212.72,3.38 212.95,1.83 216.7,1.5 Z" fill="#eaf1fb" stroke="#93b0df" stroke-width="0.6"/>
<path d="M213.6,8.7 C214.97,7.85 217.57,7.27 220.8,7.7 C224.03,8.13 230.62,9.77 233,11.3 C235.38,12.83 235.1,14.95 235.1,16.9 C235.1,18.85 232.83,20.62 233,23 C233.17,25.38 236.1,28.82 236.1,31.2 C236.1,33.58 235.05,35.85 233,37.3 C230.95,38.75 226.87,39.38 223.8,39.9 C220.73,40.42 217.67,41.52 214.6,40.4 C211.53,39.28 207.43,36.1 205.4,33.2 C203.37,30.3 202.05,25.9 202.4,23 C202.75,20.1 205.8,17.5 207.5,15.8 C209.2,14.1 211.58,13.98 212.6,12.8 C213.62,11.62 212.23,9.55 213.6,8.7 Z" fill="#acd8f1" stroke="none"/>
<path d="M213.6,8.7 C214.97,7.85 217.57,7.27 220.8,7.7 C224.03,8.13 230.62,9.77 233,11.3 C235.38,12.83 235.1,14.95 235.1,16.9 C235.1,18.85 232.83,20.62 233,23 C233.17,25.38 236.1,28.82 236.1,31.2 C236.1,33.58 235.05,35.85 233,37.3 C230.95,38.75 226.87,39.38 223.8,39.9 C220.73,40.42 217.67,41.52 214.6,40.4 C211.53,39.28 207.43,36.1 205.4,33.2 C203.37,30.3 202.05,25.9 202.4,23 C202.75,20.1 205.8,17.5 207.5,15.8 C209.2,14.1 211.58,13.98 212.6,12.8 C213.62,11.62 212.23,9.55 213.6,8.7 Z" fill="url(#hatch)" stroke="#2d5f9e" stroke-width="0.9"/>
<circle cx="207" cy="24" r="3" fill="#f6d4e2" stroke="none" stroke-width="0" opacity="0.9"/>
<circle cx="207" cy="24" r="1.8" fill="url(#hatch)" stroke="none" stroke-width="0" />
<circle cx="220.8" cy="30.2" r="3.3" fill="#f6d4e2" stroke="none" stroke-width="0" opacity="0.9"/>
<circle cx="220.8" cy="30.2" r="1.98" fill="url(#hatch)" stroke="none" stroke-width="0" />
<circle cx="230" cy="18.9" r="3.2" fill="#f6d4e2" stroke="none" stroke-width="0" opacity="0.9"/>
<circle cx="230" cy="18.9" r="1.92" fill="url(#hatch)" stroke="none" stroke-width="0" />
<text x="231" y="42" font-size="6.2" text-anchor="middle" fill="#e07a7e" font-weight="normal" dominant-baseline="central" >3D</text>
<path d="M366.1,2.3 C369.85,1.97 377.98,3.03 382.4,4.4 C386.82,5.77 390.55,7.27 392.6,10.5 C394.65,13.73 394.52,19.88 394.7,23.8 C394.88,27.72 394.9,31.1 393.7,34 C392.5,36.9 390.07,39.32 387.5,41.2 C384.93,43.08 381.53,44.12 378.3,45.3 C375.07,46.48 371.5,48.65 368.1,48.3 C364.7,47.95 360.62,45.58 357.9,43.2 C355.18,40.82 353.5,36.9 351.8,34 C350.1,31.1 347.53,28.87 347.7,25.8 C347.87,22.73 350.77,18.83 352.8,15.6 C354.83,12.37 357.68,8.62 359.9,6.4 C362.12,4.18 362.35,2.63 366.1,2.3 Z" fill="#eaf1fb" stroke="#93b0df" stroke-width="0.6"/>
<path d="M363,9.5 C364.37,8.65 366.97,8.07 370.2,8.5 C373.43,8.93 380.02,10.57 382.4,12.1 C384.78,13.63 384.5,15.75 384.5,17.7 C384.5,19.65 382.23,21.42 382.4,23.8 C382.57,26.18 385.5,29.62 385.5,32 C385.5,34.38 384.45,36.65 382.4,38.1 C380.35,39.55 376.27,40.18 373.2,40.7 C370.13,41.22 367.07,42.32 364,41.2 C360.93,40.08 356.83,36.9 354.8,34 C352.77,31.1 351.45,26.7 351.8,23.8 C352.15,20.9 355.2,18.3 356.9,16.6 C358.6,14.9 360.98,14.78 362,13.6 C363.02,12.42 361.63,10.35 363,9.5 Z" fill="#b5d9f1" stroke="#d9484f" stroke-width="1.1" stroke-dasharray="1.6 1.3"/>
<path d="M357.8,24.68 C357.57,25.23 358.57,26.4 358.43,26.9 C358.29,27.41 357.46,27.6 356.98,27.72 C356.49,27.84 355.93,27.8 355.5,27.62 C355.07,27.43 354.65,27.06 354.4,26.63 C354.14,26.19 353.98,25.58 353.97,25.01 C353.95,24.44 354.09,23.76 354.32,23.21 C354.55,22.66 354.95,22.09 355.37,21.7 C355.78,21.31 356.34,21 356.82,20.88 C357.31,20.76 357.87,20.8 358.3,20.98 C358.73,21.17 359.15,21.54 359.4,21.97 C359.66,22.41 360.1,23.14 359.83,23.59 C359.57,24.04 358.04,24.13 357.8,24.68 Z" fill="#f2d3ea" stroke="#c285c2" stroke-width="0.4"/>
<circle cx="370.7" cy="30.6" r="3.8" fill="#f2d3ea" stroke="#c285c2" stroke-width="0.4" />
<path d="M378.02,18.73 C378.29,18.01 377.21,16.68 377.37,16.03 C377.54,15.39 378.45,15.05 378.99,14.84 C379.53,14.64 380.15,14.62 380.61,14.79 C381.08,14.97 381.53,15.38 381.8,15.9 C382.07,16.41 382.24,17.15 382.24,17.86 C382.24,18.57 382.08,19.43 381.81,20.15 C381.54,20.87 381.09,21.63 380.63,22.17 C380.16,22.7 379.55,23.15 379.01,23.36 C378.47,23.56 377.85,23.58 377.39,23.41 C376.92,23.23 376.47,22.82 376.2,22.3 C375.93,21.79 375.46,20.94 375.76,20.34 C376.06,19.75 377.75,19.45 378.02,18.73 Z" fill="#f2d3ea" stroke="#c285c2" stroke-width="0.4"/>
<text x="381.6" y="42.4" font-size="6.2" text-anchor="middle" fill="#e07a7e" font-weight="normal" dominant-baseline="central" >2D</text>
<path d="M488.5,3 C492.25,2.67 500.38,3.73 504.8,5.1 C509.22,6.47 512.95,7.97 515,11.2 C517.05,14.43 516.92,20.58 517.1,24.5 C517.28,28.42 517.3,31.8 516.1,34.7 C514.9,37.6 512.47,40.02 509.9,41.9 C507.33,43.78 503.93,44.82 500.7,46 C497.47,47.18 493.9,49.35 490.5,49 C487.1,48.65 483.02,46.28 480.3,43.9 C477.58,41.52 475.9,37.6 474.2,34.7 C472.5,31.8 469.93,29.57 470.1,26.5 C470.27,23.43 473.17,19.53 475.2,16.3 C477.23,13.07 480.08,9.32 482.3,7.1 C484.52,4.88 484.75,3.33 488.5,3 Z" fill="#eaf1fb" stroke="#93b0df" stroke-width="0.6"/>
<path d="M485.4,10.2 C486.77,9.35 489.37,8.77 492.6,9.2 C495.83,9.63 502.42,11.27 504.8,12.8 C507.18,14.33 506.9,16.45 506.9,18.4 C506.9,20.35 504.63,22.12 504.8,24.5 C504.97,26.88 507.9,30.32 507.9,32.7 C507.9,35.08 506.85,37.35 504.8,38.8 C502.75,40.25 498.67,40.88 495.6,41.4 C492.53,41.92 489.47,43.02 486.4,41.9 C483.33,40.78 479.23,37.6 477.2,34.7 C475.17,31.8 473.85,27.4 474.2,24.5 C474.55,21.6 477.6,19 479.3,17.3 C481,15.6 483.38,15.48 484.4,14.3 C485.42,13.12 484.03,11.05 485.4,10.2 Z" fill="#b5d9f1" stroke="#2d5f9e" stroke-width="0.9"/>
<path d="M478.7,26.38 C478.47,26.93 479.47,28.1 479.33,28.6 C479.19,29.11 478.36,29.3 477.88,29.42 C477.39,29.54 476.83,29.5 476.4,29.32 C475.97,29.13 475.55,28.76 475.3,28.33 C475.04,27.89 474.88,27.28 474.87,26.71 C474.85,26.14 474.99,25.46 475.22,24.91 C475.45,24.36 475.85,23.79 476.27,23.4 C476.68,23.01 477.24,22.7 477.72,22.58 C478.21,22.46 478.77,22.5 479.2,22.68 C479.63,22.87 480.05,23.24 480.3,23.67 C480.56,24.11 481,24.84 480.73,25.29 C480.47,25.74 478.94,25.83 478.7,26.38 Z" fill="url(#hatch2)" stroke="#d88aa8" stroke-width="0.4"/>
<circle cx="492.1" cy="32.2" r="4" fill="url(#hatch2)" stroke="#d88aa8" stroke-width="0.4" />
<path d="M500.25,20.01 C500.53,19.26 499.38,17.86 499.55,17.18 C499.71,16.5 500.69,16.16 501.26,15.95 C501.83,15.73 502.48,15.72 502.98,15.91 C503.48,16.09 503.96,16.53 504.26,17.07 C504.55,17.61 504.73,18.38 504.74,19.12 C504.74,19.87 504.58,20.77 504.3,21.52 C504.02,22.27 503.55,23.06 503.05,23.62 C502.56,24.17 501.91,24.64 501.34,24.85 C500.77,25.07 500.12,25.08 499.62,24.89 C499.12,24.71 498.64,24.27 498.34,23.73 C498.05,23.19 497.54,22.3 497.86,21.68 C498.18,21.05 499.97,20.76 500.25,20.01 Z" fill="url(#hatch2)" stroke="#d88aa8" stroke-width="0.4"/>
<text x="502.3" y="44" font-size="6.2" text-anchor="middle" fill="#e07a7e" font-weight="normal" dominant-baseline="central" >3D</text>
<path d="M619,2.4 C622.75,2.07 630.88,3.13 635.3,4.5 C639.72,5.87 643.45,7.37 645.5,10.6 C647.55,13.83 647.42,19.98 647.6,23.9 C647.78,27.82 647.8,31.2 646.6,34.1 C645.4,37 642.97,39.42 640.4,41.3 C637.83,43.18 634.43,44.22 631.2,45.4 C627.97,46.58 624.4,48.75 621,48.4 C617.6,48.05 613.52,45.68 610.8,43.3 C608.08,40.92 606.4,37 604.7,34.1 C603,31.2 600.43,28.97 600.6,25.9 C600.77,22.83 603.67,18.93 605.7,15.7 C607.73,12.47 610.58,8.72 612.8,6.5 C615.02,4.28 615.25,2.73 619,2.4 Z" fill="#eaf1fb" stroke="#93b0df" stroke-width="0.6"/>
<path d="M615.9,9.6 C617.27,8.75 619.87,8.17 623.1,8.6 C626.33,9.03 632.92,10.67 635.3,12.2 C637.68,13.73 637.4,15.85 637.4,17.8 C637.4,19.75 635.13,21.52 635.3,23.9 C635.47,26.28 638.4,29.72 638.4,32.1 C638.4,34.48 637.35,36.75 635.3,38.2 C633.25,39.65 629.17,40.28 626.1,40.8 C623.03,41.32 619.97,42.42 616.9,41.3 C613.83,40.18 609.73,37 607.7,34.1 C605.67,31.2 604.35,26.8 604.7,23.9 C605.05,21 608.1,18.4 609.8,16.7 C611.5,15 613.88,14.88 614.9,13.7 C615.92,12.52 614.53,10.45 615.9,9.6 Z" fill="#b5d9f1" stroke="#2d5f9e" stroke-width="0.9"/>
<path d="M610.7,24.78 C610.47,25.33 611.47,26.5 611.33,27 C611.19,27.51 610.36,27.7 609.88,27.82 C609.39,27.94 608.83,27.9 608.4,27.72 C607.97,27.53 607.55,27.16 607.3,26.73 C607.04,26.29 606.88,25.68 606.87,25.11 C606.85,24.54 606.99,23.86 607.22,23.31 C607.45,22.76 607.85,22.19 608.27,21.8 C608.68,21.41 609.24,21.1 609.72,20.98 C610.21,20.86 610.77,20.9 611.2,21.08 C611.63,21.27 612.05,21.64 612.3,22.07 C612.56,22.51 613,23.24 612.73,23.69 C612.47,24.14 610.94,24.23 610.7,24.78 Z" fill="#f2d3ea" stroke="#c285c2" stroke-width="0.4"/>
<circle cx="623.6" cy="30.7" r="3.8" fill="#f2d3ea" stroke="#c285c2" stroke-width="0.4" />
<path d="M630.92,18.83 C631.19,18.11 630.11,16.78 630.27,16.13 C630.44,15.49 631.35,15.15 631.89,14.94 C632.43,14.74 633.05,14.72 633.51,14.89 C633.98,15.07 634.43,15.48 634.7,16 C634.97,16.51 635.14,17.25 635.14,17.96 C635.14,18.67 634.98,19.53 634.71,20.25 C634.44,20.97 633.99,21.73 633.53,22.27 C633.06,22.8 632.45,23.25 631.91,23.46 C631.37,23.66 630.75,23.68 630.29,23.51 C629.82,23.33 629.37,22.92 629.1,22.4 C628.83,21.89 628.36,21.04 628.66,20.44 C628.96,19.85 630.65,19.55 630.92,18.83 Z" fill="#f2d3ea" stroke="#c285c2" stroke-width="0.4"/>
<circle cx="622.3" cy="23.9" r="19.3" fill="none" stroke="#cf4a4f" stroke-width="1.1" />
<line x1="622.3" y1="5.9" x2="622.3" y2="41.9" stroke="#cf4a4f" stroke-width="1.1" stroke-dasharray="1.8 1.6"/>
<text x="635.3" y="42.9" font-size="6.2" text-anchor="middle" fill="#e07a7e" font-weight="normal" dominant-baseline="central" >3D</text>
</svg>
</body></html>
